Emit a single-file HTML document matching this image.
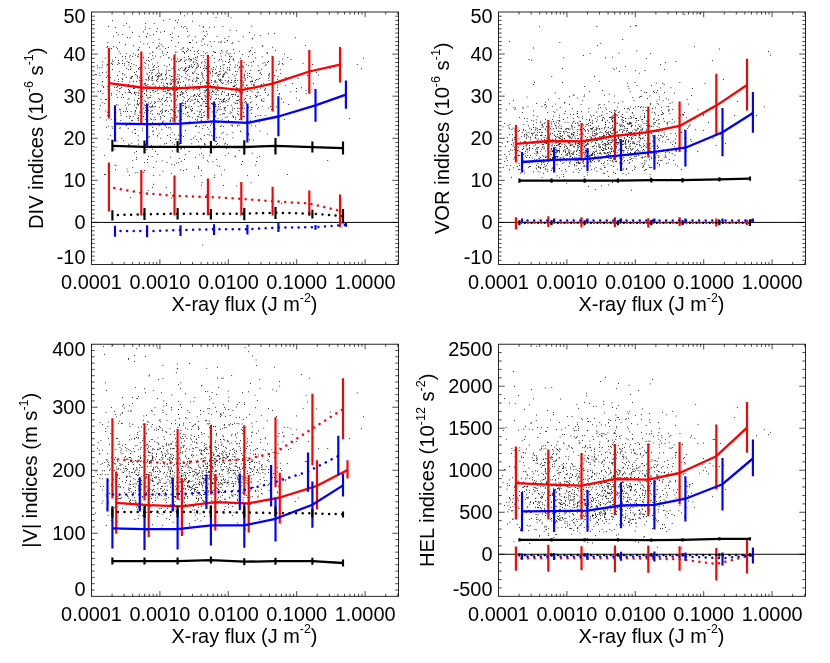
<!DOCTYPE html>
<html><head><meta charset="utf-8"><title>Flow indices vs X-ray flux</title>
<style>html,body{margin:0;padding:0;background:#fff;}svg{display:block;will-change:transform;}text{font-family:"Liberation Sans",sans-serif;font-size:19.9px;fill:#000;}</style></head><body>
<svg width="830" height="663" viewBox="0 0 830 663">
<rect x="0" y="0" width="830" height="663" fill="#fff"/>
<g>
<path d="M161.8 121.7h0.9M177.8 111.9h0.9M178.0 83.0h0.9M255.2 58.0h0.9M248.0 133.5h0.9M111.0 48.5h0.9M171.8 151.0h0.9M244.0 76.0h0.9M216.4 82.3h0.9M229.7 111.9h0.9M216.1 159.4h0.9M158.5 114.8h0.9M138.4 115.5h0.9M166.6 162.5h0.9M220.0 79.3h0.9M197.0 56.6h0.9M177.3 83.7h0.9M220.7 56.1h0.9M176.2 99.5h0.9M134.1 129.5h0.9M203.9 135.4h0.9M181.7 102.2h0.9M132.0 160.4h0.9M290.5 59.5h0.9M159.9 119.1h0.9M234.9 78.4h0.9M193.0 66.2h0.9M235.0 65.1h0.9M172.7 94.1h0.9M237.1 113.7h0.9M215.1 52.5h0.9M127.0 37.5h0.9M209.2 27.7h0.9M137.0 100.5h0.9M104.1 174.4h0.9M198.5 132.5h0.9M205.8 106.3h0.9M180.3 95.2h0.9M200.4 148.7h0.9M159.4 76.5h0.9M108.2 26.5h0.9M107.0 75.8h0.9M199.1 96.4h0.9M196.3 88.4h0.9M251.0 107.5h0.9M218.3 90.8h0.9M189.0 146.6h0.9M149.0 47.3h0.9M181.2 135.5h0.9M147.3 84.5h0.9M222.0 91.7h0.9M255.8 120.5h0.9M184.0 69.4h0.9M165.9 54.6h0.9M256.1 161.5h0.9M184.8 106.2h0.9M223.1 70.6h0.9M205.3 144.8h0.9M138.1 144.2h0.9M262.6 63.1h0.9M131.0 63.6h0.9M212.5 91.5h0.9M165.1 74.6h0.9M145.2 101.5h0.9M209.1 83.5h0.9M251.8 47.8h0.9M217.0 143.5h0.9M249.0 32.4h0.9M151.2 101.9h0.9M216.3 72.5h0.9M162.2 109.2h0.9M181.2 59.4h0.9M157.6 93.5h0.9M267.1 53.4h0.9M299.0 100.4h0.9M133.2 87.3h0.9M162.2 98.5h0.9M210.9 68.9h0.9M196.4 78.4h0.9M151.9 78.6h0.9M184.0 15.8h0.9M228.0 83.8h0.9M176.6 105.3h0.9M171.8 89.5h0.9M180.4 116.9h0.9M137.9 104.5h0.9M157.4 101.4h0.9M231.9 125.2h0.9M261.9 45.5h0.9M157.0 135.7h0.9M224.0 74.0h0.9M206.9 34.1h0.9M207.1 117.3h0.9M122.0 34.4h0.9M235.0 156.6h0.9M133.0 146.1h0.9M175.3 46.3h0.9M275.1 50.4h0.9M178.8 78.6h0.9M106.1 127.3h0.9M141.1 87.5h0.9M177.2 97.0h0.9M257.6 65.8h0.9M277.1 79.4h0.9M241.9 81.0h0.9M163.4 89.5h0.9M213.0 67.6h0.9M192.9 58.4h0.9M172.5 119.1h0.9M221.0 82.6h0.9M206.5 96.5h0.9M216.2 112.1h0.9M180.2 128.7h0.9M243.9 108.8h0.9M136.4 92.7h0.9M195.7 68.4h0.9M122.0 94.6h0.9M251.3 109.5h0.9M234.0 86.5h0.9M142.2 91.4h0.9M134.0 123.5h0.9M177.6 76.5h0.9M187.3 116.8h0.9M234.5 156.2h0.9M274.1 75.5h0.9M161.1 75.2h0.9M196.6 57.8h0.9M177.0 89.5h0.9M164.9 91.5h0.9M178.2 162.6h0.9M205.1 53.6h0.9M201.6 98.9h0.9M212.1 75.8h0.9M223.1 99.5h0.9M128.7 62.5h0.9M185.3 101.7h0.9M166.0 73.4h0.9M208.0 58.5h0.9M195.1 119.3h0.9M198.0 83.4h0.9M182.0 94.3h0.9M173.9 115.6h0.9M148.2 156.5h0.9M159.0 107.2h0.9M146.0 36.7h0.9M219.0 137.3h0.9M160.9 44.8h0.9M220.1 81.3h0.9M183.1 81.5h0.9M170.9 173.5h0.9M225.6 84.5h0.9M210.3 99.4h0.9M239.1 99.3h0.9M144.0 105.0h0.9M159.9 57.0h0.9M167.0 52.5h0.9M206.1 68.8h0.9M183.0 100.2h0.9M172.0 120.8h0.9M199.3 88.6h0.9M105.2 110.9h0.9M213.1 84.4h0.9M191.1 66.7h0.9M158.0 70.2h0.9M144.1 170.5h0.9M102.0 65.1h0.9M185.1 69.2h0.9M196.3 73.7h0.9M214.1 177.5h0.9M153.6 106.9h0.9M276.0 106.8h0.9M221.0 59.3h0.9M118.6 51.3h0.9M192.3 72.4h0.9M228.0 120.5h0.9M230.0 57.1h0.9M168.2 58.0h0.9M205.0 36.5h0.9M228.0 80.5h0.9M211.6 94.6h0.9M139.0 103.3h0.9M177.1 22.5h0.9M214.5 52.5h0.9M203.0 78.3h0.9M215.1 104.4h0.9M128.1 89.4h0.9M171.2 59.4h0.9M142.0 96.6h0.9M191.2 110.1h0.9M141.1 57.5h0.9M165.4 75.1h0.9M224.8 110.7h0.9M271.4 109.5h0.9M189.1 42.5h0.9M141.1 74.2h0.9M124.0 65.4h0.9M277.6 82.5h0.9M191.0 111.2h0.9M194.0 54.5h0.9M190.1 42.6h0.9M130.0 66.5h0.9M268.1 78.4h0.9M305.0 45.4h0.9M256.7 157.7h0.9M162.6 46.5h0.9M138.1 87.1h0.9M259.7 131.0h0.9M206.1 66.5h0.9M259.5 73.7h0.9M229.3 69.7h0.9M208.2 62.4h0.9M134.7 92.6h0.9M128.3 144.1h0.9M196.2 60.5h0.9M156.0 48.4h0.9M130.6 77.5h0.9M150.0 103.5h0.9M139.1 67.5h0.9M219.3 74.5h0.9M185.0 103.5h0.9M136.0 71.6h0.9M205.2 59.5h0.9M206.2 106.5h0.9M220.1 42.1h0.9M233.9 76.0h0.9M117.7 105.2h0.9M225.1 72.1h0.9M157.0 90.3h0.9M134.0 152.8h0.9M198.3 88.5h0.9M182.8 47.5h0.9M130.0 69.5h0.9M142.0 103.0h0.9M201.4 63.0h0.9M243.2 82.5h0.9M177.1 95.5h0.9M257.7 79.6h0.9M191.3 143.7h0.9M174.2 121.2h0.9M312.0 64.5h0.9M248.8 51.5h0.9M258.1 70.5h0.9M258.9 120.3h0.9M145.2 23.5h0.9M238.3 95.0h0.9M135.1 74.6h0.9M204.0 143.5h0.9M162.9 85.6h0.9M220.0 68.8h0.9M140.6 186.2h0.9M202.9 112.5h0.9M246.6 133.4h0.9M105.9 120.0h0.9M251.6 81.5h0.9M238.9 51.4h0.9M125.1 105.2h0.9M127.0 111.5h0.9M199.1 126.8h0.9M220.0 126.5h0.9M237.1 90.4h0.9M273.0 84.7h0.9M177.3 74.5h0.9M193.1 95.9h0.9M197.2 94.1h0.9M229.0 56.3h0.9M148.0 65.0h0.9M253.2 61.2h0.9M171.2 95.2h0.9M162.2 122.9h0.9M214.0 27.0h0.9M234.9 103.5h0.9M200.0 82.8h0.9M140.3 84.3h0.9M114.2 128.4h0.9M122.3 73.6h0.9M204.2 86.9h0.9M169.1 90.7h0.9M200.1 111.8h0.9M118.0 79.4h0.9M218.0 94.8h0.9M177.4 79.1h0.9M283.9 119.5h0.9M200.0 84.7h0.9M185.3 114.3h0.9M138.0 117.7h0.9M171.2 40.5h0.9M231.1 105.3h0.9M138.9 47.6h0.9M196.1 96.5h0.9M140.8 113.5h0.9M116.4 141.0h0.9M200.1 67.4h0.9M215.0 73.5h0.9M152.4 84.5h0.9M249.7 90.4h0.9M97.0 65.8h0.9M179.9 68.5h0.9M157.8 76.8h0.9M135.7 107.6h0.9M226.6 73.1h0.9M215.1 116.4h0.9M161.8 160.9h0.9M194.0 86.9h0.9M225.1 107.4h0.9M182.5 51.4h0.9M205.1 91.9h0.9M131.0 120.7h0.9M132.9 116.5h0.9M215.0 82.0h0.9M249.1 73.6h0.9M205.3 68.4h0.9M123.0 111.4h0.9M145.1 110.5h0.9M349.1 118.5h0.9M248.0 65.7h0.9M174.6 74.5h0.9M267.1 62.5h0.9M218.2 79.1h0.9M153.2 175.5h0.9M152.3 70.4h0.9M256.2 79.5h0.9M119.2 109.5h0.9M137.1 103.7h0.9M234.9 122.8h0.9M134.0 105.2h0.9M148.2 110.4h0.9M226.6 134.6h0.9M111.6 126.7h0.9M194.5 99.5h0.9M243.9 99.4h0.9M248.0 56.6h0.9M133.2 53.7h0.9M169.9 84.5h0.9M163.5 91.5h0.9M115.3 119.5h0.9M146.2 85.3h0.9M239.0 67.5h0.9M162.0 79.0h0.9M264.8 65.5h0.9M116.9 97.5h0.9M268.7 74.5h0.9M224.0 99.2h0.9M244.1 116.8h0.9M200.4 82.6h0.9M204.0 144.6h0.9M218.2 106.7h0.9M253.2 84.5h0.9M278.7 61.6h0.9M170.1 79.0h0.9M115.1 169.8h0.9M173.6 102.5h0.9M159.6 49.3h0.9M188.8 65.5h0.9M179.0 87.0h0.9M167.9 47.5h0.9M206.3 83.5h0.9M203.1 86.4h0.9M247.0 175.6h0.9M134.0 100.3h0.9M144.7 29.6h0.9M107.7 139.3h0.9M188.1 87.3h0.9M214.1 81.2h0.9M145.0 83.3h0.9M220.1 106.7h0.9M181.1 88.5h0.9M160.9 74.8h0.9M114.1 87.4h0.9M95.9 74.7h0.9M167.2 92.8h0.9M263.5 98.7h0.9M232.5 138.0h0.9M128.9 116.2h0.9M138.4 93.7h0.9M139.7 69.5h0.9M110.2 135.7h0.9M103.0 87.4h0.9M102.0 72.5h0.9M146.1 95.2h0.9M214.3 175.2h0.9M224.0 108.5h0.9M195.1 81.6h0.9M232.1 110.2h0.9M149.0 87.2h0.9M221.1 94.4h0.9M208.0 118.7h0.9M241.1 78.8h0.9M153.1 66.5h0.9M121.0 85.5h0.9M178.9 143.5h0.9M182.4 92.4h0.9M155.1 151.5h0.9M143.0 57.6h0.9M159.4 175.2h0.9M268.7 80.5h0.9M142.6 84.3h0.9M134.0 92.1h0.9M216.0 98.5h0.9M222.6 75.3h0.9M117.8 34.9h0.9M216.1 137.4h0.9M147.2 162.5h0.9M229.1 59.3h0.9M169.9 93.6h0.9M206.0 82.5h0.9M146.4 149.7h0.9M102.1 81.5h0.9M199.2 102.6h0.9M149.9 113.3h0.9M196.1 80.2h0.9M132.3 167.5h0.9M146.0 113.9h0.9M125.0 58.3h0.9M228.0 62.5h0.9M228.0 93.5h0.9M104.4 103.5h0.9M209.7 90.1h0.9M112.0 60.0h0.9M176.1 163.1h0.9M178.5 120.8h0.9M181.1 119.5h0.9M214.6 82.1h0.9M170.8 117.5h0.9M251.2 101.9h0.9M149.0 106.6h0.9M175.9 117.4h0.9M189.2 79.7h0.9M179.0 74.9h0.9M206.3 75.5h0.9M225.2 55.2h0.9M124.1 63.7h0.9M191.0 106.5h0.9M152.7 131.1h0.9M228.3 62.4h0.9M237.3 88.8h0.9M204.1 111.8h0.9M111.0 95.2h0.9M134.7 133.3h0.9M143.4 172.5h0.9M254.1 85.1h0.9M188.9 58.5h0.9M114.4 165.0h0.9M105.0 174.6h0.9M137.8 135.7h0.9M125.8 53.6h0.9M139.0 112.0h0.9M232.4 132.6h0.9M178.0 61.7h0.9M170.0 157.2h0.9M153.2 167.5h0.9M207.7 162.1h0.9M262.4 46.3h0.9M129.7 37.5h0.9M226.5 53.0h0.9M206.1 194.8h0.9M144.5 84.5h0.9M242.0 161.5h0.9M149.5 97.5h0.9M190.8 59.5h0.9M223.1 101.3h0.9M318.0 75.1h0.9M203.7 115.4h0.9M153.1 90.3h0.9M127.6 99.6h0.9M241.1 84.6h0.9M235.5 91.7h0.9M190.1 50.7h0.9M149.2 28.5h0.9M166.4 97.5h0.9M228.3 54.3h0.9M208.1 86.5h0.9M260.2 72.4h0.9M216.0 98.5h0.9M188.3 59.2h0.9M155.0 91.5h0.9M116.1 104.6h0.9M170.8 198.1h0.9M192.8 73.6h0.9M192.1 67.5h0.9M160.1 116.7h0.9M198.1 168.0h0.9M219.9 53.5h0.9M198.0 50.6h0.9M287.4 57.5h0.9M190.7 139.5h0.9M95.6 147.3h0.9M197.0 99.7h0.9M160.0 32.2h0.9M132.1 76.5h0.9M142.7 89.6h0.9M200.0 105.4h0.9M172.4 90.4h0.9M173.1 58.6h0.9M219.1 71.6h0.9M215.8 94.7h0.9M134.5 113.0h0.9M203.8 92.5h0.9M192.8 78.9h0.9M135.0 110.5h0.9M126.2 116.6h0.9M240.2 92.4h0.9M203.2 31.7h0.9M206.6 94.8h0.9M207.1 114.5h0.9M223.7 64.6h0.9M201.1 98.6h0.9M181.4 67.7h0.9M279.8 69.4h0.9M212.0 71.2h0.9M285.1 85.4h0.9M204.9 96.1h0.9M145.0 107.8h0.9M213.8 58.5h0.9M175.1 52.3h0.9M217.0 85.2h0.9M242.7 77.1h0.9M249.8 110.3h0.9M185.0 154.7h0.9M227.1 69.8h0.9M266.4 52.6h0.9M194.7 59.5h0.9M166.6 66.5h0.9M201.1 185.2h0.9M171.0 100.3h0.9M247.5 135.2h0.9M154.6 85.8h0.9M137.1 101.8h0.9M162.1 103.9h0.9M140.0 75.5h0.9M188.7 151.5h0.9M158.4 75.6h0.9M173.9 92.9h0.9M169.8 82.8h0.9M213.0 51.7h0.9M137.9 120.5h0.9M215.2 116.1h0.9M163.2 55.3h0.9M152.1 187.5h0.9M261.1 100.5h0.9M116.0 32.6h0.9M212.7 91.3h0.9M279.1 93.7h0.9M155.8 161.6h0.9M159.7 101.6h0.9M241.8 103.8h0.9M204.0 35.5h0.9M255.0 126.0h0.9M147.1 159.5h0.9M236.9 103.6h0.9M210.1 125.5h0.9M219.1 80.4h0.9M263.3 83.4h0.9M112.0 64.5h0.9M126.1 77.5h0.9M164.1 31.5h0.9M149.8 97.3h0.9M201.3 113.8h0.9M178.2 139.5h0.9M146.1 95.2h0.9M185.9 67.6h0.9M135.1 94.7h0.9M221.4 80.2h0.9M110.7 119.3h0.9M250.5 88.2h0.9M121.9 56.5h0.9M269.1 76.9h0.9M290.3 91.8h0.9M152.2 76.4h0.9M107.5 42.6h0.9M229.1 61.4h0.9M244.0 78.0h0.9M191.9 84.9h0.9M329.9 68.4h0.9M166.8 86.7h0.9M180.3 115.5h0.9M152.6 67.6h0.9M128.1 84.5h0.9M277.6 76.6h0.9M172.9 89.3h0.9M204.2 44.1h0.9M148.3 68.1h0.9M227.0 40.6h0.9M305.7 93.7h0.9M129.0 118.2h0.9M146.3 73.3h0.9M195.0 126.5h0.9M136.5 75.3h0.9M156.9 73.6h0.9M222.1 88.5h0.9M213.7 41.5h0.9M141.1 64.7h0.9M224.0 170.0h0.9M129.1 175.3h0.9M116.2 87.4h0.9M213.0 146.9h0.9M158.7 133.7h0.9M151.1 59.7h0.9M188.0 56.4h0.9M166.0 78.7h0.9M180.1 94.6h0.9M167.7 90.9h0.9M282.0 59.0h0.9M260.9 84.5h0.9M252.1 54.2h0.9M147.9 190.4h0.9M196.9 51.5h0.9M356.8 64.5h0.9M153.0 34.4h0.9M202.1 73.7h0.9M232.1 96.6h0.9M205.0 99.5h0.9M243.3 67.8h0.9M246.2 110.2h0.9M226.2 95.5h0.9M209.4 155.7h0.9M207.0 45.2h0.9M140.8 76.5h0.9M111.5 63.3h0.9M147.5 97.5h0.9M261.1 99.4h0.9M105.0 99.5h0.9M176.8 116.5h0.9M240.3 131.2h0.9M137.0 56.3h0.9M186.1 51.4h0.9M237.6 111.5h0.9M235.2 82.6h0.9M205.0 103.5h0.9M183.9 57.5h0.9M203.0 51.8h0.9M152.3 52.2h0.9M162.1 112.4h0.9M211.3 82.3h0.9M169.7 120.5h0.9M144.3 83.5h0.9M229.0 98.1h0.9M118.8 71.6h0.9M161.9 111.2h0.9M232.4 74.4h0.9M172.4 79.7h0.9M201.0 115.4h0.9M143.3 43.8h0.9M129.2 90.5h0.9M171.5 68.8h0.9M180.4 94.4h0.9M204.4 95.3h0.9M151.3 80.1h0.9M161.2 99.5h0.9M199.0 114.5h0.9M205.3 90.4h0.9M165.6 105.5h0.9M212.4 73.1h0.9M116.7 90.5h0.9M207.2 64.5h0.9M170.8 80.3h0.9M254.5 52.5h0.9M257.0 108.9h0.9M209.0 83.5h0.9M201.2 170.6h0.9M226.0 100.5h0.9M218.7 145.7h0.9M195.9 125.4h0.9M159.9 74.8h0.9M129.0 57.2h0.9M238.9 91.8h0.9M194.1 71.8h0.9M231.2 94.5h0.9M179.8 124.2h0.9M213.1 123.5h0.9M249.7 98.5h0.9M104.1 155.6h0.9M223.8 101.5h0.9M361.1 68.7h0.9M196.3 126.7h0.9M198.3 53.5h0.9M184.2 148.6h0.9M237.9 122.6h0.9M241.3 105.5h0.9M277.0 90.5h0.9M268.1 94.3h0.9M243.2 116.6h0.9M187.0 89.1h0.9M251.7 91.6h0.9M148.5 88.4h0.9M148.3 104.2h0.9M193.1 89.0h0.9M201.7 45.4h0.9M107.7 89.5h0.9M243.4 154.1h0.9M191.0 64.8h0.9M184.9 77.5h0.9M171.0 109.6h0.9M235.1 117.4h0.9M181.1 91.5h0.9M167.5 90.6h0.9M207.1 62.7h0.9M192.4 100.3h0.9M152.0 114.2h0.9M159.0 99.4h0.9M242.8 66.4h0.9M198.2 106.4h0.9M216.1 144.5h0.9M122.2 60.6h0.9M176.8 89.4h0.9M205.1 125.3h0.9M154.0 103.5h0.9M202.0 75.5h0.9M272.1 191.0h0.9M244.6 80.4h0.9M282.6 64.7h0.9M219.6 71.5h0.9M158.3 75.5h0.9M190.0 42.5h0.9M206.2 103.5h0.9M131.0 93.6h0.9M207.9 108.9h0.9M217.1 90.3h0.9M192.4 81.6h0.9M146.1 60.3h0.9M212.6 161.7h0.9M119.6 88.4h0.9M218.0 74.5h0.9M170.8 101.3h0.9M182.8 70.3h0.9M242.0 93.1h0.9M217.2 110.5h0.9M237.2 100.5h0.9M198.2 145.8h0.9M215.1 99.5h0.9M207.3 119.5h0.9M223.5 74.7h0.9M238.9 66.9h0.9M197.9 66.4h0.9M213.7 105.5h0.9M121.5 138.5h0.9M107.1 112.2h0.9M206.1 90.4h0.9M189.0 116.6h0.9M114.2 80.4h0.9M250.2 70.5h0.9M188.8 84.8h0.9M187.3 123.6h0.9M175.1 139.6h0.9M136.1 81.4h0.9M240.2 58.3h0.9M154.0 101.8h0.9M224.0 144.0h0.9M245.9 64.7h0.9M160.1 111.4h0.9M232.1 108.0h0.9M208.0 113.9h0.9M248.0 134.6h0.9M180.1 82.4h0.9M108.1 97.7h0.9M217.1 75.5h0.9M183.0 170.5h0.9M242.5 102.1h0.9M257.5 115.5h0.9M177.8 81.5h0.9M202.7 27.6h0.9M249.9 96.5h0.9M102.5 93.5h0.9M101.5 67.6h0.9M256.7 92.5h0.9M226.1 148.4h0.9M223.0 76.5h0.9M126.1 68.5h0.9M156.9 76.6h0.9M247.1 91.5h0.9M119.7 127.3h0.9M208.1 69.5h0.9M195.5 62.7h0.9M215.4 106.7h0.9M264.0 90.1h0.9M165.0 79.9h0.9M211.1 123.6h0.9M113.0 46.5h0.9M208.4 129.2h0.9M138.0 119.1h0.9M189.1 98.6h0.9M202.5 38.8h0.9M231.1 82.5h0.9M215.2 128.9h0.9M155.1 119.6h0.9M140.5 86.5h0.9M209.8 73.5h0.9M165.0 111.5h0.9M109.1 95.0h0.9M260.0 88.2h0.9M169.3 19.5h0.9M157.4 81.5h0.9M151.7 110.4h0.9M211.1 103.5h0.9M212.7 136.0h0.9M189.4 121.5h0.9M182.6 96.5h0.9M168.3 70.6h0.9M235.0 119.2h0.9M148.2 77.5h0.9M250.7 182.8h0.9M233.1 49.6h0.9M224.8 155.4h0.9M140.2 41.9h0.9M190.0 101.4h0.9M256.9 89.2h0.9M180.9 161.3h0.9M195.1 99.2h0.9M272.4 83.5h0.9M171.7 81.7h0.9M227.7 101.5h0.9M205.7 82.4h0.9M308.8 61.7h0.9M201.2 41.2h0.9M145.1 63.6h0.9M265.8 64.6h0.9M148.0 78.4h0.9M205.0 106.5h0.9M231.6 43.6h0.9M220.9 125.6h0.9M202.2 244.9h0.9M220.6 109.6h0.9M173.3 68.4h0.9M268.0 75.5h0.9M207.1 85.3h0.9M170.0 121.5h0.9M198.9 88.6h0.9M264.5 62.8h0.9M223.1 126.5h0.9M216.7 36.5h0.9M154.3 69.6h0.9M159.0 86.1h0.9M213.4 148.4h0.9M223.8 73.4h0.9M236.1 74.7h0.9M152.3 131.2h0.9M247.0 73.3h0.9M127.4 171.5h0.9M276.1 70.3h0.9M152.6 42.6h0.9M161.4 129.5h0.9M250.1 102.8h0.9M106.5 47.5h0.9M217.9 76.6h0.9M268.1 108.1h0.9M251.9 81.6h0.9M126.1 125.5h0.9M223.8 109.8h0.9M200.0 93.1h0.9M198.3 168.3h0.9M165.8 187.4h0.9M171.7 76.5h0.9M153.4 119.9h0.9M139.2 80.5h0.9M231.3 56.5h0.9M249.3 52.0h0.9M146.0 120.1h0.9M119.1 42.5h0.9M274.0 150.5h0.9M279.2 63.7h0.9M165.1 48.5h0.9M182.8 103.5h0.9M147.1 33.5h0.9M240.0 92.4h0.9M152.3 52.2h0.9M142.1 128.2h0.9M138.1 54.6h0.9M251.8 153.1h0.9M180.1 103.4h0.9M238.5 41.4h0.9M205.7 101.3h0.9M178.8 158.5h0.9M130.0 92.5h0.9M229.7 64.8h0.9M148.0 137.3h0.9M206.1 31.6h0.9M112.0 69.5h0.9M145.1 105.5h0.9M363.0 58.2h0.9M308.0 89.0h0.9M217.1 89.2h0.9M272.5 72.4h0.9M115.8 165.7h0.9M225.6 72.2h0.9M244.7 87.5h0.9M107.8 126.4h0.9M194.4 95.5h0.9M234.9 147.5h0.9M196.4 67.2h0.9M201.1 120.2h0.9M242.6 105.3h0.9M196.1 42.4h0.9M249.0 123.2h0.9M101.9 102.4h0.9M217.6 109.0h0.9M118.1 60.5h0.9M152.8 58.4h0.9M207.8 65.4h0.9M128.8 92.2h0.9M204.1 65.7h0.9M126.7 61.4h0.9M100.4 90.9h0.9M204.7 122.4h0.9M229.3 59.3h0.9M215.3 89.5h0.9M241.1 164.5h0.9M244.2 75.4h0.9M134.5 114.4h0.9M261.8 56.8h0.9M177.6 110.6h0.9M222.3 102.4h0.9M116.2 94.7h0.9M188.0 99.5h0.9M153.8 23.6h0.9M268.2 33.7h0.9M196.7 120.7h0.9M123.1 97.5h0.9M123.1 140.7h0.9M135.9 159.5h0.9M126.5 169.1h0.9M247.1 108.4h0.9M117.3 64.5h0.9M201.0 72.3h0.9M185.0 84.8h0.9M227.9 120.7h0.9M125.0 111.4h0.9M234.0 53.1h0.9M204.1 101.6h0.9M231.3 112.6h0.9M138.7 90.7h0.9M114.9 27.5h0.9M236.2 84.6h0.9M175.0 112.3h0.9M180.6 92.6h0.9M172.0 86.6h0.9M139.5 82.1h0.9M129.6 104.3h0.9M182.0 93.2h0.9M183.0 27.8h0.9M187.8 115.3h0.9M253.0 140.1h0.9M187.2 75.0h0.9M296.1 88.5h0.9M175.7 139.0h0.9M230.6 17.8h0.9M144.1 162.6h0.9M147.9 76.9h0.9M201.3 74.1h0.9M179.1 144.7h0.9M222.8 68.2h0.9M199.3 112.2h0.9M137.0 118.5h0.9M240.0 80.3h0.9M235.7 88.5h0.9M209.9 98.5h0.9M160.2 138.1h0.9M136.9 78.2h0.9M201.1 139.3h0.9M176.1 61.6h0.9M235.9 30.7h0.9M201.5 182.5h0.9M122.0 79.5h0.9M169.7 127.4h0.9M181.3 111.5h0.9M115.3 132.5h0.9M150.1 92.4h0.9M180.7 49.6h0.9M178.1 135.1h0.9M170.2 113.8h0.9M206.1 89.6h0.9M162.4 79.7h0.9M258.0 107.4h0.9M136.7 172.5h0.9M130.5 68.0h0.9M230.2 82.5h0.9M170.3 84.2h0.9M206.6 52.5h0.9M124.2 75.0h0.9M152.8 69.5h0.9M130.3 78.5h0.9M267.4 95.5h0.9M258.0 175.5h0.9M171.3 164.6h0.9M221.9 91.5h0.9M182.9 136.5h0.9M233.1 86.8h0.9M177.0 96.1h0.9M152.0 105.2h0.9M197.9 74.5h0.9M137.7 50.4h0.9M181.1 76.8h0.9M201.1 117.5h0.9M184.1 52.6h0.9M198.1 141.6h0.9M150.9 106.5h0.9M178.1 36.5h0.9M254.2 82.7h0.9M202.1 117.5h0.9M188.6 35.6h0.9M229.7 53.6h0.9M224.1 113.7h0.9M129.1 123.2h0.9M228.1 94.5h0.9M192.3 40.2h0.9M242.8 36.7h0.9M195.1 157.4h0.9M232.4 42.6h0.9M165.9 70.3h0.9M201.8 81.1h0.9M203.9 90.2h0.9M227.4 105.5h0.9M185.1 108.5h0.9M189.2 66.6h0.9M150.1 118.8h0.9M233.0 58.7h0.9M138.9 77.4h0.9M185.9 59.8h0.9M150.2 70.6h0.9M238.8 150.5h0.9M184.7 103.8h0.9M223.1 74.6h0.9M152.8 83.2h0.9M209.2 93.4h0.9M181.1 148.5h0.9M146.0 91.9h0.9M236.0 100.7h0.9M176.5 52.2h0.9M189.0 123.6h0.9M209.1 135.0h0.9M246.4 95.5h0.9M164.1 116.5h0.9M251.0 125.3h0.9M211.1 97.2h0.9M220.0 81.0h0.9M205.6 97.5h0.9M138.0 140.3h0.9M125.1 56.5h0.9M151.7 156.5h0.9M175.3 100.9h0.9M245.0 98.5h0.9M131.3 143.3h0.9M277.1 87.7h0.9M188.4 107.5h0.9M183.9 97.6h0.9M208.3 116.4h0.9M155.0 56.1h0.9M224.9 102.1h0.9M231.5 90.3h0.9M183.4 93.4h0.9M261.1 86.8h0.9M150.6 111.4h0.9M170.9 76.5h0.9M133.1 81.5h0.9M315.9 72.5h0.9M245.0 101.5h0.9M138.1 69.1h0.9M228.8 99.1h0.9M226.9 116.9h0.9M213.6 101.7h0.9M224.0 92.2h0.9M197.6 101.3h0.9M256.0 104.6h0.9M120.3 120.5h0.9M157.3 154.5h0.9M171.0 83.7h0.9M104.8 58.2h0.9M237.2 80.5h0.9M196.1 77.4h0.9M184.0 61.3h0.9M252.0 38.9h0.9M259.3 70.4h0.9M157.1 62.8h0.9M151.1 145.5h0.9M198.1 101.5h0.9M218.0 87.0h0.9M197.0 119.2h0.9M145.9 80.0h0.9M191.9 80.5h0.9M119.5 88.5h0.9M156.9 28.5h0.9M244.1 62.5h0.9M187.1 95.3h0.9M152.0 77.0h0.9M281.0 203.5h0.9M134.7 172.9h0.9M201.1 153.4h0.9M202.8 55.5h0.9M209.6 108.2h0.9M236.3 186.0h0.9M185.0 68.3h0.9M232.0 126.0h0.9M178.8 110.5h0.9M180.4 59.5h0.9M145.0 85.6h0.9M150.4 107.5h0.9M175.1 115.5h0.9M242.0 108.2h0.9M213.3 122.0h0.9M166.3 87.1h0.9M98.7 73.2h0.9M135.8 65.6h0.9M204.1 70.5h0.9M151.3 78.0h0.9M181.2 109.9h0.9M174.7 54.5h0.9M130.0 116.7h0.9M264.7 115.6h0.9M188.2 49.5h0.9M209.1 108.5h0.9M192.8 96.4h0.9M156.2 80.3h0.9M212.3 104.5h0.9M255.2 165.2h0.9M184.0 159.5h0.9M219.6 103.3h0.9M197.0 101.7h0.9M152.0 55.7h0.9M222.1 61.2h0.9M190.2 59.6h0.9M199.5 111.3h0.9M260.2 115.5h0.9M186.0 78.7h0.9M143.1 31.9h0.9M159.3 43.3h0.9M156.6 47.5h0.9M155.0 102.3h0.9M301.0 87.7h0.9M167.1 52.5h0.9M200.7 120.3h0.9M167.3 90.4h0.9M151.9 107.1h0.9M234.4 80.6h0.9M119.1 85.5h0.9M164.1 143.9h0.9M212.8 69.5h0.9M193.9 88.3h0.9M154.3 117.3h0.9M140.2 68.3h0.9M211.8 111.9h0.9M247.0 77.7h0.9M270.0 106.5h0.9M187.9 69.7h0.9M180.0 122.9h0.9M126.0 109.1h0.9M173.9 27.9h0.9M232.2 116.0h0.9M97.8 91.5h0.9M171.6 37.5h0.9M232.0 94.5h0.9M238.8 125.1h0.9M249.4 76.5h0.9M212.5 88.5h0.9M164.7 110.5h0.9M253.1 61.7h0.9M228.3 77.6h0.9M158.6 39.3h0.9M226.6 50.5h0.9M237.0 126.2h0.9M105.8 72.2h0.9M192.3 47.4h0.9M156.0 80.6h0.9M187.9 67.5h0.9M187.1 31.3h0.9M119.4 123.5h0.9M146.0 88.9h0.9M228.4 36.5h0.9M105.9 77.4h0.9M187.2 48.3h0.9M158.0 98.7h0.9M128.0 69.6h0.9M199.5 96.4h0.9M233.5 102.3h0.9M147.9 60.5h0.9M272.2 47.3h0.9M212.0 90.3h0.9M242.0 66.6h0.9M227.2 82.1h0.9M193.9 113.5h0.9M245.1 79.0h0.9M140.1 78.5h0.9M251.3 26.2h0.9M108.8 112.5h0.9M149.1 61.3h0.9M177.0 59.1h0.9M130.3 59.7h0.9M174.9 20.5h0.9M198.2 65.2h0.9M202.8 39.3h0.9M172.1 118.2h0.9M197.0 63.5h0.9M130.6 111.5h0.9M231.1 80.4h0.9M175.9 89.6h0.9M186.8 112.5h0.9M158.8 113.9h0.9M239.1 102.1h0.9M174.1 165.1h0.9M143.0 116.5h0.9M107.4 86.5h0.9M162.0 51.4h0.9M261.1 74.5h0.9M192.2 117.8h0.9M194.9 36.8h0.9M136.7 104.7h0.9M158.6 46.2h0.9M184.5 60.1h0.9M218.0 98.5h0.9M169.3 75.5h0.9M154.0 65.3h0.9M176.0 86.4h0.9M165.9 72.0h0.9M242.1 107.5h0.9M245.8 121.5h0.9M208.7 86.5h0.9M139.0 86.4h0.9M180.0 149.1h0.9M235.3 95.3h0.9M199.3 25.7h0.9M190.8 100.1h0.9M235.0 80.6h0.9M233.1 117.3h0.9M137.0 76.5h0.9M177.4 81.9h0.9M111.0 63.6h0.9M242.2 54.5h0.9M131.3 76.5h0.9M161.3 110.6h0.9M207.6 80.1h0.9M161.0 113.3h0.9M182.5 48.5h0.9M138.6 98.5h0.9M209.1 92.3h0.9M258.9 122.2h0.9M158.8 125.5h0.9M221.2 50.5h0.9M261.0 69.2h0.9M118.9 63.4h0.9M131.0 78.3h0.9M227.8 81.5h0.9M295.9 91.5h0.9M250.0 81.9h0.9M115.2 57.6h0.9M217.9 122.6h0.9M137.9 105.1h0.9M239.1 119.5h0.9M178.7 70.6h0.9M215.2 105.0h0.9M182.8 113.5h0.9M180.2 169.9h0.9M169.0 93.5h0.9M152.0 106.3h0.9M189.4 76.5h0.9M180.9 104.1h0.9M215.0 141.4h0.9M193.5 103.8h0.9M120.3 113.5h0.9M286.9 174.5h0.9M168.6 57.5h0.9M243.2 85.2h0.9M185.2 107.1h0.9M189.4 61.1h0.9M207.4 134.5h0.9M180.8 103.7h0.9M200.7 175.5h0.9M215.9 92.3h0.9M217.6 118.3h0.9M170.3 134.7h0.9M266.8 134.1h0.9M255.6 97.5h0.9M258.0 92.2h0.9M222.3 77.4h0.9M250.4 81.5h0.9M138.2 56.9h0.9M128.6 98.5h0.9M236.8 71.6h0.9M245.8 103.7h0.9M265.0 88.6h0.9M129.0 27.0h0.9M158.1 66.4h0.9M162.6 115.5h0.9M210.4 96.3h0.9M211.0 92.6h0.9M170.1 137.5h0.9M278.2 64.5h0.9M107.0 64.5h0.9M183.1 51.5h0.9M153.0 134.6h0.9M166.2 77.5h0.9M259.2 156.5h0.9M237.3 88.9h0.9M222.7 132.4h0.9M193.1 137.9h0.9M121.6 78.4h0.9M174.1 144.5h0.9M175.0 71.7h0.9M127.8 128.4h0.9M166.1 93.5h0.9M196.6 67.4h0.9M257.0 87.5h0.9M131.8 132.0h0.9M242.0 92.2h0.9M173.3 67.2h0.9M121.8 81.6h0.9M163.4 95.8h0.9M153.8 123.7h0.9M233.9 85.8h0.9M200.1 138.6h0.9M277.1 85.2h0.9M146.8 138.1h0.9M219.0 109.2h0.9M221.3 93.0h0.9M211.4 88.0h0.9M136.1 157.5h0.9M226.9 67.7h0.9M147.2 74.5h0.9M202.4 103.9h0.9M238.2 69.3h0.9M247.3 75.5h0.9M224.1 42.4h0.9M233.1 146.6h0.9M166.9 97.6h0.9M153.3 92.3h0.9M187.2 100.8h0.9M186.5 90.2h0.9M200.7 55.5h0.9M268.0 61.5h0.9M134.1 72.5h0.9M194.7 136.1h0.9M250.1 50.5h0.9M197.0 78.0h0.9M288.2 104.5h0.9M105.6 99.5h0.9M302.6 63.4h0.9M215.9 66.8h0.9M185.1 130.5h0.9M274.0 33.5h0.9M157.1 135.8h0.9M199.6 117.6h0.9M251.0 77.4h0.9M204.2 61.6h0.9M175.9 89.8h0.9M161.7 104.6h0.9M169.5 70.5h0.9M182.1 103.0h0.9M152.0 90.8h0.9M215.0 88.0h0.9M156.1 75.0h0.9M237.1 65.4h0.9M156.3 67.5h0.9M164.0 86.5h0.9M251.8 80.7h0.9M189.3 42.6h0.9M225.6 122.6h0.9M215.9 141.6h0.9M135.0 55.2h0.9M140.2 112.5h0.9M196.8 89.5h0.9M185.1 85.7h0.9M185.2 73.4h0.9M251.2 84.1h0.9M140.1 67.8h0.9M155.0 106.5h0.9M167.1 101.6h0.9M284.1 54.1h0.9M163.3 83.8h0.9M225.5 51.9h0.9M189.0 67.6h0.9M124.0 85.6h0.9M188.7 106.0h0.9M263.4 101.2h0.9M159.1 73.3h0.9M147.6 98.4h0.9M292.2 83.5h0.9M180.0 60.5h0.9M198.1 95.7h0.9M198.9 154.8h0.9M237.1 108.4h0.9M107.1 46.5h0.9M261.8 106.3h0.9M172.3 142.8h0.9M225.3 117.5h0.9M167.0 83.6h0.9M221.1 41.9h0.9M216.0 88.3h0.9M147.2 194.2h0.9M233.1 94.5h0.9M218.4 60.9h0.9M140.1 96.7h0.9M251.0 113.4h0.9M261.6 119.7h0.9M138.1 68.7h0.9M144.3 100.3h0.9M281.1 98.8h0.9M219.0 166.3h0.9M213.7 92.4h0.9M209.0 66.6h0.9M164.2 65.4h0.9M249.0 139.5h0.9M161.4 73.6h0.9M295.9 98.1h0.9M219.0 59.5h0.9M191.0 60.3h0.9M151.6 72.5h0.9M144.0 112.7h0.9M102.2 81.8h0.9M169.0 64.7h0.9M243.0 112.6h0.9M202.9 157.7h0.9M124.9 44.6h0.9M144.3 62.5h0.9M185.5 71.7h0.9M134.1 88.4h0.9M158.0 72.2h0.9M193.2 61.9h0.9M202.0 99.5h0.9M209.1 95.4h0.9M212.1 55.4h0.9M212.1 71.5h0.9M235.1 94.4h0.9M221.2 101.5h0.9M242.5 84.3h0.9M183.9 70.6h0.9M170.5 129.0h0.9M285.4 77.4h0.9M162.3 122.8h0.9M187.1 13.9h0.9M170.1 140.5h0.9M269.1 73.7h0.9M193.1 62.0h0.9M185.0 91.2h0.9M111.1 93.6h0.9M170.0 119.9h0.9M107.9 64.1h0.9M182.1 105.9h0.9M238.9 88.2h0.9M223.6 107.5h0.9M119.7 53.6h0.9M147.9 57.5h0.9M119.2 91.8h0.9M227.8 99.6h0.9M120.5 115.5h0.9M199.3 90.6h0.9M210.9 80.5h0.9M238.8 92.2h0.9M170.1 93.4h0.9M228.2 153.4h0.9M194.2 176.4h0.9M191.5 123.6h0.9M222.7 82.8h0.9M171.1 83.6h0.9M205.1 85.6h0.9M246.9 88.6h0.9M256.1 96.5h0.9M102.0 61.8h0.9M158.1 46.0h0.9M147.2 44.0h0.9M236.6 103.1h0.9M162.5 90.8h0.9M220.1 66.5h0.9M103.1 86.7h0.9M210.0 85.4h0.9M203.8 115.9h0.9M151.2 119.5h0.9M294.9 37.7h0.9M237.2 96.5h0.9M234.0 108.6h0.9M246.1 102.4h0.9M277.9 110.9h0.9M222.2 114.1h0.9M219.8 99.5h0.9M202.9 57.4h0.9M156.1 128.9h0.9M238.7 108.5h0.9M166.1 99.8h0.9M209.1 71.5h0.9M163.4 120.9h0.9M162.5 171.3h0.9M214.9 106.5h0.9M297.7 78.5h0.9M144.1 93.5h0.9M259.7 95.5h0.9M144.9 68.4h0.9M178.1 42.7h0.9M148.4 102.0h0.9M132.2 56.4h0.9M109.1 98.3h0.9M221.7 119.3h0.9M249.8 120.6h0.9M218.7 101.7h0.9M221.7 51.9h0.9M209.7 41.5h0.9M171.9 33.2h0.9M196.1 139.4h0.9M107.9 70.5h0.9M201.4 62.4h0.9M283.1 102.3h0.9M147.5 87.7h0.9M116.0 47.2h0.9M177.2 92.5h0.9M129.3 145.1h0.9M327.3 160.5h0.9M229.0 67.8h0.9M150.6 124.8h0.9M138.9 36.5h0.9M255.1 80.6h0.9M127.0 103.0h0.9M214.9 80.6h0.9M100.5 99.4h0.9M181.0 26.5h0.9M159.9 146.0h0.9M210.8 46.4h0.9M151.1 73.8h0.9M157.6 77.5h0.9M196.8 111.0h0.9M150.4 95.5h0.9M261.5 146.8h0.9M118.0 62.8h0.9M115.3 112.4h0.9M236.0 92.3h0.9M169.9 95.0h0.9M259.8 35.5h0.9M128.7 92.6h0.9M175.6 90.5h0.9M183.1 105.5h0.9M179.0 85.7h0.9M252.2 38.3h0.9M144.5 66.9h0.9M144.9 119.5h0.9M179.2 61.3h0.9M101.6 85.4h0.9M99.5 75.6h0.9M240.0 114.7h0.9M129.3 81.9h0.9M149.0 76.0h0.9M178.5 152.7h0.9M164.7 125.5h0.9M229.7 113.8h0.9M237.4 125.1h0.9M222.7 65.1h0.9M122.0 63.5h0.9M106.4 65.3h0.9M149.1 136.3h0.9M196.8 64.9h0.9M141.8 80.6h0.9M124.8 92.6h0.9M175.9 107.5h0.9M250.8 62.5h0.9M132.0 120.4h0.9M198.1 116.5h0.9M132.1 32.4h0.9M232.9 116.4h0.9M120.9 97.4h0.9M204.6 67.9h0.9M134.9 129.6h0.9M123.1 84.8h0.9M224.4 38.5h0.9M216.8 165.6h0.9M122.1 94.5h0.9M194.3 103.0h0.9M128.8 91.9h0.9M132.7 85.3h0.9M152.0 149.2h0.9M144.1 93.7h0.9M232.6 86.5h0.9M145.2 144.5h0.9M123.3 25.6h0.9M225.2 61.5h0.9M187.3 50.6h0.9M173.0 81.5h0.9M172.0 110.3h0.9M100.1 91.5h0.9M194.9 70.0h0.9M128.1 105.0h0.9M187.2 36.9h0.9M117.3 86.4h0.9M137.9 95.5h0.9M205.2 62.9h0.9M195.1 57.4h0.9M161.0 82.7h0.9M172.6 88.1h0.9M202.0 77.1h0.9M204.2 80.1h0.9M202.3 128.4h0.9M153.1 184.3h0.9M238.2 62.3h0.9M255.2 95.5h0.9M216.0 88.7h0.9M257.0 96.1h0.9M176.1 79.3h0.9M166.0 83.4h0.9M186.0 71.5h0.9M163.6 87.7h0.9M233.7 82.2h0.9M242.0 146.8h0.9M162.4 53.4h0.9M244.1 74.2h0.9M222.5 26.5h0.9M135.1 133.5h0.9M166.1 127.3h0.9M126.0 107.9h0.9M213.0 102.5h0.9M190.0 109.4h0.9M207.0 160.3h0.9M97.2 84.3h0.9M226.8 144.5h0.9M214.5 52.4h0.9M117.0 75.5h0.9M215.6 17.5h0.9M168.0 111.4h0.9M246.1 85.3h0.9M157.6 78.9h0.9M194.0 64.5h0.9M155.0 75.5h0.9M244.3 102.7h0.9M179.0 79.8h0.9M109.9 77.4h0.9M223.1 101.3h0.9M229.7 30.2h0.9M265.2 92.5h0.9M239.7 90.3h0.9M202.9 101.3h0.9M206.8 72.1h0.9M227.9 95.4h0.9M178.1 69.5h0.9M121.9 73.7h0.9M186.0 169.5h0.9M168.1 127.8h0.9M187.1 101.5h0.9M118.9 146.4h0.9M245.0 71.0h0.9M209.0 87.5h0.9M254.0 35.1h0.9M202.7 155.3h0.9M184.6 26.5h0.9M254.0 89.1h0.9M143.3 108.5h0.9M232.1 121.5h0.9M169.4 97.5h0.9M233.4 60.6h0.9M112.5 61.5h0.9M170.4 109.6h0.9M307.0 75.5h0.9M165.9 110.4h0.9M148.7 79.3h0.9M194.3 94.8h0.9M192.0 21.2h0.9M239.9 71.5h0.9M167.2 84.6h0.9M220.1 74.0h0.9M221.5 133.6h0.9M185.1 63.5h0.9M173.1 111.5h0.9M136.0 151.5h0.9M194.0 94.7h0.9M211.9 103.4h0.9M214.4 86.6h0.9M165.1 100.5h0.9M219.7 79.6h0.9M157.0 113.5h0.9M214.1 62.6h0.9M147.5 86.9h0.9M184.1 53.3h0.9M282.1 63.5h0.9M149.6 35.4h0.9M186.0 92.5h0.9M197.1 116.6h0.9M121.0 87.5h0.9M170.0 34.5h0.9M165.9 143.5h0.9M214.9 121.1h0.9M223.0 185.5h0.9M207.2 127.5h0.9M193.3 89.8h0.9M230.6 125.2h0.9M247.3 87.4h0.9M238.2 96.5h0.9M138.0 98.5h0.9M223.3 113.5h0.9M224.9 80.7h0.9M164.2 101.3h0.9M223.1 139.0h0.9M128.3 62.4h0.9M186.4 28.4h0.9M222.1 83.5h0.9M99.3 67.9h0.9M253.1 85.2h0.9M128.4 64.9h0.9M97.1 68.1h0.9M177.8 82.5h0.9M113.1 36.2h0.9M205.1 87.8h0.9M211.0 135.7h0.9M187.0 70.5h0.9M206.0 68.6h0.9M126.1 23.6h0.9M119.9 109.6h0.9M98.9 109.1h0.9M215.0 94.3h0.9M246.8 85.2h0.9M192.1 110.6h0.9M237.9 100.4h0.9M119.8 111.9h0.9M218.1 104.5h0.9M223.0 99.5h0.9M138.3 92.4h0.9M215.1 69.3h0.9M145.0 27.0h0.9M229.3 70.5h0.9M305.6 90.5h0.9M198.1 166.6h0.9M192.0 108.5h0.9M167.2 135.5h0.9M241.7 86.0h0.9M218.3 42.1h0.9M222.2 76.6h0.9M99.8 117.6h0.9M198.1 78.6h0.9M149.1 72.5h0.9M180.2 110.9h0.9M179.7 95.1h0.9M251.4 66.0h0.9M118.0 81.5h0.9M112.3 128.2h0.9M203.1 68.4h0.9M240.0 104.2h0.9M219.7 114.6h0.9M180.3 107.5h0.9M130.0 197.3h0.9M133.4 64.5h0.9M117.1 86.7h0.9M312.9 83.5h0.9M234.6 67.4h0.9M238.0 114.8h0.9M119.5 128.6h0.9M169.1 105.9h0.9M241.5 108.5h0.9M151.9 64.1h0.9M130.0 123.3h0.9M235.9 87.6h0.9M136.1 108.2h0.9M264.7 89.9h0.9M142.1 130.8h0.9M146.1 90.4h0.9M235.1 71.4h0.9M192.4 73.1h0.9M160.8 79.6h0.9M190.5 96.7h0.9M146.3 37.0h0.9M138.1 49.6h0.9M152.0 122.6h0.9M203.1 26.6h0.9M212.0 71.2h0.9M145.4 79.4h0.9M133.1 45.7h0.9M186.1 107.5h0.9M149.0 87.5h0.9M201.1 109.5h0.9M155.9 31.4h0.9M117.1 48.7h0.9M134.8 111.5h0.9M215.8 73.3h0.9M248.1 107.5h0.9M226.9 40.6h0.9M128.3 145.2h0.9M240.0 131.5h0.9M109.1 60.9h0.9M221.0 174.8h0.9M196.5 80.9h0.9M112.0 20.7h0.9M152.4 80.5h0.9M199.0 94.4h0.9M107.0 115.4h0.9M222.3 100.5h0.9M134.1 93.4h0.9M152.1 127.4h0.9M225.1 143.3h0.9M105.6 99.5h0.9M234.8 85.3h0.9M202.8 125.5h0.9M174.1 134.8h0.9M115.9 84.5h0.9M157.0 79.5h0.9M163.0 20.5h0.9M171.7 132.4h0.9M95.0 74.4h0.9M232.7 59.5h0.9M149.5 53.5h0.9M108.1 110.5h0.9M170.1 192.8h0.9M210.2 72.3h0.9M184.9 68.1h0.9M175.0 81.1h0.9M129.8 55.7h0.9M141.0 79.5h0.9M148.1 80.2h0.9M278.6 94.4h0.9M220.5 99.4h0.9M133.1 88.5h0.9M224.0 98.5h0.9M160.6 117.9h0.9M251.8 107.4h0.9M114.3 149.1h0.9M210.1 132.0h0.9M280.2 73.5h0.9M177.9 19.8h0.9M242.7 116.3h0.9M194.0 51.3h0.9M187.6 112.3h0.9M201.0 105.9h0.9M259.0 78.5h0.9M255.0 116.5h0.9M163.1 89.5h0.9M262.3 101.4h0.9M172.4 79.6h0.9M99.9 105.5h0.9M188.1 80.0h0.9" stroke="#000" stroke-width="0.9" fill="none"/>
<path d="M112.09 264.5v-2.6M112.09 12v2.6M124.14 264.5v-2.6M124.14 12v2.6M132.68 264.5v-2.6M132.68 12v2.6M139.31 264.5v-2.6M139.31 12v2.6M144.73 264.5v-2.6M144.73 12v2.6M149.3 264.5v-2.6M149.3 12v2.6M153.27 264.5v-2.6M153.27 12v2.6M156.77 264.5v-2.6M156.77 12v2.6M159.9 264.5v-5.2M159.9 12v5.2M180.49 264.5v-2.6M180.49 12v2.6M192.54 264.5v-2.6M192.54 12v2.6M201.08 264.5v-2.6M201.08 12v2.6M207.71 264.5v-2.6M207.71 12v2.6M213.13 264.5v-2.6M213.13 12v2.6M217.7 264.5v-2.6M217.7 12v2.6M221.67 264.5v-2.6M221.67 12v2.6M225.17 264.5v-2.6M225.17 12v2.6M228.3 264.5v-5.2M228.3 12v5.2M248.89 264.5v-2.6M248.89 12v2.6M260.94 264.5v-2.6M260.94 12v2.6M269.48 264.5v-2.6M269.48 12v2.6M276.11 264.5v-2.6M276.11 12v2.6M281.53 264.5v-2.6M281.53 12v2.6M286.1 264.5v-2.6M286.1 12v2.6M290.07 264.5v-2.6M290.07 12v2.6M293.57 264.5v-2.6M293.57 12v2.6M296.7 264.5v-5.2M296.7 12v5.2M317.29 264.5v-2.6M317.29 12v2.6M329.34 264.5v-2.6M329.34 12v2.6M337.88 264.5v-2.6M337.88 12v2.6M344.51 264.5v-2.6M344.51 12v2.6M349.93 264.5v-2.6M349.93 12v2.6M354.5 264.5v-2.6M354.5 12v2.6M358.47 264.5v-2.6M358.47 12v2.6M361.97 264.5v-2.6M361.97 12v2.6M365.1 264.5v-5.2M365.1 12v5.2M385.69 264.5v-2.6M385.69 12v2.6M397.74 264.5v-2.6M397.74 12v2.6M91.5 260.29h3.2M398.5 260.29h-3.2M91.5 256.08h3.2M398.5 256.08h-3.2M91.5 251.88h3.2M398.5 251.88h-3.2M91.5 247.67h3.2M398.5 247.67h-3.2M91.5 243.46h3.2M398.5 243.46h-3.2M91.5 239.25h3.2M398.5 239.25h-3.2M91.5 235.04h3.2M398.5 235.04h-3.2M91.5 230.83h3.2M398.5 230.83h-3.2M91.5 226.62h3.2M398.5 226.62h-3.2M91.5 222.42h6.2M398.5 222.42h-6.2M91.5 218.21h3.2M398.5 218.21h-3.2M91.5 214h3.2M398.5 214h-3.2M91.5 209.79h3.2M398.5 209.79h-3.2M91.5 205.58h3.2M398.5 205.58h-3.2M91.5 201.38h3.2M398.5 201.38h-3.2M91.5 197.17h3.2M398.5 197.17h-3.2M91.5 192.96h3.2M398.5 192.96h-3.2M91.5 188.75h3.2M398.5 188.75h-3.2M91.5 184.54h3.2M398.5 184.54h-3.2M91.5 180.33h6.2M398.5 180.33h-6.2M91.5 176.12h3.2M398.5 176.12h-3.2M91.5 171.92h3.2M398.5 171.92h-3.2M91.5 167.71h3.2M398.5 167.71h-3.2M91.5 163.5h3.2M398.5 163.5h-3.2M91.5 159.29h3.2M398.5 159.29h-3.2M91.5 155.08h3.2M398.5 155.08h-3.2M91.5 150.88h3.2M398.5 150.88h-3.2M91.5 146.67h3.2M398.5 146.67h-3.2M91.5 142.46h3.2M398.5 142.46h-3.2M91.5 138.25h6.2M398.5 138.25h-6.2M91.5 134.04h3.2M398.5 134.04h-3.2M91.5 129.83h3.2M398.5 129.83h-3.2M91.5 125.62h3.2M398.5 125.62h-3.2M91.5 121.42h3.2M398.5 121.42h-3.2M91.5 117.21h3.2M398.5 117.21h-3.2M91.5 113h3.2M398.5 113h-3.2M91.5 108.79h3.2M398.5 108.79h-3.2M91.5 104.58h3.2M398.5 104.58h-3.2M91.5 100.38h3.2M398.5 100.38h-3.2M91.5 96.17h6.2M398.5 96.17h-6.2M91.5 91.96h3.2M398.5 91.96h-3.2M91.5 87.75h3.2M398.5 87.75h-3.2M91.5 83.54h3.2M398.5 83.54h-3.2M91.5 79.33h3.2M398.5 79.33h-3.2M91.5 75.12h3.2M398.5 75.12h-3.2M91.5 70.92h3.2M398.5 70.92h-3.2M91.5 66.71h3.2M398.5 66.71h-3.2M91.5 62.5h3.2M398.5 62.5h-3.2M91.5 58.29h3.2M398.5 58.29h-3.2M91.5 54.08h6.2M398.5 54.08h-6.2M91.5 49.88h3.2M398.5 49.88h-3.2M91.5 45.67h3.2M398.5 45.67h-3.2M91.5 41.46h3.2M398.5 41.46h-3.2M91.5 37.25h3.2M398.5 37.25h-3.2M91.5 33.04h3.2M398.5 33.04h-3.2M91.5 28.83h3.2M398.5 28.83h-3.2M91.5 24.63h3.2M398.5 24.63h-3.2M91.5 20.42h3.2M398.5 20.42h-3.2M91.5 16.21h3.2M398.5 16.21h-3.2" stroke="#000" stroke-width="0.7" fill="none"/>
<path d="M91.5 222.42H398.5" stroke="#000" stroke-width="1" fill="none"/>
<path d="M108.9 83.1L141.3 87.5L174.5 88.5L207.9 86.6L241.3 90.2L272.6 83.7L309.3 71.5L340 64.7" stroke="#ff0000" stroke-width="2.3" fill="none" stroke-linejoin="round"/>
<path d="M108.9 47.8V118.4M141.3 51.6V123M174.5 54.7V122.6M207.9 54.7V118.4M241.3 59.9V120.3M272.6 56.1V111.5M309.3 49.9V93.7M340 47V82.5" stroke="#ff0000" stroke-width="2.15" fill="none"/>
<path d="M108.9 187.1L141.3 192.9L174.5 195.9L207.9 196.9L241.3 198.8L272.6 201.2L309.3 203.5L340 210.8" stroke="#ff0000" stroke-width="2.5" fill="none" stroke-linecap="round" stroke-linejoin="round" stroke-dasharray="0.01 6.59" stroke-dashoffset="1.1"/>
<path d="M108.9 162.5V211.4M141.3 169.9V215.6M174.5 175.5V215.6M207.9 178.6V215.3M241.3 181.9V215.6M272.6 186.7V215.6M309.3 190.5V216M340 194.4V227.2" stroke="#ff0000" stroke-width="2.15" fill="none"/>
<path d="M115 123.6L147.1 124.2L180.5 123.6L214 121.3L247.4 122.8L278.4 116.5L315.5 105.3L345.9 94.7" stroke="#0000ff" stroke-width="2.3" fill="none" stroke-linejoin="round"/>
<path d="M115 105.3V141.6M147.1 103.4V145.8M180.5 103V143.9M214 101.8V141M247.4 103.5V142.5M278.4 96.2V136.2M315.5 88.9V121.7M345.9 80.6V108.8" stroke="#0000ff" stroke-width="2.15" fill="none"/>
<path d="M115 231.1L147.1 231.1L180.5 230.1L214 229.2L247.4 229.2L278.4 227.6L315.5 227.2L345.9 224.9" stroke="#0000ff" stroke-width="2.5" fill="none" stroke-linecap="round" stroke-linejoin="round" stroke-dasharray="0.01 6.59" stroke-dashoffset="1.1"/>
<path d="M115 225.7V236.8M147.1 225.3V237.3M180.5 225.3V235.9M214 224.3V234.9M247.4 224.8V234.4M278.4 223V232M315.5 224.9V229.7M345.9 223V226.8" stroke="#0000ff" stroke-width="2.15" fill="none"/>
<path d="M112.4 145.8L144.5 146.8L177.6 146.8L210.9 146.8L244.3 147L275.5 145.8L312.4 147.2L343 148.1" stroke="#000000" stroke-width="2.3" fill="none" stroke-linejoin="round"/>
<path d="M112.4 139.7V151.6M144.5 140.4V153.6M177.6 141V152.6M210.9 141V153.6M244.3 140.2V154.5M275.5 138.1V154.5M312.4 141.6V152.6M343 141.6V154.5" stroke="#000000" stroke-width="2.15" fill="none"/>
<path d="M112.4 215.1L144.5 214.3L177.6 213.7L210.9 213.7L244.3 213.7L275.5 212.7L312.4 213.7L343 216.2" stroke="#000000" stroke-width="2.5" fill="none" stroke-linecap="round" stroke-linejoin="round" stroke-dasharray="0.01 6.59" stroke-dashoffset="1.1"/>
<path d="M112.4 210.2V220.5M144.5 207.9V219.9M177.6 207.9V219.5M210.9 208.9V219.5M244.3 207.9V220.2M275.5 207V219.1M312.4 209.8V218.5M343 208.9V223.4" stroke="#000000" stroke-width="2.15" fill="none"/>
<rect x="91.5" y="12" width="307" height="252.5" fill="none" stroke="#000" stroke-width="0.85"/>
<text x="85.5" y="264.2" text-anchor="end">-10</text>
<text x="85.5" y="229.02" text-anchor="end">0</text>
<text x="85.5" y="186.93" text-anchor="end">10</text>
<text x="85.5" y="144.85" text-anchor="end">20</text>
<text x="85.5" y="102.77" text-anchor="end">30</text>
<text x="85.5" y="60.68" text-anchor="end">40</text>
<text x="85.5" y="23.4" text-anchor="end">50</text>
<text x="91.5" y="289" text-anchor="middle">0.0001</text>
<text x="159.9" y="289" text-anchor="middle">0.0010</text>
<text x="228.3" y="289" text-anchor="middle">0.0100</text>
<text x="296.7" y="289" text-anchor="middle">0.1000</text>
<text x="365.1" y="289" text-anchor="middle">1.0000</text>
<text x="244.5" y="311" text-anchor="middle">X-ray flux (J m<tspan font-size="12.338px" dy="-9.5">-2</tspan><tspan dy="9.5">)</tspan></text>
<text transform="translate(42.5 138.25) rotate(-90)" text-anchor="middle" xml:space="preserve" style="font-size:20.2px"><tspan dy="0">DIV indices (10</tspan><tspan font-size="12.524px" dy="-9.6">-6</tspan><tspan dy="9.6">&#160;s</tspan><tspan font-size="12.524px" dy="-9.6">-1</tspan><tspan dy="9.6">)</tspan></text>
</g>
<g>
<path d="M568.8 149.8h0.9M584.8 142.5h0.9M585.0 130.6h0.9M662.2 114.4h0.9M655.0 157.4h0.9M518.0 147.4h0.9M578.8 125.6h0.9M651.0 158.5h0.9M623.4 161.9h0.9M636.7 144.5h0.9M623.1 144.3h0.9M565.5 155.5h0.9M545.4 168.3h0.9M573.6 121.2h0.9M627.0 108.9h0.9M604.0 127.7h0.9M584.3 152.0h0.9M627.7 86.5h0.9M583.2 152.5h0.9M541.1 162.6h0.9M610.9 142.7h0.9M588.7 139.6h0.9M539.0 26.7h0.9M697.5 109.8h0.9M566.9 153.5h0.9M641.9 138.2h0.9M600.0 158.6h0.9M642.0 150.9h0.9M579.7 163.0h0.9M644.1 113.5h0.9M622.1 131.7h0.9M534.0 82.5h0.9M616.2 148.1h0.9M544.0 142.8h0.9M511.1 144.6h0.9M605.5 153.5h0.9M612.8 151.6h0.9M587.3 163.5h0.9M607.4 142.7h0.9M566.4 158.9h0.9M515.2 160.3h0.9M514.0 137.5h0.9M606.1 137.5h0.9M603.3 163.5h0.9M658.0 157.5h0.9M625.3 143.6h0.9M596.0 130.1h0.9M556.0 142.5h0.9M588.2 139.5h0.9M554.3 135.5h0.9M629.0 123.4h0.9M662.8 136.5h0.9M591.0 142.7h0.9M572.9 158.9h0.9M663.1 113.6h0.9M591.8 146.7h0.9M630.1 123.6h0.9M612.3 120.5h0.9M545.1 119.4h0.9M669.6 103.6h0.9M538.0 147.6h0.9M619.5 124.2h0.9M572.1 157.6h0.9M552.2 144.1h0.9M616.1 141.0h0.9M658.8 165.9h0.9M624.0 126.4h0.9M656.0 120.6h0.9M558.2 144.2h0.9M623.3 157.4h0.9M569.2 96.6h0.9M588.2 130.8h0.9M564.6 131.5h0.9M674.1 122.2h0.9M706.0 111.1h0.9M540.2 157.6h0.9M569.2 153.5h0.9M617.9 103.3h0.9M603.4 150.6h0.9M558.9 177.7h0.9M591.0 154.5h0.9M635.0 167.6h0.9M583.6 96.6h0.9M578.8 146.5h0.9M587.4 159.3h0.9M544.9 156.1h0.9M564.4 140.8h0.9M638.9 73.3h0.9M668.9 152.5h0.9M564.0 103.0h0.9M631.0 117.4h0.9M613.9 96.0h0.9M614.1 145.5h0.9M529.0 162.9h0.9M642.0 157.9h0.9M540.0 121.7h0.9M582.3 162.3h0.9M682.1 114.4h0.9M585.8 124.6h0.9M513.1 142.4h0.9M548.1 144.5h0.9M584.2 141.4h0.9M664.6 129.7h0.9M684.1 130.3h0.9M648.9 143.7h0.9M570.4 137.1h0.9M620.0 154.4h0.9M612.1 160.5h0.9M599.9 43.3h0.9M579.5 121.1h0.9M628.0 141.5h0.9M613.5 159.5h0.9M623.2 134.8h0.9M587.2 139.5h0.9M650.9 153.0h0.9M543.4 148.8h0.9M602.7 150.6h0.9M529.0 145.5h0.9M658.3 131.5h0.9M641.0 106.8h0.9M549.2 126.9h0.9M541.0 132.7h0.9M584.6 156.7h0.9M594.3 140.5h0.9M641.5 119.6h0.9M681.1 148.5h0.9M568.1 136.7h0.9M603.6 137.9h0.9M584.0 129.5h0.9M571.9 126.4h0.9M585.2 155.3h0.9M612.1 125.7h0.9M608.6 94.1h0.9M619.1 158.3h0.9M630.1 107.1h0.9M535.7 151.5h0.9M592.3 153.0h0.9M573.0 153.2h0.9M615.0 137.7h0.9M602.1 111.9h0.9M605.0 124.5h0.9M589.0 91.5h0.9M580.9 111.6h0.9M555.2 138.8h0.9M566.0 146.6h0.9M553.0 151.4h0.9M626.0 135.4h0.9M567.9 142.5h0.9M627.1 136.6h0.9M590.1 128.7h0.9M577.9 123.8h0.9M632.6 158.4h0.9M617.3 144.3h0.9M646.1 121.0h0.9M551.0 145.8h0.9M566.9 148.1h0.9M574.0 164.6h0.9M613.1 172.4h0.9M590.0 165.6h0.9M579.0 142.5h0.9M606.3 139.4h0.9M512.2 139.0h0.9M620.1 126.5h0.9M598.1 161.6h0.9M565.0 151.6h0.9M551.1 124.0h0.9M509.0 103.8h0.9M592.1 135.6h0.9M603.3 134.0h0.9M621.1 140.5h0.9M560.6 157.4h0.9M683.0 114.5h0.9M628.0 140.3h0.9M525.6 145.5h0.9M599.3 116.2h0.9M635.0 130.8h0.9M637.0 149.4h0.9M575.2 144.5h0.9M612.0 127.3h0.9M635.0 118.5h0.9M618.6 53.2h0.9M546.0 106.5h0.9M584.1 95.0h0.9M621.5 129.6h0.9M610.0 135.5h0.9M622.1 163.7h0.9M535.1 137.5h0.9M578.2 143.1h0.9M549.0 139.4h0.9M598.2 157.5h0.9M548.1 154.7h0.9M572.4 129.6h0.9M631.8 113.0h0.9M678.4 118.3h0.9M596.1 151.3h0.9M548.1 150.5h0.9M531.0 60.3h0.9M684.6 134.5h0.9M598.0 126.2h0.9M601.0 139.7h0.9M597.1 117.1h0.9M537.0 152.6h0.9M675.1 164.3h0.9M712.0 60.6h0.9M663.7 84.5h0.9M569.6 137.5h0.9M545.1 135.5h0.9M666.7 139.7h0.9M613.1 158.7h0.9M666.5 106.6h0.9M636.3 130.5h0.9M615.2 143.0h0.9M541.7 177.5h0.9M535.3 127.7h0.9M603.2 136.6h0.9M563.0 176.5h0.9M537.6 163.4h0.9M557.0 134.5h0.9M546.1 126.8h0.9M626.3 168.6h0.9M592.0 132.0h0.9M543.0 156.3h0.9M612.2 57.2h0.9M613.2 130.4h0.9M627.1 123.7h0.9M640.9 132.6h0.9M545.0 142.6h0.9M524.7 153.6h0.9M632.1 112.7h0.9M564.0 179.5h0.9M541.0 139.4h0.9M605.3 107.9h0.9M589.8 53.4h0.9M537.0 132.4h0.9M549.0 135.9h0.9M608.4 158.5h0.9M650.2 131.5h0.9M584.1 154.4h0.9M664.7 156.1h0.9M598.3 146.6h0.9M581.2 168.4h0.9M719.0 49.1h0.9M655.8 83.0h0.9M665.1 142.0h0.9M556.1 150.5h0.9M665.9 163.5h0.9M552.2 150.7h0.9M645.3 107.6h0.9M542.1 124.4h0.9M611.0 146.5h0.9M569.9 161.2h0.9M627.0 83.1h0.9M547.6 149.0h0.9M609.9 128.6h0.9M653.6 118.5h0.9M512.9 100.6h0.9M658.6 119.5h0.9M645.9 58.5h0.9M532.1 148.5h0.9M534.0 132.4h0.9M606.1 130.3h0.9M627.0 152.3h0.9M644.1 117.5h0.9M680.0 115.2h0.9M584.3 141.9h0.9M600.1 157.5h0.9M604.2 135.5h0.9M636.0 156.3h0.9M555.0 139.1h0.9M660.2 64.5h0.9M578.2 147.5h0.9M569.2 162.5h0.9M621.0 139.5h0.9M641.9 163.4h0.9M607.0 141.6h0.9M571.9 108.4h0.9M547.3 171.6h0.9M521.2 136.6h0.9M529.3 128.3h0.9M611.2 151.7h0.9M576.1 141.7h0.9M607.1 152.6h0.9M525.0 151.5h0.9M625.0 118.5h0.9M584.4 166.5h0.9M690.9 141.3h0.9M607.0 160.5h0.9M592.3 122.0h0.9M545.0 169.4h0.9M578.2 172.6h0.9M638.1 106.5h0.9M545.9 165.4h0.9M603.1 144.2h0.9M547.8 161.8h0.9M523.4 124.5h0.9M607.1 171.5h0.9M622.0 121.9h0.9M559.4 125.1h0.9M656.7 151.5h0.9M504.0 161.6h0.9M586.9 164.5h0.9M564.8 149.6h0.9M542.7 142.4h0.9M633.6 132.5h0.9M622.1 159.0h0.9M568.8 132.5h0.9M601.0 154.1h0.9M632.1 143.1h0.9M589.5 136.4h0.9M612.1 118.5h0.9M538.0 166.4h0.9M539.9 151.6h0.9M622.0 150.5h0.9M656.1 131.5h0.9M612.3 139.5h0.9M530.0 137.2h0.9M552.1 133.4h0.9M756.1 115.5h0.9M655.0 114.1h0.9M581.6 153.3h0.9M674.1 93.2h0.9M625.2 121.4h0.9M560.2 143.5h0.9M559.3 133.5h0.9M663.2 118.7h0.9M526.2 137.2h0.9M544.1 139.5h0.9M641.9 121.8h0.9M541.0 164.5h0.9M555.2 125.6h0.9M633.6 115.2h0.9M518.6 139.0h0.9M601.5 132.7h0.9M650.9 157.1h0.9M655.0 131.3h0.9M540.2 167.5h0.9M576.9 98.1h0.9M570.5 144.8h0.9M522.3 149.2h0.9M553.2 116.2h0.9M646.0 169.5h0.9M569.0 143.7h0.9M671.8 119.5h0.9M523.9 135.1h0.9M675.7 151.5h0.9M631.0 126.7h0.9M651.1 126.3h0.9M607.4 163.9h0.9M611.0 158.4h0.9M625.2 147.4h0.9M660.2 88.0h0.9M685.7 142.2h0.9M577.1 160.6h0.9M522.1 112.5h0.9M580.6 104.6h0.9M566.6 148.5h0.9M595.8 134.5h0.9M586.0 151.6h0.9M574.9 138.5h0.9M613.3 137.2h0.9M610.1 137.4h0.9M654.0 92.5h0.9M541.0 149.5h0.9M551.7 168.5h0.9M514.7 152.3h0.9M595.1 142.6h0.9M621.1 147.5h0.9M552.0 146.0h0.9M627.1 160.4h0.9M588.1 151.5h0.9M567.9 152.2h0.9M521.1 156.2h0.9M502.9 167.5h0.9M574.2 140.5h0.9M670.5 87.7h0.9M639.5 135.5h0.9M535.9 122.5h0.9M545.4 141.5h0.9M546.7 142.2h0.9M517.2 150.3h0.9M510.0 149.9h0.9M509.0 134.6h0.9M553.1 157.5h0.9M621.3 119.8h0.9M631.0 139.4h0.9M602.1 150.5h0.9M639.1 135.2h0.9M556.0 156.4h0.9M628.1 173.2h0.9M615.0 161.6h0.9M648.1 154.6h0.9M560.1 161.2h0.9M528.0 125.6h0.9M585.9 119.6h0.9M589.4 156.7h0.9M562.1 135.5h0.9M550.0 134.2h0.9M566.4 128.6h0.9M675.7 61.4h0.9M549.6 153.2h0.9M541.0 135.5h0.9M623.0 152.1h0.9M629.6 146.2h0.9M524.8 130.7h0.9M623.1 122.6h0.9M554.2 151.9h0.9M636.1 25.7h0.9M576.9 133.4h0.9M613.0 166.5h0.9M553.4 149.5h0.9M509.1 41.6h0.9M606.2 134.2h0.9M556.9 151.9h0.9M603.1 135.5h0.9M539.3 156.9h0.9M553.0 157.8h0.9M532.0 162.3h0.9M635.0 138.2h0.9M635.0 125.8h0.9M511.4 129.5h0.9M616.7 132.7h0.9M519.0 130.4h0.9M583.1 128.4h0.9M585.5 144.2h0.9M588.1 139.9h0.9M621.6 154.9h0.9M577.8 163.5h0.9M658.2 115.4h0.9M556.0 149.1h0.9M582.9 160.4h0.9M596.2 112.1h0.9M586.0 145.7h0.9M613.3 162.1h0.9M632.2 160.8h0.9M531.1 129.6h0.9M598.0 143.9h0.9M559.7 158.3h0.9M635.3 135.6h0.9M644.3 140.5h0.9M611.1 149.5h0.9M518.0 169.5h0.9M541.7 124.8h0.9M550.4 154.6h0.9M661.1 110.8h0.9M635.7 158.8h0.9M595.9 140.5h0.9M521.4 165.7h0.9M512.0 134.7h0.9M544.8 122.5h0.9M532.8 133.5h0.9M546.0 142.6h0.9M639.4 137.2h0.9M585.0 126.2h0.9M577.0 116.5h0.9M560.2 136.5h0.9M614.7 117.5h0.9M669.4 113.6h0.9M536.7 128.4h0.9M633.5 143.5h0.9M613.1 150.7h0.9M551.5 126.4h0.9M649.0 125.2h0.9M556.5 109.8h0.9M597.8 138.4h0.9M630.1 135.5h0.9M725.0 143.5h0.9M610.7 139.0h0.9M560.1 138.4h0.9M534.6 161.5h0.9M648.1 136.5h0.9M642.5 110.3h0.9M597.1 140.5h0.9M556.2 151.9h0.9M573.4 151.9h0.9M635.3 122.5h0.9M615.1 173.5h0.9M667.2 123.0h0.9M623.0 140.5h0.9M595.3 118.5h0.9M562.0 163.3h0.9M523.1 129.9h0.9M577.8 143.7h0.9M599.8 152.5h0.9M599.1 147.5h0.9M567.1 155.3h0.9M605.1 145.6h0.9M626.9 123.2h0.9M605.0 122.6h0.9M694.4 118.4h0.9M597.7 160.1h0.9M502.6 126.8h0.9M604.0 118.8h0.9M567.0 148.3h0.9M539.1 159.0h0.9M549.7 151.2h0.9M607.0 144.6h0.9M579.4 163.2h0.9M580.1 138.5h0.9M626.1 148.5h0.9M622.8 117.4h0.9M541.5 135.0h0.9M610.8 148.3h0.9M599.8 168.8h0.9M542.0 132.3h0.9M533.2 115.5h0.9M647.2 154.5h0.9M610.2 117.6h0.9M613.6 117.7h0.9M614.1 110.5h0.9M630.7 154.2h0.9M608.1 152.6h0.9M588.4 108.5h0.9M686.8 99.6h0.9M619.0 154.5h0.9M692.1 88.5h0.9M611.9 133.8h0.9M552.0 139.3h0.9M620.8 116.5h0.9M582.1 143.4h0.9M624.0 137.8h0.9M649.7 130.8h0.9M656.8 103.6h0.9M592.0 154.5h0.9M634.1 152.5h0.9M673.4 160.4h0.9M601.7 120.5h0.9M573.6 147.4h0.9M608.1 127.3h0.9M578.0 161.1h0.9M654.5 143.2h0.9M561.6 144.4h0.9M563.0 174.5h0.9M544.1 164.6h0.9M569.1 142.1h0.9M547.0 159.5h0.9M595.7 129.5h0.9M565.4 140.1h0.9M580.9 129.3h0.9M576.8 131.5h0.9M620.0 158.1h0.9M544.9 135.7h0.9M622.2 132.5h0.9M570.2 156.5h0.9M559.1 115.2h0.9M668.1 106.5h0.9M523.0 146.8h0.9M619.7 163.6h0.9M686.1 117.7h0.9M562.8 156.8h0.9M566.7 154.1h0.9M648.8 125.8h0.9M611.0 133.6h0.9M662.0 141.7h0.9M554.1 123.8h0.9M643.9 145.6h0.9M617.1 142.6h0.9M626.1 146.8h0.9M670.3 142.8h0.9M519.0 117.5h0.9M533.1 121.0h0.9M571.1 133.6h0.9M556.8 156.5h0.9M608.3 101.8h0.9M585.2 141.6h0.9M553.1 152.2h0.9M592.9 158.2h0.9M542.1 155.4h0.9M628.4 124.2h0.9M517.7 150.6h0.9M657.5 155.5h0.9M528.9 142.4h0.9M676.1 150.8h0.9M697.3 151.5h0.9M559.2 117.5h0.9M514.5 131.3h0.9M636.1 144.4h0.9M651.0 152.5h0.9M598.9 136.7h0.9M736.9 101.5h0.9M573.8 95.0h0.9M587.3 150.5h0.9M559.6 135.5h0.9M535.1 142.5h0.9M684.6 151.9h0.9M579.9 129.5h0.9M611.2 117.8h0.9M555.3 152.5h0.9M634.0 169.3h0.9M712.7 106.5h0.9M536.0 168.8h0.9M553.3 111.6h0.9M602.0 141.5h0.9M543.5 146.5h0.9M563.9 147.1h0.9M629.1 153.5h0.9M620.7 125.6h0.9M548.1 99.7h0.9M631.0 126.4h0.9M536.1 153.1h0.9M523.2 148.5h0.9M620.0 150.5h0.9M565.7 154.5h0.9M558.1 150.5h0.9M595.0 156.9h0.9M573.0 114.5h0.9M587.1 137.5h0.9M574.7 160.6h0.9M689.0 125.8h0.9M667.9 162.8h0.9M659.1 96.9h0.9M554.9 147.5h0.9M603.9 128.9h0.9M763.8 106.8h0.9M560.0 146.5h0.9M609.1 117.5h0.9M639.1 126.5h0.9M612.0 141.4h0.9M650.3 148.5h0.9M653.2 139.4h0.9M633.2 142.5h0.9M616.4 144.3h0.9M614.0 110.3h0.9M547.8 133.9h0.9M518.5 163.6h0.9M554.5 149.5h0.9M668.1 139.3h0.9M512.0 140.5h0.9M583.8 146.2h0.9M647.3 116.9h0.9M544.0 142.4h0.9M593.1 135.9h0.9M644.6 70.5h0.9M642.2 119.5h0.9M612.0 121.5h0.9M590.9 128.7h0.9M610.0 132.2h0.9M559.3 146.5h0.9M569.1 104.4h0.9M618.3 143.0h0.9M576.7 135.5h0.9M551.3 151.2h0.9M636.0 120.4h0.9M525.8 146.8h0.9M568.9 152.7h0.9M639.4 145.9h0.9M579.4 143.7h0.9M608.0 148.5h0.9M550.3 133.1h0.9M536.2 148.3h0.9M578.5 140.6h0.9M587.4 133.4h0.9M611.4 140.4h0.9M558.3 123.2h0.9M568.2 129.2h0.9M606.0 109.4h0.9M612.3 130.4h0.9M572.6 152.7h0.9M619.4 140.1h0.9M523.7 171.0h0.9M614.2 112.6h0.9M577.8 125.5h0.9M661.5 160.5h0.9M664.0 134.6h0.9M616.0 161.7h0.9M608.2 143.5h0.9M633.0 117.5h0.9M625.7 174.8h0.9M602.9 173.2h0.9M566.9 128.4h0.9M536.0 165.4h0.9M645.9 143.8h0.9M601.1 115.6h0.9M638.2 155.5h0.9M586.8 124.5h0.9M620.1 153.2h0.9M656.7 146.5h0.9M511.1 177.3h0.9M630.8 149.8h0.9M768.1 51.5h0.9M603.3 148.5h0.9M605.3 124.8h0.9M591.2 169.7h0.9M644.9 135.6h0.9M648.3 165.4h0.9M684.0 112.4h0.9M675.1 139.0h0.9M650.2 53.5h0.9M594.0 148.4h0.9M658.7 156.3h0.9M555.5 143.5h0.9M555.3 125.5h0.9M600.1 107.7h0.9M608.7 134.6h0.9M514.7 129.1h0.9M650.4 167.5h0.9M598.0 108.6h0.9M591.9 139.4h0.9M578.0 143.5h0.9M642.1 134.0h0.9M588.1 141.4h0.9M574.5 136.1h0.9M614.1 123.2h0.9M599.4 150.7h0.9M559.0 143.6h0.9M566.0 141.1h0.9M649.8 177.0h0.9M605.2 57.8h0.9M623.1 141.4h0.9M529.2 147.8h0.9M583.8 176.5h0.9M612.1 148.3h0.9M561.0 139.3h0.9M609.0 122.5h0.9M679.1 141.7h0.9M651.6 146.2h0.9M689.6 124.8h0.9M626.6 112.2h0.9M565.3 145.7h0.9M597.0 45.4h0.9M613.2 129.0h0.9M538.0 161.1h0.9M614.9 111.3h0.9M624.1 138.6h0.9M599.4 104.5h0.9M553.1 154.6h0.9M619.6 129.5h0.9M526.6 135.5h0.9M625.0 140.5h0.9M577.8 162.5h0.9M589.8 160.1h0.9M649.0 148.7h0.9M624.2 128.2h0.9M590.1 125.6h0.9M644.2 116.0h0.9M605.2 148.9h0.9M622.1 179.5h0.9M614.3 149.9h0.9M630.5 118.5h0.9M645.9 130.5h0.9M604.9 131.9h0.9M620.7 144.5h0.9M528.5 132.5h0.9M514.1 147.1h0.9M613.1 117.8h0.9M596.0 129.4h0.9M521.2 159.5h0.9M657.2 148.5h0.9M595.8 127.3h0.9M594.3 136.0h0.9M582.1 145.8h0.9M543.1 159.5h0.9M647.2 138.9h0.9M561.0 128.7h0.9M631.0 123.3h0.9M652.9 91.5h0.9M567.1 117.8h0.9M639.1 134.5h0.9M615.0 154.8h0.9M655.0 107.9h0.9M587.1 161.5h0.9M515.1 108.2h0.9M624.1 108.5h0.9M590.0 155.1h0.9M649.5 95.9h0.9M664.5 157.6h0.9M584.8 153.2h0.9M609.7 160.4h0.9M656.9 137.9h0.9M509.5 124.4h0.9M508.5 151.5h0.9M663.7 132.2h0.9M633.1 108.5h0.9M630.0 152.5h0.9M533.1 124.6h0.9M563.9 158.5h0.9M654.1 159.9h0.9M526.7 121.5h0.9M615.1 152.0h0.9M602.5 117.6h0.9M622.4 101.7h0.9M671.0 179.2h0.9M572.0 144.7h0.9M618.1 117.4h0.9M520.0 173.2h0.9M615.4 139.5h0.9M545.0 141.2h0.9M596.1 121.6h0.9M609.5 111.5h0.9M638.1 128.5h0.9M622.2 169.9h0.9M562.1 82.5h0.9M547.5 157.5h0.9M616.8 152.6h0.9M572.0 154.3h0.9M516.1 144.3h0.9M667.0 124.9h0.9M576.3 165.7h0.9M564.4 102.5h0.9M558.7 98.6h0.9M618.1 150.2h0.9M619.7 148.7h0.9M596.4 26.5h0.9M589.6 161.5h0.9M575.3 142.6h0.9M642.0 129.5h0.9M555.2 125.5h0.9M657.7 120.1h0.9M640.1 107.5h0.9M631.8 125.5h0.9M547.2 137.7h0.9M597.0 153.4h0.9M663.9 121.6h0.9M587.9 123.5h0.9M602.1 144.6h0.9M679.4 82.5h0.9M578.7 129.9h0.9M634.7 82.5h0.9M612.7 68.2h0.9M715.8 145.5h0.9M608.2 140.5h0.9M552.1 159.5h0.9M672.8 141.2h0.9M555.0 104.1h0.9M612.0 117.1h0.9M638.6 137.8h0.9M627.9 142.5h0.9M609.2 134.7h0.9M627.6 150.5h0.9M580.3 129.5h0.9M675.0 150.3h0.9M614.1 158.4h0.9M577.0 141.4h0.9M605.9 137.5h0.9M671.5 123.2h0.9M630.1 132.5h0.9M623.7 150.7h0.9M561.3 170.9h0.9M566.0 160.4h0.9M620.4 151.4h0.9M630.8 156.0h0.9M643.1 149.7h0.9M559.3 144.0h0.9M654.0 112.5h0.9M534.4 153.7h0.9M683.1 115.2h0.9M559.6 128.5h0.9M568.4 135.3h0.9M657.1 145.3h0.9M513.5 107.5h0.9M624.9 142.5h0.9M675.1 143.6h0.9M658.9 140.9h0.9M533.1 84.5h0.9M630.8 150.2h0.9M607.0 120.4h0.9M605.3 138.8h0.9M572.8 134.5h0.9M578.7 153.0h0.9M560.4 146.5h0.9M546.2 156.9h0.9M638.3 124.7h0.9M656.3 129.5h0.9M553.0 121.5h0.9M526.1 138.4h0.9M681.0 132.5h0.9M686.2 151.0h0.9M572.1 123.2h0.9M589.8 157.8h0.9M554.1 145.6h0.9M647.0 144.5h0.9M559.3 121.4h0.9M549.1 137.6h0.9M545.1 161.1h0.9M658.8 123.5h0.9M587.1 143.9h0.9M645.5 146.3h0.9M612.7 133.4h0.9M585.8 156.7h0.9M537.0 151.7h0.9M636.7 129.4h0.9M555.0 156.5h0.9M613.1 140.7h0.9M519.0 165.4h0.9M552.1 157.5h0.9M616.1 115.0h0.9M770.0 55.2h0.9M715.0 113.4h0.9M624.1 160.6h0.9M679.5 132.5h0.9M522.8 160.9h0.9M632.6 148.4h0.9M651.7 112.2h0.9M643.1 149.5h0.9M514.8 149.5h0.9M601.4 115.2h0.9M641.9 138.6h0.9M603.4 148.8h0.9M608.1 143.3h0.9M649.6 150.5h0.9M603.1 138.0h0.9M656.0 153.5h0.9M508.9 128.7h0.9M624.6 134.9h0.9M525.1 143.3h0.9M559.8 146.6h0.9M614.8 133.5h0.9M535.8 119.8h0.9M611.1 119.6h0.9M533.7 143.4h0.9M507.4 141.5h0.9M611.7 161.7h0.9M636.3 50.9h0.9M622.3 39.5h0.9M648.1 142.5h0.9M651.2 131.6h0.9M541.5 106.4h0.9M668.8 159.5h0.9M584.6 157.6h0.9M629.3 146.9h0.9M523.2 154.6h0.9M595.0 137.8h0.9M560.8 140.7h0.9M675.2 142.7h0.9M603.7 104.4h0.9M530.1 137.7h0.9M530.1 155.5h0.9M542.9 162.5h0.9M533.5 145.9h0.9M654.1 142.5h0.9M524.3 173.2h0.9M608.0 154.7h0.9M592.0 153.5h0.9M634.9 156.3h0.9M532.0 135.1h0.9M641.0 147.5h0.9M611.1 151.5h0.9M638.3 151.3h0.9M545.7 140.4h0.9M521.9 132.3h0.9M643.2 107.0h0.9M582.0 116.9h0.9M587.6 153.1h0.9M579.0 134.6h0.9M546.5 131.0h0.9M536.6 160.5h0.9M589.0 159.5h0.9M590.0 122.5h0.9M594.8 151.4h0.9M660.0 135.6h0.9M594.2 154.5h0.9M703.1 115.1h0.9M582.7 140.9h0.9M637.6 150.6h0.9M551.1 148.5h0.9M554.9 93.0h0.9M608.3 139.1h0.9M586.1 155.9h0.9M629.8 91.8h0.9M606.3 144.5h0.9M544.0 148.2h0.9M647.0 146.1h0.9M642.7 165.7h0.9M616.9 169.2h0.9M567.2 132.7h0.9M543.9 123.5h0.9M608.1 147.4h0.9M583.1 125.1h0.9M642.9 132.5h0.9M608.5 144.5h0.9M529.0 150.2h0.9M576.7 113.5h0.9M588.3 125.6h0.9M522.3 107.2h0.9M557.1 157.7h0.9M587.7 144.0h0.9M585.1 136.5h0.9M577.2 113.4h0.9M613.1 129.5h0.9M562.8 158.1h0.9M569.4 156.8h0.9M665.0 62.5h0.9M543.7 137.5h0.9M537.5 153.5h0.9M637.2 128.2h0.9M577.3 147.3h0.9M613.6 144.8h0.9M531.2 120.3h0.9M559.8 141.5h0.9M537.3 130.1h0.9M674.4 155.2h0.9M665.0 155.1h0.9M578.3 157.9h0.9M628.9 134.4h0.9M589.9 161.3h0.9M640.1 133.6h0.9M584.0 146.5h0.9M559.0 151.6h0.9M604.9 153.2h0.9M544.7 166.6h0.9M588.1 186.5h0.9M608.1 134.3h0.9M591.1 137.3h0.9M605.1 148.1h0.9M557.9 126.9h0.9M585.1 152.3h0.9M661.2 135.9h0.9M609.1 136.3h0.9M595.6 130.1h0.9M636.7 154.4h0.9M631.1 125.4h0.9M536.1 142.5h0.9M635.1 106.8h0.9M599.3 129.6h0.9M649.8 143.5h0.9M602.1 120.5h0.9M639.4 140.5h0.9M572.9 118.4h0.9M608.8 155.2h0.9M610.9 165.5h0.9M634.4 129.4h0.9M592.1 128.5h0.9M596.2 150.0h0.9M557.1 151.1h0.9M536.8 147.5h0.9M640.0 139.1h0.9M545.9 138.2h0.9M592.9 146.3h0.9M557.2 150.5h0.9M645.8 110.5h0.9M591.7 141.5h0.9M630.1 116.4h0.9M559.8 107.4h0.9M616.2 142.5h0.9M588.1 112.0h0.9M553.0 157.3h0.9M643.0 143.8h0.9M583.5 143.7h0.9M596.0 146.6h0.9M616.1 146.5h0.9M653.4 119.5h0.9M571.1 126.0h0.9M658.0 147.5h0.9M618.1 136.6h0.9M627.0 128.5h0.9M612.6 115.6h0.9M545.0 107.8h0.9M532.1 133.9h0.9M558.7 131.3h0.9M582.3 100.7h0.9M652.0 135.9h0.9M538.3 167.4h0.9M684.1 14.5h0.9M595.4 143.5h0.9M590.9 138.4h0.9M615.3 157.9h0.9M562.0 139.6h0.9M631.9 130.9h0.9M638.5 137.1h0.9M590.4 137.7h0.9M557.6 120.5h0.9M577.9 162.5h0.9M540.1 135.5h0.9M722.9 79.5h0.9M652.0 130.5h0.9M545.1 157.5h0.9M635.8 118.4h0.9M633.9 166.3h0.9M620.6 137.3h0.9M631.0 137.5h0.9M604.6 167.5h0.9M663.0 180.5h0.9M527.3 144.2h0.9M564.3 113.5h0.9M584.0 165.4h0.9M578.0 138.5h0.9M511.8 150.5h0.9M644.2 160.7h0.9M603.1 148.6h0.9M591.0 155.5h0.9M659.0 164.5h0.9M666.3 136.5h0.9M564.1 144.3h0.9M558.1 131.2h0.9M605.1 144.8h0.9M625.0 66.6h0.9M604.0 167.4h0.9M552.9 141.5h0.9M598.9 138.4h0.9M526.5 133.0h0.9M563.9 133.9h0.9M651.1 85.5h0.9M594.1 169.0h0.9M559.0 137.7h0.9M688.0 126.8h0.9M541.7 127.3h0.9M608.1 154.6h0.9M609.8 158.5h0.9M616.6 132.6h0.9M643.3 137.9h0.9M592.0 128.1h0.9M639.0 97.3h0.9M585.8 144.8h0.9M587.4 143.5h0.9M552.0 158.5h0.9M557.4 136.5h0.9M582.1 145.5h0.9M649.0 150.5h0.9M620.3 159.3h0.9M573.3 132.5h0.9M505.7 158.5h0.9M542.8 126.8h0.9M611.1 112.6h0.9M558.3 142.6h0.9M588.2 131.2h0.9M581.7 123.6h0.9M537.0 140.2h0.9M671.7 153.5h0.9M595.2 133.8h0.9M616.1 146.9h0.9M599.8 146.5h0.9M563.2 131.5h0.9M619.3 162.7h0.9M662.2 83.3h0.9M591.0 162.0h0.9M626.6 130.5h0.9M604.0 153.8h0.9M559.0 150.3h0.9M629.1 137.4h0.9M597.2 119.9h0.9M606.5 132.6h0.9M667.2 151.6h0.9M593.0 127.4h0.9M550.1 158.5h0.9M566.3 183.2h0.9M563.6 162.6h0.9M562.0 68.5h0.9M708.0 122.5h0.9M574.1 157.1h0.9M607.7 127.8h0.9M574.3 141.3h0.9M558.9 148.6h0.9M641.4 96.3h0.9M526.1 134.5h0.9M571.1 125.2h0.9M619.8 143.2h0.9M600.9 157.7h0.9M561.3 136.5h0.9M547.2 140.5h0.9M618.8 71.5h0.9M654.0 141.5h0.9M677.0 166.0h0.9M594.9 139.9h0.9M587.0 172.4h0.9M533.0 171.8h0.9M580.9 147.9h0.9M639.2 142.4h0.9M504.8 146.5h0.9M578.6 117.5h0.9M639.0 131.5h0.9M645.8 129.2h0.9M656.4 101.1h0.9M619.5 149.8h0.9M571.7 128.0h0.9M660.1 150.5h0.9M635.3 152.5h0.9M565.6 140.5h0.9M633.6 100.4h0.9M644.0 150.8h0.9M512.8 144.1h0.9M599.3 132.3h0.9M563.0 150.3h0.9M594.9 189.6h0.9M594.1 156.0h0.9M526.4 144.9h0.9M553.0 128.5h0.9M635.4 135.5h0.9M512.9 167.8h0.9M594.2 145.5h0.9M565.0 129.2h0.9M535.0 144.8h0.9M606.5 113.6h0.9M640.5 125.2h0.9M554.9 136.5h0.9M679.2 111.4h0.9M619.0 141.1h0.9M649.0 167.5h0.9M634.2 143.4h0.9M600.9 169.4h0.9M652.1 108.5h0.9M547.1 169.7h0.9M658.3 104.3h0.9M515.8 149.7h0.9M556.1 122.2h0.9M584.0 141.2h0.9M537.3 143.2h0.9M581.9 118.7h0.9M605.2 146.2h0.9M609.8 148.5h0.9M579.1 144.5h0.9M604.0 162.2h0.9M537.6 171.3h0.9M638.1 120.5h0.9M582.9 166.2h0.9M593.8 131.4h0.9M565.8 129.3h0.9M646.1 92.5h0.9M581.1 131.5h0.9M550.0 128.6h0.9M514.4 109.4h0.9M569.0 136.4h0.9M668.1 111.2h0.9M599.2 81.6h0.9M601.9 136.5h0.9M543.7 162.2h0.9M565.6 171.4h0.9M591.5 129.9h0.9M625.0 141.4h0.9M576.3 160.2h0.9M561.0 154.5h0.9M583.0 161.5h0.9M572.9 135.5h0.9M649.1 126.1h0.9M652.8 126.5h0.9M615.7 110.3h0.9M546.0 126.5h0.9M587.0 175.0h0.9M642.3 167.5h0.9M606.3 132.6h0.9M597.8 155.9h0.9M642.0 129.8h0.9M640.1 130.1h0.9M544.0 104.9h0.9M584.4 147.5h0.9M518.0 155.6h0.9M649.2 145.1h0.9M538.3 158.6h0.9M568.3 128.7h0.9M614.6 128.8h0.9M568.0 143.0h0.9M589.5 156.6h0.9M545.6 143.4h0.9M616.1 161.2h0.9M665.9 98.7h0.9M565.8 141.6h0.9M628.2 148.3h0.9M668.0 99.9h0.9M525.9 149.8h0.9M538.0 138.9h0.9M631.0 158.7h0.9M634.8 146.6h0.9M702.9 114.7h0.9M657.0 163.5h0.9M599.0 139.7h0.9M522.2 149.6h0.9M624.9 146.8h0.9M544.9 142.5h0.9M646.1 125.5h0.9M585.7 151.7h0.9M622.2 141.2h0.9M589.8 115.1h0.9M587.2 129.5h0.9M576.0 151.5h0.9M559.0 152.8h0.9M596.4 171.2h0.9M587.9 156.5h0.9M622.0 119.9h0.9M600.5 136.5h0.9M527.3 155.5h0.9M693.9 46.7h0.9M575.6 157.7h0.9M650.2 103.4h0.9M592.2 146.7h0.9M596.4 128.5h0.9M614.4 149.5h0.9M587.8 144.4h0.9M607.7 132.6h0.9M622.9 130.0h0.9M624.6 143.6h0.9M577.3 143.5h0.9M673.8 146.5h0.9M662.6 100.7h0.9M665.0 152.6h0.9M629.3 162.5h0.9M657.4 162.7h0.9M545.2 129.4h0.9M535.6 138.5h0.9M643.8 157.3h0.9M652.8 137.5h0.9M672.0 144.5h0.9M536.0 103.5h0.9M619.4 125.2h0.9M565.1 152.6h0.9M569.6 145.7h0.9M617.4 134.8h0.9M618.0 137.5h0.9M527.1 149.5h0.9M577.1 140.8h0.9M685.2 166.5h0.9M514.0 149.5h0.9M590.1 162.1h0.9M560.0 140.4h0.9M573.2 154.5h0.9M666.2 157.1h0.9M644.3 92.5h0.9M629.7 141.4h0.9M600.1 139.9h0.9M528.6 59.5h0.9M581.1 147.7h0.9M582.0 133.5h0.9M534.8 137.4h0.9M573.1 132.4h0.9M603.6 165.5h0.9M664.0 92.5h0.9M538.8 167.2h0.9M649.0 146.9h0.9M580.3 148.2h0.9M528.8 148.5h0.9M570.4 145.5h0.9M560.8 126.8h0.9M640.9 157.7h0.9M607.1 153.1h0.9M684.1 138.4h0.9M553.8 134.8h0.9M626.0 131.6h0.9M628.3 118.6h0.9M618.4 142.7h0.9M543.1 167.6h0.9M633.9 135.5h0.9M554.2 131.4h0.9M609.4 140.6h0.9M645.2 156.5h0.9M654.3 154.5h0.9M631.1 190.2h0.9M640.1 138.5h0.9M573.9 151.0h0.9M560.3 131.5h0.9M594.2 139.6h0.9M593.5 130.8h0.9M607.7 133.2h0.9M675.0 133.5h0.9M541.1 161.9h0.9M601.7 138.5h0.9M657.1 90.5h0.9M604.0 173.4h0.9M695.2 129.7h0.9M512.6 128.2h0.9M709.6 107.9h0.9M622.9 141.0h0.9M592.1 133.9h0.9M681.0 169.5h0.9M564.1 146.9h0.9M606.6 155.4h0.9M658.0 135.3h0.9M611.2 128.1h0.9M582.9 55.5h0.9M568.7 151.9h0.9M576.5 150.5h0.9M589.1 119.5h0.9M559.0 141.0h0.9M622.0 114.5h0.9M563.1 119.5h0.9M644.1 170.7h0.9M563.3 57.7h0.9M571.0 134.5h0.9M658.8 99.7h0.9M596.3 134.6h0.9M632.6 136.2h0.9M622.9 125.6h0.9M542.0 144.5h0.9M547.2 112.5h0.9M603.8 145.7h0.9M592.1 123.5h0.9M602.1 90.6h0.9M592.2 140.2h0.9M658.2 124.2h0.9M547.1 163.5h0.9M562.0 138.0h0.9M574.1 165.7h0.9M691.1 95.5h0.9M570.3 155.9h0.9M632.5 141.5h0.9M596.0 132.9h0.9M531.0 133.5h0.9M595.7 167.6h0.9M670.4 133.6h0.9M566.1 131.7h0.9M554.6 154.4h0.9M699.2 13.4h0.9M587.0 141.8h0.9M605.1 149.1h0.9M605.9 134.7h0.9M644.1 116.2h0.9M514.1 139.4h0.9M668.8 121.7h0.9M579.3 170.4h0.9M632.3 97.5h0.9M574.0 146.4h0.9M628.1 155.7h0.9M623.0 168.9h0.9M554.2 159.4h0.9M640.1 116.9h0.9M625.4 118.4h0.9M547.1 148.2h0.9M658.0 160.4h0.9M668.6 109.5h0.9M545.1 104.6h0.9M551.3 76.5h0.9M688.1 104.1h0.9M626.0 169.4h0.9M620.7 162.5h0.9M616.0 68.1h0.9M571.2 138.5h0.9M656.0 92.6h0.9M568.4 166.4h0.9M702.9 130.5h0.9M626.0 139.5h0.9M598.0 105.1h0.9M558.6 150.8h0.9M551.0 154.7h0.9M509.2 154.2h0.9M576.0 163.0h0.9M650.0 104.6h0.9M609.9 153.0h0.9M531.9 143.5h0.9M551.3 122.0h0.9M592.5 153.5h0.9M541.1 142.5h0.9M565.0 169.3h0.9M600.2 132.0h0.9M609.0 151.9h0.9M616.1 139.7h0.9M619.1 156.0h0.9M619.1 139.5h0.9M642.1 132.6h0.9M628.2 108.5h0.9M649.5 126.6h0.9M590.9 129.1h0.9M577.5 145.6h0.9M692.4 119.2h0.9M569.3 138.0h0.9M594.1 154.5h0.9M577.1 145.7h0.9M676.1 135.9h0.9M600.1 147.7h0.9M592.0 160.5h0.9M518.1 131.5h0.9M577.0 122.7h0.9M514.9 153.2h0.9M589.1 155.5h0.9M645.9 147.7h0.9M630.6 135.7h0.9M526.7 118.6h0.9M554.9 158.5h0.9M526.2 157.5h0.9M634.8 70.6h0.9M527.5 106.7h0.9M606.3 155.4h0.9M617.9 112.6h0.9M645.8 161.0h0.9M577.1 138.7h0.9M635.2 25.8h0.9M601.2 163.5h0.9M598.5 145.5h0.9M629.7 159.6h0.9M578.1 168.8h0.9M612.1 182.5h0.9M653.9 122.5h0.9M663.1 149.9h0.9M509.0 169.7h0.9M565.1 111.4h0.9M554.2 151.0h0.9M643.6 123.4h0.9M569.5 129.2h0.9M627.1 135.7h0.9M510.1 165.5h0.9M617.0 115.4h0.9M610.8 149.7h0.9M558.2 137.7h0.9M701.9 113.5h0.9M644.2 164.3h0.9M641.0 130.9h0.9M653.1 123.7h0.9M684.9 138.2h0.9M629.2 109.8h0.9M626.8 130.4h0.9M609.9 155.4h0.9M563.1 132.2h0.9M645.7 123.5h0.9M573.1 146.2h0.9M616.1 143.1h0.9M570.4 150.9h0.9M569.5 163.6h0.9M621.9 126.6h0.9M704.7 83.4h0.9M551.1 149.4h0.9M666.7 123.6h0.9M551.9 151.6h0.9M585.1 145.5h0.9M555.4 156.9h0.9M539.2 129.4h0.9M516.1 144.2h0.9M628.7 124.0h0.9M656.8 126.6h0.9M625.7 128.4h0.9M628.7 163.5h0.9M616.7 131.7h0.9M578.9 163.2h0.9M603.1 117.5h0.9M514.9 137.4h0.9M608.4 131.4h0.9M690.1 139.5h0.9M554.5 149.6h0.9M523.0 129.9h0.9M584.2 86.5h0.9M536.3 155.5h0.9M734.3 115.5h0.9M636.0 118.5h0.9M557.6 144.9h0.9M545.9 143.5h0.9M662.1 112.5h0.9M534.0 159.4h0.9M621.9 117.4h0.9M507.5 125.4h0.9M588.0 162.5h0.9M566.9 135.3h0.9M617.8 142.8h0.9M558.1 150.5h0.9M564.6 150.2h0.9M603.8 152.5h0.9M557.4 145.5h0.9M668.5 110.5h0.9M525.0 156.2h0.9M522.3 158.7h0.9M643.0 166.4h0.9M576.9 129.5h0.9M666.8 122.4h0.9M535.7 134.5h0.9M582.6 134.5h0.9M590.1 160.3h0.9M586.0 166.3h0.9M659.2 138.7h0.9M551.5 129.6h0.9M551.9 106.4h0.9M586.2 139.0h0.9M508.6 127.0h0.9M506.5 165.5h0.9M647.0 138.7h0.9M536.3 159.6h0.9M556.0 128.6h0.9M585.5 159.5h0.9M571.7 134.0h0.9M636.7 85.5h0.9M644.4 162.9h0.9M629.7 159.3h0.9M529.0 166.5h0.9M513.4 159.1h0.9M556.1 152.9h0.9M603.8 136.7h0.9M548.8 144.4h0.9M531.8 158.0h0.9M582.9 149.7h0.9M657.8 139.7h0.9M539.0 132.3h0.9M605.1 131.4h0.9M539.1 141.4h0.9M605.0 127.0h0.9M639.9 96.5h0.9M527.9 136.9h0.9M611.6 116.6h0.9M541.9 147.3h0.9M530.1 166.5h0.9M631.4 138.5h0.9M623.8 130.5h0.9M529.1 157.5h0.9M601.3 142.3h0.9M535.8 168.1h0.9M539.7 172.1h0.9M559.0 144.6h0.9M551.1 170.3h0.9M639.6 151.6h0.9M552.2 119.5h0.9M530.3 139.7h0.9M632.2 149.4h0.9M594.3 161.5h0.9M580.0 121.7h0.9M579.0 150.5h0.9M507.1 142.0h0.9M601.9 147.6h0.9M535.1 130.1h0.9M594.2 76.5h0.9M524.3 134.5h0.9M544.9 129.0h0.9M612.2 121.9h0.9M602.1 119.3h0.9M568.0 141.9h0.9M579.6 157.6h0.9M609.0 135.5h0.9M611.2 142.4h0.9M609.3 155.4h0.9M560.1 133.5h0.9M645.2 169.7h0.9M662.2 137.6h0.9M623.0 120.5h0.9M664.0 69.5h0.9M583.1 159.6h0.9M573.0 121.7h0.9M593.0 139.2h0.9M570.6 145.4h0.9M640.7 90.5h0.9M649.0 159.8h0.9M569.4 154.5h0.9M651.1 133.5h0.9M629.5 157.5h0.9M542.1 147.3h0.9M573.1 95.2h0.9M533.0 127.5h0.9M620.0 139.5h0.9M597.0 133.8h0.9M614.0 69.6h0.9M504.2 154.4h0.9M633.8 143.8h0.9M621.5 141.3h0.9M524.0 141.5h0.9M622.6 173.5h0.9M575.0 143.6h0.9M653.1 142.3h0.9M564.6 122.4h0.9M601.0 149.5h0.9M562.0 141.5h0.9M651.3 167.5h0.9M586.0 150.7h0.9M557.5 156.5h0.9M516.9 166.5h0.9M630.1 26.6h0.9M636.7 153.4h0.9M672.2 109.4h0.9M589.0 120.5h0.9M646.7 110.6h0.9M609.9 117.5h0.9M613.8 102.5h0.9M634.9 151.5h0.9M585.1 150.5h0.9M528.9 147.7h0.9M593.0 159.7h0.9M575.1 123.4h0.9M594.1 152.5h0.9M525.9 162.5h0.9M652.0 141.1h0.9M616.0 123.2h0.9M661.0 114.5h0.9M609.7 144.3h0.9M591.6 154.2h0.9M661.0 107.5h0.9M550.3 140.0h0.9M604.1 143.4h0.9M639.1 144.6h0.9M576.4 162.5h0.9M640.4 127.2h0.9M519.5 151.6h0.9M577.4 149.8h0.9M714.0 105.9h0.9M572.9 134.6h0.9M555.7 127.7h0.9M601.3 128.4h0.9M599.0 153.5h0.9M646.9 121.4h0.9M574.2 127.6h0.9M627.1 136.5h0.9M628.5 88.6h0.9M592.1 155.3h0.9M580.1 151.8h0.9M543.0 144.5h0.9M601.0 185.9h0.9M618.9 111.8h0.9M621.4 124.3h0.9M572.1 137.0h0.9M626.7 134.4h0.9M564.0 138.5h0.9M621.1 145.9h0.9M554.5 112.5h0.9M591.1 116.7h0.9M556.6 164.5h0.9M593.0 151.7h0.9M604.1 95.2h0.9M528.0 167.4h0.9M577.0 149.1h0.9M572.9 172.2h0.9M621.9 150.3h0.9M630.0 148.5h0.9M614.2 146.5h0.9M600.3 153.5h0.9M637.6 141.7h0.9M654.3 156.1h0.9M645.2 133.5h0.9M545.0 102.2h0.9M630.3 123.7h0.9M631.9 138.7h0.9M571.2 153.5h0.9M630.1 122.5h0.9M535.3 149.7h0.9M593.4 115.5h0.9M629.1 122.3h0.9M506.3 156.7h0.9M660.1 160.4h0.9M535.4 129.3h0.9M504.1 123.4h0.9M584.8 149.0h0.9M520.1 142.1h0.9M612.1 155.8h0.9M618.0 138.5h0.9M594.0 133.5h0.9M613.0 136.7h0.9M533.1 48.0h0.9M526.9 152.1h0.9M505.9 109.8h0.9M622.0 144.5h0.9M653.8 124.5h0.9M533.1 110.9h0.9M599.1 128.5h0.9M644.9 153.3h0.9M526.8 149.0h0.9M625.1 134.0h0.9M630.0 143.5h0.9M545.3 150.8h0.9M622.1 154.8h0.9M552.0 151.4h0.9M636.3 150.5h0.9M712.6 138.2h0.9M605.1 122.1h0.9M599.0 160.7h0.9M574.2 133.0h0.9M648.7 144.7h0.9M625.3 144.5h0.9M629.2 132.6h0.9M506.8 137.6h0.9M605.1 143.7h0.9M556.1 145.7h0.9M587.2 140.5h0.9M586.7 150.1h0.9M658.4 131.7h0.9M525.0 141.6h0.9M519.3 169.5h0.9M610.1 153.6h0.9M647.0 98.5h0.9M626.7 136.1h0.9M587.3 153.4h0.9M537.0 149.7h0.9M540.4 122.8h0.9M524.1 118.5h0.9M719.9 134.6h0.9M641.6 129.3h0.9M645.0 153.9h0.9M583.2 163.4h0.9M526.5 97.1h0.9M576.1 154.5h0.9M648.5 139.6h0.9M558.9 120.5h0.9M537.0 135.3h0.9M642.9 146.5h0.9M543.1 173.4h0.9M671.7 102.3h0.9M549.1 141.4h0.9M553.1 157.6h0.9M642.1 157.1h0.9M599.4 144.5h0.9M567.8 150.5h0.9M597.5 128.8h0.9M553.3 160.5h0.9M545.1 157.4h0.9M559.0 138.2h0.9M610.1 132.0h0.9M619.0 130.5h0.9M552.4 167.7h0.9M540.1 129.6h0.9M593.1 157.5h0.9M556.0 137.2h0.9M608.1 176.4h0.9M562.9 151.6h0.9M524.1 136.4h0.9M541.8 125.5h0.9M622.8 150.6h0.9M655.1 122.6h0.9M633.9 156.8h0.9M535.3 135.5h0.9M647.0 126.6h0.9M516.1 148.0h0.9M628.0 132.3h0.9M603.5 152.9h0.9M519.0 155.5h0.9M559.4 42.5h0.9M606.0 149.7h0.9M514.0 157.3h0.9M629.3 144.9h0.9M541.1 161.2h0.9M559.1 168.5h0.9M632.1 170.6h0.9M512.6 146.0h0.9M641.8 128.4h0.9M609.8 142.5h0.9M581.1 147.4h0.9M522.9 108.5h0.9M564.0 138.9h0.9M570.0 144.1h0.9M578.7 155.5h0.9M502.0 143.2h0.9M639.7 145.5h0.9M556.5 175.9h0.9M515.1 150.7h0.9M577.1 111.5h0.9M617.2 107.2h0.9M591.9 120.3h0.9M582.0 143.6h0.9M536.8 116.6h0.9M548.0 156.9h0.9M555.1 157.5h0.9M685.6 138.6h0.9M627.5 124.0h0.9M540.1 168.5h0.9M631.0 132.5h0.9M567.6 122.6h0.9M658.8 127.4h0.9M521.3 156.3h0.9M617.1 123.2h0.9M687.2 128.4h0.9M584.9 131.4h0.9M649.7 174.5h0.9M575.7 169.3h0.9M601.0 157.2h0.9M594.6 135.5h0.9M608.0 185.0h0.9M666.0 149.6h0.9M662.0 130.7h0.9M570.1 114.4h0.9M669.3 127.5h0.9M579.4 150.7h0.9M506.9 160.5h0.9M595.1 137.8h0.9" stroke="#000" stroke-width="0.9" fill="none"/>
<path d="M519.09 264.5v-2.6M519.09 12v2.6M531.14 264.5v-2.6M531.14 12v2.6M539.68 264.5v-2.6M539.68 12v2.6M546.31 264.5v-2.6M546.31 12v2.6M551.73 264.5v-2.6M551.73 12v2.6M556.3 264.5v-2.6M556.3 12v2.6M560.27 264.5v-2.6M560.27 12v2.6M563.77 264.5v-2.6M563.77 12v2.6M566.9 264.5v-5.2M566.9 12v5.2M587.49 264.5v-2.6M587.49 12v2.6M599.54 264.5v-2.6M599.54 12v2.6M608.08 264.5v-2.6M608.08 12v2.6M614.71 264.5v-2.6M614.71 12v2.6M620.13 264.5v-2.6M620.13 12v2.6M624.7 264.5v-2.6M624.7 12v2.6M628.67 264.5v-2.6M628.67 12v2.6M632.17 264.5v-2.6M632.17 12v2.6M635.3 264.5v-5.2M635.3 12v5.2M655.89 264.5v-2.6M655.89 12v2.6M667.94 264.5v-2.6M667.94 12v2.6M676.48 264.5v-2.6M676.48 12v2.6M683.11 264.5v-2.6M683.11 12v2.6M688.53 264.5v-2.6M688.53 12v2.6M693.1 264.5v-2.6M693.1 12v2.6M697.07 264.5v-2.6M697.07 12v2.6M700.57 264.5v-2.6M700.57 12v2.6M703.7 264.5v-5.2M703.7 12v5.2M724.29 264.5v-2.6M724.29 12v2.6M736.34 264.5v-2.6M736.34 12v2.6M744.88 264.5v-2.6M744.88 12v2.6M751.51 264.5v-2.6M751.51 12v2.6M756.93 264.5v-2.6M756.93 12v2.6M761.5 264.5v-2.6M761.5 12v2.6M765.47 264.5v-2.6M765.47 12v2.6M768.97 264.5v-2.6M768.97 12v2.6M772.1 264.5v-5.2M772.1 12v5.2M792.69 264.5v-2.6M792.69 12v2.6M804.74 264.5v-2.6M804.74 12v2.6M498.5 260.29h3.2M805.5 260.29h-3.2M498.5 256.08h3.2M805.5 256.08h-3.2M498.5 251.88h3.2M805.5 251.88h-3.2M498.5 247.67h3.2M805.5 247.67h-3.2M498.5 243.46h3.2M805.5 243.46h-3.2M498.5 239.25h3.2M805.5 239.25h-3.2M498.5 235.04h3.2M805.5 235.04h-3.2M498.5 230.83h3.2M805.5 230.83h-3.2M498.5 226.62h3.2M805.5 226.62h-3.2M498.5 222.42h6.2M805.5 222.42h-6.2M498.5 218.21h3.2M805.5 218.21h-3.2M498.5 214h3.2M805.5 214h-3.2M498.5 209.79h3.2M805.5 209.79h-3.2M498.5 205.58h3.2M805.5 205.58h-3.2M498.5 201.38h3.2M805.5 201.38h-3.2M498.5 197.17h3.2M805.5 197.17h-3.2M498.5 192.96h3.2M805.5 192.96h-3.2M498.5 188.75h3.2M805.5 188.75h-3.2M498.5 184.54h3.2M805.5 184.54h-3.2M498.5 180.33h6.2M805.5 180.33h-6.2M498.5 176.12h3.2M805.5 176.12h-3.2M498.5 171.92h3.2M805.5 171.92h-3.2M498.5 167.71h3.2M805.5 167.71h-3.2M498.5 163.5h3.2M805.5 163.5h-3.2M498.5 159.29h3.2M805.5 159.29h-3.2M498.5 155.08h3.2M805.5 155.08h-3.2M498.5 150.88h3.2M805.5 150.88h-3.2M498.5 146.67h3.2M805.5 146.67h-3.2M498.5 142.46h3.2M805.5 142.46h-3.2M498.5 138.25h6.2M805.5 138.25h-6.2M498.5 134.04h3.2M805.5 134.04h-3.2M498.5 129.83h3.2M805.5 129.83h-3.2M498.5 125.62h3.2M805.5 125.62h-3.2M498.5 121.42h3.2M805.5 121.42h-3.2M498.5 117.21h3.2M805.5 117.21h-3.2M498.5 113h3.2M805.5 113h-3.2M498.5 108.79h3.2M805.5 108.79h-3.2M498.5 104.58h3.2M805.5 104.58h-3.2M498.5 100.38h3.2M805.5 100.38h-3.2M498.5 96.17h6.2M805.5 96.17h-6.2M498.5 91.96h3.2M805.5 91.96h-3.2M498.5 87.75h3.2M805.5 87.75h-3.2M498.5 83.54h3.2M805.5 83.54h-3.2M498.5 79.33h3.2M805.5 79.33h-3.2M498.5 75.12h3.2M805.5 75.12h-3.2M498.5 70.92h3.2M805.5 70.92h-3.2M498.5 66.71h3.2M805.5 66.71h-3.2M498.5 62.5h3.2M805.5 62.5h-3.2M498.5 58.29h3.2M805.5 58.29h-3.2M498.5 54.08h6.2M805.5 54.08h-6.2M498.5 49.88h3.2M805.5 49.88h-3.2M498.5 45.67h3.2M805.5 45.67h-3.2M498.5 41.46h3.2M805.5 41.46h-3.2M498.5 37.25h3.2M805.5 37.25h-3.2M498.5 33.04h3.2M805.5 33.04h-3.2M498.5 28.83h3.2M805.5 28.83h-3.2M498.5 24.63h3.2M805.5 24.63h-3.2M498.5 20.42h3.2M805.5 20.42h-3.2M498.5 16.21h3.2M805.5 16.21h-3.2" stroke="#000" stroke-width="0.7" fill="none"/>
<path d="M498.5 222.42H805.5" stroke="#000" stroke-width="1" fill="none"/>
<path d="M515.9 143.9L548.3 141L581.5 141.4L614.9 135.9L648.3 132.1L679.6 125.9L716.3 105.6L747 85" stroke="#ff0000" stroke-width="2.3" fill="none" stroke-linejoin="round"/>
<path d="M515.9 124.9V162.5M548.3 120.1V161.8M581.5 123V160.8M614.9 113V160.3M648.3 106.6V157.5M679.6 101.4V152M716.3 73.8V135.6M747 58.7V110.5" stroke="#ff0000" stroke-width="2.15" fill="none"/>
<path d="M515.9 222.7L548.3 222.7L581.5 222.7L614.9 222.7L648.3 222.7L679.6 222.7L716.3 222.7L747 222.7" stroke="#ff0000" stroke-width="2.5" fill="none" stroke-linecap="round" stroke-linejoin="round" stroke-dasharray="0.01 6.59" stroke-dashoffset="1.1"/>
<path d="M515.9 217.3V229.4M548.3 216.3V227.1M581.5 217.3V227.5M614.9 217.3V227.1M648.3 218.2V227.5M679.6 217.3V226M716.3 218.4V226.5M747 219.8V225" stroke="#ff0000" stroke-width="2.15" fill="none"/>
<path d="M522 220.5L554.1 220.5L587.5 220.5L621 220.5L654.4 220.5L685.4 220.5L722.5 220.5L752.9 220.5" stroke="#0000ff" stroke-width="2.5" fill="none" stroke-linecap="round" stroke-linejoin="round" stroke-dasharray="0.01 6.59" stroke-dashoffset="1.1"/>
<path d="M522 218.5V222.5M554.1 218.5V222.5M587.5 218.5V222.5M621 218.5V222.5M654.4 218.5V222.5M685.4 218.5V222.5M722.5 218.5V222.5M752.9 218.5V222.5" stroke="#0000ff" stroke-width="2.15" fill="none"/>
<path d="M522 162L554.1 159.8L587.5 158.8L621 155.4L654.4 151.8L685.4 147.7L722.5 132.3L752.9 113" stroke="#0000ff" stroke-width="2.3" fill="none" stroke-linejoin="round"/>
<path d="M522 152.1V172.5M554.1 147.2V172.5M587.5 148V170.9M621 140.3V170.9M654.4 134.9V169.8M685.4 129.8V166.2M722.5 108.1V156.2M752.9 92.1V132.7" stroke="#0000ff" stroke-width="2.15" fill="none"/>
<path d="M519.4 180.6L551.5 180.6L584.6 180.6L617.9 180.6L651.3 180.2L682.5 180.2L719.4 179.4L750 178.6" stroke="#000000" stroke-width="2.3" fill="none" stroke-linejoin="round"/>
<path d="M519.4 178.4V182.8M551.5 178.4V182.8M584.6 178.4V182.8M617.9 178.4V182.8M651.3 178V182.4M682.5 178V182.4M719.4 177.2V181.6M750 176.4V180.8" stroke="#000000" stroke-width="2.15" fill="none"/>
<path d="M519.4 222.7L551.5 222.7L584.6 222.7L617.9 222.7L651.3 222.7L682.5 222.7L719.4 222.7L750 222.7" stroke="#000000" stroke-width="2.5" fill="none" stroke-linecap="round" stroke-linejoin="round" stroke-dasharray="0.01 6.59" stroke-dashoffset="1.1"/>
<path d="M519.4 220.2V225.2M551.5 220.2V225.2M584.6 220.2V225.2M617.9 220.2V225.2M651.3 220.2V225.2M682.5 220.2V225.2M719.4 220.2V225.2M750 219.2V226.1" stroke="#000000" stroke-width="2.15" fill="none"/>
<rect x="498.5" y="12" width="307" height="252.5" fill="none" stroke="#000" stroke-width="0.85"/>
<text x="492.5" y="264.2" text-anchor="end">-10</text>
<text x="492.5" y="229.02" text-anchor="end">0</text>
<text x="492.5" y="186.93" text-anchor="end">10</text>
<text x="492.5" y="144.85" text-anchor="end">20</text>
<text x="492.5" y="102.77" text-anchor="end">30</text>
<text x="492.5" y="60.68" text-anchor="end">40</text>
<text x="492.5" y="23.4" text-anchor="end">50</text>
<text x="498.5" y="289" text-anchor="middle">0.0001</text>
<text x="566.9" y="289" text-anchor="middle">0.0010</text>
<text x="635.3" y="289" text-anchor="middle">0.0100</text>
<text x="703.7" y="289" text-anchor="middle">0.1000</text>
<text x="772.1" y="289" text-anchor="middle">1.0000</text>
<text x="651.5" y="311" text-anchor="middle">X-ray flux (J m<tspan font-size="12.338px" dy="-9.5">-2</tspan><tspan dy="9.5">)</tspan></text>
<text transform="translate(449.2 138.25) rotate(-90)" text-anchor="middle" xml:space="preserve" style="font-size:20.2px"><tspan dy="0">VOR indices (10</tspan><tspan font-size="12.524px" dy="-9.6">-6</tspan><tspan dy="9.6">&#160;s</tspan><tspan font-size="12.524px" dy="-9.6">-1</tspan><tspan dy="9.6">)</tspan></text>
</g>
<g>
<path d="M161.8 491.4h0.9M177.8 469.5h0.9M178.0 409.5h0.9M255.2 491.5h0.9M248.0 500.5h0.9M111.0 484.6h0.9M171.8 458.7h0.9M244.0 402.8h0.9M216.4 480.1h0.9M216.1 480.3h0.9M158.5 449.4h0.9M138.4 486.9h0.9M220.0 466.3h0.9M197.0 492.8h0.9M177.3 368.4h0.9M220.7 487.3h0.9M176.2 488.5h0.9M134.1 355.6h0.9M203.9 494.5h0.9M181.7 466.5h0.9M132.0 403.5h0.9M290.5 428.9h0.9M159.9 427.6h0.9M234.9 463.0h0.9M193.0 455.5h0.9M235.0 483.9h0.9M172.7 522.3h0.9M237.1 478.2h0.9M215.1 462.6h0.9M127.0 495.8h0.9M209.2 408.5h0.9M137.0 475.5h0.9M104.1 354.3h0.9M198.5 428.7h0.9M205.8 466.5h0.9M180.3 430.4h0.9M200.4 520.8h0.9M159.4 472.2h0.9M108.2 462.6h0.9M107.0 482.5h0.9M199.1 484.6h0.9M196.3 455.1h0.9M251.0 487.6h0.9M218.3 387.5h0.9M189.0 363.5h0.9M149.0 461.5h0.9M181.2 438.6h0.9M147.3 490.3h0.9M222.0 451.5h0.9M255.8 421.5h0.9M184.0 502.3h0.9M165.9 518.5h0.9M256.1 433.4h0.9M184.8 436.3h0.9M223.1 446.4h0.9M205.3 463.5h0.9M138.1 479.4h0.9M262.6 449.5h0.9M131.0 460.9h0.9M212.5 469.3h0.9M165.1 510.5h0.9M145.2 487.5h0.9M209.1 447.7h0.9M251.8 487.2h0.9M217.0 455.6h0.9M249.0 464.5h0.9M151.2 426.9h0.9M216.3 435.8h0.9M162.2 446.1h0.9M181.2 475.5h0.9M157.6 437.8h0.9M267.1 460.5h0.9M299.0 475.4h0.9M133.2 486.5h0.9M162.2 525.6h0.9M210.9 398.6h0.9M196.4 511.1h0.9M151.9 424.5h0.9M184.0 478.8h0.9M228.0 409.5h0.9M176.6 477.5h0.9M171.8 478.5h0.9M180.4 448.3h0.9M137.9 427.5h0.9M157.4 449.2h0.9M231.9 515.5h0.9M261.9 456.7h0.9M157.0 488.9h0.9M224.0 440.0h0.9M206.9 475.9h0.9M207.1 468.1h0.9M122.0 445.3h0.9M235.0 434.1h0.9M133.0 464.5h0.9M175.3 445.5h0.9M275.1 452.1h0.9M178.8 457.8h0.9M106.1 390.4h0.9M141.1 426.9h0.9M177.2 440.8h0.9M257.6 481.5h0.9M277.1 467.4h0.9M241.9 455.3h0.9M163.4 400.9h0.9M213.0 454.0h0.9M205.1 448.5h0.9M192.9 485.0h0.9M172.5 475.2h0.9M221.0 445.6h0.9M206.5 468.5h0.9M216.2 394.5h0.9M180.2 460.1h0.9M243.9 444.2h0.9M136.4 470.2h0.9M195.7 469.5h0.9M122.0 481.6h0.9M251.3 502.4h0.9M234.0 472.7h0.9M142.2 440.6h0.9M134.0 472.5h0.9M177.6 513.2h0.9M187.3 483.0h0.9M234.5 466.6h0.9M274.1 457.5h0.9M161.1 392.7h0.9M196.6 443.5h0.9M177.0 490.6h0.9M164.9 483.5h0.9M178.2 479.1h0.9M205.1 497.6h0.9M201.6 471.0h0.9M212.1 483.5h0.9M223.1 478.8h0.9M128.7 457.5h0.9M185.3 456.3h0.9M166.0 403.4h0.9M208.0 437.1h0.9M195.1 489.5h0.9M198.0 421.5h0.9M182.0 453.3h0.9M173.9 504.6h0.9M148.2 479.8h0.9M159.0 459.5h0.9M146.0 474.4h0.9M219.0 459.6h0.9M160.9 451.5h0.9M220.1 482.6h0.9M183.1 423.1h0.9M170.9 480.1h0.9M225.6 458.5h0.9M210.3 477.5h0.9M239.1 443.4h0.9M144.0 472.8h0.9M159.9 463.3h0.9M167.0 508.4h0.9M206.1 485.5h0.9M183.0 505.5h0.9M172.0 484.7h0.9M199.3 481.7h0.9M105.2 428.4h0.9M213.1 490.4h0.9M191.1 461.3h0.9M158.0 483.2h0.9M144.1 457.5h0.9M102.0 490.0h0.9M185.1 479.7h0.9M196.3 487.5h0.9M214.1 507.7h0.9M153.6 449.5h0.9M276.0 391.0h0.9M221.0 453.7h0.9M118.6 498.5h0.9M192.3 495.2h0.9M228.0 456.3h0.9M230.0 470.4h0.9M168.2 444.4h0.9M205.0 458.0h0.9M228.0 504.5h0.9M211.6 392.5h0.9M139.0 460.6h0.9M177.1 437.5h0.9M214.5 500.4h0.9M203.0 478.5h0.9M215.1 426.5h0.9M128.1 358.7h0.9M171.2 482.1h0.9M142.0 504.1h0.9M191.2 429.5h0.9M141.1 461.0h0.9M165.4 431.6h0.9M224.8 506.7h0.9M271.4 449.8h0.9M189.1 481.7h0.9M141.1 484.5h0.9M124.0 471.0h0.9M277.6 444.4h0.9M191.0 489.5h0.9M194.0 436.5h0.9M190.1 487.7h0.9M130.0 484.5h0.9M268.1 472.5h0.9M305.0 461.5h0.9M256.7 448.5h0.9M162.6 412.5h0.9M138.1 460.3h0.9M259.7 473.6h0.9M206.1 453.4h0.9M259.5 388.3h0.9M229.3 425.4h0.9M208.2 490.9h0.9M134.7 493.0h0.9M128.3 489.3h0.9M196.2 475.2h0.9M156.0 430.3h0.9M130.6 461.5h0.9M150.0 506.6h0.9M139.1 478.6h0.9M219.3 453.3h0.9M185.0 451.5h0.9M136.0 348.8h0.9M205.2 420.7h0.9M206.2 472.5h0.9M220.1 458.4h0.9M233.9 450.6h0.9M138.0 503.4h0.9M117.7 469.4h0.9M225.1 501.5h0.9M157.0 398.5h0.9M134.0 497.8h0.9M198.3 477.0h0.9M182.8 501.0h0.9M130.0 481.0h0.9M142.0 496.9h0.9M201.4 385.5h0.9M243.2 466.3h0.9M177.1 473.5h0.9M257.7 491.0h0.9M191.3 468.7h0.9M174.2 464.5h0.9M312.0 428.5h0.9M248.8 487.3h0.9M258.1 430.9h0.9M149.1 498.3h0.9M258.9 461.5h0.9M145.2 456.6h0.9M238.3 472.7h0.9M135.1 460.5h0.9M204.0 460.5h0.9M162.9 446.5h0.9M220.0 439.5h0.9M140.6 447.5h0.9M202.9 490.5h0.9M246.6 480.5h0.9M105.9 525.5h0.9M251.6 459.5h0.9M238.9 498.5h0.9M125.1 456.4h0.9M127.0 476.5h0.9M199.1 470.5h0.9M220.0 416.5h0.9M237.1 467.3h0.9M273.0 473.5h0.9M177.3 480.5h0.9M193.1 493.6h0.9M197.2 461.5h0.9M229.0 454.2h0.9M148.0 447.1h0.9M253.2 474.5h0.9M171.2 407.5h0.9M162.2 459.2h0.9M214.0 482.1h0.9M234.9 470.7h0.9M164.9 500.2h0.9M140.3 489.5h0.9M114.2 411.4h0.9M204.2 480.6h0.9M169.1 460.6h0.9M200.1 453.3h0.9M118.0 486.5h0.9M218.0 482.4h0.9M177.4 427.5h0.9M283.9 427.3h0.9M200.0 468.2h0.9M185.3 481.3h0.9M138.0 475.2h0.9M171.2 482.5h0.9M231.1 477.5h0.9M138.9 467.8h0.9M196.1 497.7h0.9M140.8 476.3h0.9M116.4 493.8h0.9M200.1 475.9h0.9M215.0 488.6h0.9M152.4 480.6h0.9M249.7 462.5h0.9M97.0 448.3h0.9M179.9 404.4h0.9M157.8 443.5h0.9M135.7 474.4h0.9M226.6 468.3h0.9M215.1 489.6h0.9M161.8 429.1h0.9M194.0 490.2h0.9M225.1 490.5h0.9M182.5 510.9h0.9M205.1 503.9h0.9M131.0 439.1h0.9M132.9 478.6h0.9M215.0 442.5h0.9M249.1 414.4h0.9M205.3 464.5h0.9M123.0 472.5h0.9M145.1 506.2h0.9M349.1 438.6h0.9M248.0 460.3h0.9M174.6 509.1h0.9M267.1 443.8h0.9M218.2 448.5h0.9M153.2 489.4h0.9M152.3 439.6h0.9M256.2 462.5h0.9M119.2 444.1h0.9M137.1 481.5h0.9M234.9 441.5h0.9M134.0 361.6h0.9M148.2 487.1h0.9M226.6 483.3h0.9M111.6 465.5h0.9M194.5 424.4h0.9M243.9 462.7h0.9M248.0 391.8h0.9M133.2 469.3h0.9M169.9 434.4h0.9M163.5 499.1h0.9M115.3 506.0h0.9M146.2 477.1h0.9M239.0 467.3h0.9M162.0 491.1h0.9M264.8 438.0h0.9M116.9 474.5h0.9M268.7 461.6h0.9M224.0 407.5h0.9M244.1 404.5h0.9M200.4 459.2h0.9M204.0 451.6h0.9M218.2 455.5h0.9M253.2 450.7h0.9M278.7 448.2h0.9M170.1 470.2h0.9M115.1 482.2h0.9M173.6 448.5h0.9M159.6 480.4h0.9M188.8 412.5h0.9M179.0 425.5h0.9M167.9 453.7h0.9M206.3 368.4h0.9M203.1 482.9h0.9M247.0 471.3h0.9M134.0 471.9h0.9M144.7 474.0h0.9M107.7 503.7h0.9M188.1 466.2h0.9M214.1 458.6h0.9M145.0 516.4h0.9M220.1 414.0h0.9M181.1 476.5h0.9M160.9 457.4h0.9M114.1 459.5h0.9M95.9 482.3h0.9M167.2 486.0h0.9M263.5 469.4h0.9M232.5 470.2h0.9M128.9 484.2h0.9M138.4 474.5h0.9M139.7 442.5h0.9M110.2 433.5h0.9M103.0 346.5h0.9M102.0 450.1h0.9M146.1 474.5h0.9M214.3 489.6h0.9M224.0 509.5h0.9M195.1 487.3h0.9M232.1 424.5h0.9M149.0 463.5h0.9M221.1 464.5h0.9M208.0 492.0h0.9M241.1 429.5h0.9M153.1 505.5h0.9M121.0 497.8h0.9M178.9 482.5h0.9M182.4 451.9h0.9M155.1 477.8h0.9M143.0 475.3h0.9M159.4 448.1h0.9M268.7 490.5h0.9M142.6 424.2h0.9M134.0 439.0h0.9M216.0 449.7h0.9M222.6 476.5h0.9M117.8 444.5h0.9M216.1 433.4h0.9M147.2 448.5h0.9M229.1 464.0h0.9M169.9 471.2h0.9M206.0 489.5h0.9M146.4 474.5h0.9M102.1 424.5h0.9M199.2 482.5h0.9M149.9 452.5h0.9M196.1 498.5h0.9M132.3 500.5h0.9M146.0 512.3h0.9M125.0 482.7h0.9M228.0 507.2h0.9M228.0 469.3h0.9M104.4 462.5h0.9M209.7 465.4h0.9M112.0 509.5h0.9M176.1 446.2h0.9M178.5 470.1h0.9M181.1 522.7h0.9M214.6 466.4h0.9M170.8 443.7h0.9M251.2 469.1h0.9M149.0 441.5h0.9M175.9 493.9h0.9M189.2 463.6h0.9M179.0 424.4h0.9M206.3 447.8h0.9M225.2 447.3h0.9M124.1 408.1h0.9M191.0 487.8h0.9M152.7 481.5h0.9M228.3 484.8h0.9M237.3 470.5h0.9M204.1 478.9h0.9M111.0 457.3h0.9M134.7 487.3h0.9M143.4 415.9h0.9M254.1 466.4h0.9M228.7 477.2h0.9M188.9 480.5h0.9M114.4 507.5h0.9M105.0 431.5h0.9M137.8 438.3h0.9M125.8 450.7h0.9M139.0 484.7h0.9M232.4 410.5h0.9M178.0 470.3h0.9M170.0 515.5h0.9M153.2 489.3h0.9M207.7 475.2h0.9M262.4 472.5h0.9M129.7 500.5h0.9M226.5 486.6h0.9M206.1 478.2h0.9M144.5 517.2h0.9M242.0 430.5h0.9M190.8 435.2h0.9M223.1 412.9h0.9M318.0 448.6h0.9M203.7 482.4h0.9M153.1 467.2h0.9M127.6 459.5h0.9M241.1 463.9h0.9M235.5 481.6h0.9M190.1 490.5h0.9M149.2 494.5h0.9M166.4 454.3h0.9M228.3 397.3h0.9M208.1 484.0h0.9M260.2 439.4h0.9M216.0 470.8h0.9M188.3 458.5h0.9M155.0 497.9h0.9M116.1 485.5h0.9M170.8 444.5h0.9M192.8 475.5h0.9M192.1 441.9h0.9M160.1 488.8h0.9M198.1 461.9h0.9M219.9 429.4h0.9M198.0 429.5h0.9M287.4 427.5h0.9M190.7 481.5h0.9M95.6 471.8h0.9M197.0 474.6h0.9M160.0 471.5h0.9M132.1 462.3h0.9M142.7 438.4h0.9M200.0 494.6h0.9M172.4 441.8h0.9M173.1 448.5h0.9M219.1 458.4h0.9M215.8 434.5h0.9M134.5 519.5h0.9M203.8 503.5h0.9M192.8 476.6h0.9M135.0 470.7h0.9M126.2 470.8h0.9M240.2 478.1h0.9M203.2 411.6h0.9M206.6 491.1h0.9M207.1 463.9h0.9M223.7 425.5h0.9M201.1 450.4h0.9M181.4 493.5h0.9M279.8 463.2h0.9M212.0 463.7h0.9M285.1 480.8h0.9M204.9 486.5h0.9M145.0 356.5h0.9M213.8 459.1h0.9M175.1 438.6h0.9M217.0 465.2h0.9M242.7 489.4h0.9M249.8 472.5h0.9M185.0 504.5h0.9M227.1 482.8h0.9M266.4 480.5h0.9M194.7 469.4h0.9M166.6 420.3h0.9M201.1 432.5h0.9M171.0 409.7h0.9M247.5 460.6h0.9M154.6 407.7h0.9M156.0 453.8h0.9M137.1 432.5h0.9M162.1 486.3h0.9M140.0 508.5h0.9M188.7 470.4h0.9M158.4 477.4h0.9M173.9 434.7h0.9M169.8 458.4h0.9M213.0 426.5h0.9M137.9 485.6h0.9M215.2 458.8h0.9M163.2 448.5h0.9M152.1 478.5h0.9M116.0 469.2h0.9M212.7 403.3h0.9M279.1 381.5h0.9M155.8 476.4h0.9M159.7 419.7h0.9M241.8 476.5h0.9M204.0 449.5h0.9M255.0 454.1h0.9M147.1 461.3h0.9M236.9 404.5h0.9M210.1 464.5h0.9M219.1 473.5h0.9M263.3 428.3h0.9M112.0 477.6h0.9M126.1 480.5h0.9M164.1 489.2h0.9M149.8 496.4h0.9M201.3 385.9h0.9M178.2 499.5h0.9M146.1 530.3h0.9M185.9 458.1h0.9M135.1 490.5h0.9M221.4 378.5h0.9M110.7 520.7h0.9M250.5 475.4h0.9M121.9 472.2h0.9M269.1 456.5h0.9M290.3 448.5h0.9M152.2 456.5h0.9M107.5 474.5h0.9M229.1 467.5h0.9M244.0 473.1h0.9M191.9 448.2h0.9M329.9 412.1h0.9M166.8 464.4h0.9M180.3 452.5h0.9M152.6 448.5h0.9M128.1 359.2h0.9M277.6 436.5h0.9M172.9 465.5h0.9M204.2 445.3h0.9M148.3 422.4h0.9M227.0 457.5h0.9M305.7 395.7h0.9M129.0 476.1h0.9M146.3 433.2h0.9M195.0 447.6h0.9M136.5 398.4h0.9M156.9 348.0h0.9M222.1 484.7h0.9M213.7 463.9h0.9M141.1 467.5h0.9M224.0 424.6h0.9M129.1 405.8h0.9M116.2 466.9h0.9M213.0 455.5h0.9M158.7 479.4h0.9M151.1 475.5h0.9M188.0 458.5h0.9M166.0 445.5h0.9M180.1 463.5h0.9M167.7 466.5h0.9M282.0 479.7h0.9M260.9 415.6h0.9M252.1 471.5h0.9M147.9 476.9h0.9M196.9 513.5h0.9M356.8 392.9h0.9M153.0 468.8h0.9M202.1 485.7h0.9M232.1 495.4h0.9M205.0 391.5h0.9M246.2 443.5h0.9M226.2 455.2h0.9M209.4 423.6h0.9M207.0 488.2h0.9M140.8 489.3h0.9M111.5 486.2h0.9M147.5 450.2h0.9M261.1 465.5h0.9M105.0 382.9h0.9M176.8 364.0h0.9M240.3 469.5h0.9M137.0 509.4h0.9M237.6 479.5h0.9M205.0 479.5h0.9M183.9 445.6h0.9M203.0 501.6h0.9M152.3 502.5h0.9M162.1 454.7h0.9M211.3 507.9h0.9M169.7 428.4h0.9M144.3 459.7h0.9M229.0 453.5h0.9M118.8 441.7h0.9M161.9 430.5h0.9M232.4 496.6h0.9M172.4 490.5h0.9M201.0 454.5h0.9M143.3 515.6h0.9M129.2 435.3h0.9M171.5 509.4h0.9M180.4 382.7h0.9M204.4 457.4h0.9M151.3 494.5h0.9M161.2 486.5h0.9M199.0 492.5h0.9M205.3 470.7h0.9M165.6 496.1h0.9M212.4 466.7h0.9M116.7 521.5h0.9M207.2 449.6h0.9M170.8 461.6h0.9M254.5 395.2h0.9M257.0 400.5h0.9M209.0 421.1h0.9M201.2 484.5h0.9M226.0 448.4h0.9M218.7 484.7h0.9M195.9 439.5h0.9M129.0 439.8h0.9M238.9 469.0h0.9M194.1 474.5h0.9M231.2 375.6h0.9M179.8 481.6h0.9M213.1 483.5h0.9M249.7 453.3h0.9M104.1 470.8h0.9M223.8 482.5h0.9M361.1 428.8h0.9M196.3 472.7h0.9M198.3 437.5h0.9M184.2 463.1h0.9M237.9 459.6h0.9M241.3 485.6h0.9M277.0 492.7h0.9M268.1 469.4h0.9M243.2 431.5h0.9M187.0 482.4h0.9M251.7 460.5h0.9M148.5 376.0h0.9M148.3 445.9h0.9M193.1 425.5h0.9M201.7 490.3h0.9M107.7 515.4h0.9M243.4 497.7h0.9M191.0 439.7h0.9M184.9 495.9h0.9M171.0 423.6h0.9M235.1 435.2h0.9M181.1 506.5h0.9M167.5 479.5h0.9M207.1 466.4h0.9M192.4 510.0h0.9M152.0 449.7h0.9M159.0 494.9h0.9M242.8 419.4h0.9M198.2 435.4h0.9M216.1 447.5h0.9M122.2 453.7h0.9M176.8 368.9h0.9M205.1 475.4h0.9M154.0 485.5h0.9M202.0 486.9h0.9M272.1 410.5h0.9M244.6 347.6h0.9M282.6 441.6h0.9M219.6 491.6h0.9M158.3 444.5h0.9M190.0 472.5h0.9M206.2 472.2h0.9M131.0 491.9h0.9M207.9 453.7h0.9M217.1 488.4h0.9M192.4 481.0h0.9M146.1 477.0h0.9M212.6 460.5h0.9M119.6 498.6h0.9M218.0 445.1h0.9M170.8 467.2h0.9M182.8 438.5h0.9M242.0 458.7h0.9M217.2 499.7h0.9M183.1 462.0h0.9M237.2 443.6h0.9M198.2 498.5h0.9M215.1 449.2h0.9M207.3 391.7h0.9M223.5 513.5h0.9M238.9 459.5h0.9M197.9 473.6h0.9M213.7 454.5h0.9M121.5 464.6h0.9M107.1 487.4h0.9M206.1 470.3h0.9M189.0 486.8h0.9M114.2 470.5h0.9M250.2 490.9h0.9M188.8 461.5h0.9M187.3 410.5h0.9M175.1 496.5h0.9M136.1 507.1h0.9M240.2 476.3h0.9M154.0 477.5h0.9M224.0 463.3h0.9M245.9 495.5h0.9M160.1 448.5h0.9M232.1 481.5h0.9M208.0 471.4h0.9M248.0 351.6h0.9M180.1 482.1h0.9M108.1 422.1h0.9M217.1 367.4h0.9M183.0 488.5h0.9M242.5 502.5h0.9M257.5 456.6h0.9M177.8 487.0h0.9M202.7 481.6h0.9M249.9 497.3h0.9M102.5 501.0h0.9M101.5 474.1h0.9M256.7 469.5h0.9M226.1 466.5h0.9M223.0 479.6h0.9M126.1 480.5h0.9M156.9 516.5h0.9M247.1 473.5h0.9M119.7 487.5h0.9M208.1 424.0h0.9M195.5 502.8h0.9M215.4 471.5h0.9M264.0 480.5h0.9M165.0 477.0h0.9M211.1 500.7h0.9M113.0 462.3h0.9M208.4 413.6h0.9M138.0 488.9h0.9M189.1 449.4h0.9M202.5 500.5h0.9M231.1 435.7h0.9M215.2 508.3h0.9M155.1 467.3h0.9M140.5 483.1h0.9M209.8 486.5h0.9M165.0 455.5h0.9M109.1 470.5h0.9M260.0 442.5h0.9M169.3 457.4h0.9M157.4 484.3h0.9M151.7 459.6h0.9M211.1 480.7h0.9M212.7 478.8h0.9M189.4 422.5h0.9M182.6 445.7h0.9M168.3 469.5h0.9M235.0 494.7h0.9M148.2 451.5h0.9M250.7 482.6h0.9M233.1 448.7h0.9M224.8 499.5h0.9M140.2 461.5h0.9M190.0 438.2h0.9M256.9 448.6h0.9M180.9 442.5h0.9M195.1 424.1h0.9M272.4 389.7h0.9M171.7 462.7h0.9M227.7 480.3h0.9M205.7 479.1h0.9M308.8 378.2h0.9M201.2 442.5h0.9M145.1 392.7h0.9M265.8 466.4h0.9M148.0 488.9h0.9M205.0 487.7h0.9M231.6 434.2h0.9M220.9 415.2h0.9M202.2 473.7h0.9M220.6 442.0h0.9M173.3 455.5h0.9M268.0 459.9h0.9M207.1 463.1h0.9M170.0 477.0h0.9M198.9 495.0h0.9M264.5 499.5h0.9M223.1 492.5h0.9M216.7 477.5h0.9M154.3 441.4h0.9M159.0 470.3h0.9M213.4 494.3h0.9M223.8 509.6h0.9M236.1 463.5h0.9M152.3 511.5h0.9M247.0 438.7h0.9M127.4 496.5h0.9M276.1 416.5h0.9M152.6 504.5h0.9M161.4 478.8h0.9M250.1 383.5h0.9M106.5 459.4h0.9M217.9 493.1h0.9M268.1 469.5h0.9M251.9 426.8h0.9M126.1 477.5h0.9M223.8 457.7h0.9M200.0 414.4h0.9M198.3 466.9h0.9M165.8 444.3h0.9M171.7 454.2h0.9M153.4 457.4h0.9M139.2 483.7h0.9M231.3 443.0h0.9M249.3 445.5h0.9M146.0 433.5h0.9M274.0 477.5h0.9M279.2 386.0h0.9M165.1 492.5h0.9M182.8 475.7h0.9M147.1 444.7h0.9M240.0 491.2h0.9M152.3 459.2h0.9M142.1 515.8h0.9M138.1 507.8h0.9M251.8 461.6h0.9M180.1 437.7h0.9M238.5 423.8h0.9M205.7 444.5h0.9M178.8 453.6h0.9M130.0 499.9h0.9M229.7 464.8h0.9M148.0 481.5h0.9M206.1 481.5h0.9M112.0 465.2h0.9M145.1 507.5h0.9M209.1 446.3h0.9M363.0 416.7h0.9M308.0 441.6h0.9M217.1 378.0h0.9M272.5 452.6h0.9M115.8 416.9h0.9M225.6 452.5h0.9M244.7 450.3h0.9M236.1 443.9h0.9M107.8 480.6h0.9M194.4 397.5h0.9M234.9 478.5h0.9M196.4 484.5h0.9M201.1 451.2h0.9M242.6 467.2h0.9M196.1 491.9h0.9M249.0 462.5h0.9M101.9 463.6h0.9M217.6 484.3h0.9M118.1 468.5h0.9M152.8 390.6h0.9M207.8 472.5h0.9M128.8 471.4h0.9M204.1 512.6h0.9M126.7 458.9h0.9M100.4 464.4h0.9M204.7 447.4h0.9M229.3 443.7h0.9M215.3 474.8h0.9M241.1 453.5h0.9M244.2 465.6h0.9M134.5 483.7h0.9M261.8 464.4h0.9M177.6 463.5h0.9M222.3 462.8h0.9M116.2 438.5h0.9M188.0 482.3h0.9M153.8 505.5h0.9M268.2 484.6h0.9M196.7 474.0h0.9M123.1 404.4h0.9M123.1 468.3h0.9M135.9 474.5h0.9M126.5 448.5h0.9M247.1 441.7h0.9M117.3 499.3h0.9M201.0 453.6h0.9M185.0 488.3h0.9M227.9 401.1h0.9M125.0 447.4h0.9M234.0 423.3h0.9M204.1 501.7h0.9M231.3 463.7h0.9M138.7 495.6h0.9M114.9 414.5h0.9M236.2 437.8h0.9M175.0 420.2h0.9M180.6 447.5h0.9M172.0 470.4h0.9M139.5 431.1h0.9M129.6 426.5h0.9M182.0 436.5h0.9M183.0 447.2h0.9M187.8 489.6h0.9M253.0 487.5h0.9M187.2 496.5h0.9M296.1 415.9h0.9M175.7 511.5h0.9M230.6 503.0h0.9M144.1 468.1h0.9M147.9 452.5h0.9M201.3 483.5h0.9M179.1 418.6h0.9M222.8 462.2h0.9M199.3 492.5h0.9M137.0 505.8h0.9M240.0 440.6h0.9M235.7 417.6h0.9M209.9 441.0h0.9M160.2 421.8h0.9M136.9 398.7h0.9M201.1 495.5h0.9M176.1 493.9h0.9M235.9 451.5h0.9M201.5 434.3h0.9M122.0 397.5h0.9M169.7 467.8h0.9M181.3 476.2h0.9M115.3 457.4h0.9M150.1 462.5h0.9M180.7 476.8h0.9M178.1 454.5h0.9M170.2 504.7h0.9M206.1 449.2h0.9M155.8 493.2h0.9M162.4 410.5h0.9M258.0 454.8h0.9M136.7 468.9h0.9M130.5 411.5h0.9M230.2 423.9h0.9M170.3 484.0h0.9M206.6 477.9h0.9M124.2 457.8h0.9M152.8 460.5h0.9M130.3 476.8h0.9M267.4 485.6h0.9M258.0 496.1h0.9M171.3 395.0h0.9M221.9 454.1h0.9M182.9 434.6h0.9M233.1 473.7h0.9M177.0 493.7h0.9M152.0 524.7h0.9M197.9 426.2h0.9M137.7 481.8h0.9M201.1 498.3h0.9M184.1 498.5h0.9M198.1 483.4h0.9M150.9 439.6h0.9M178.1 414.5h0.9M254.2 467.5h0.9M202.1 475.5h0.9M188.6 475.4h0.9M229.7 468.4h0.9M224.1 463.5h0.9M129.1 423.9h0.9M228.1 441.4h0.9M192.3 457.1h0.9M242.8 500.0h0.9M195.1 515.2h0.9M232.4 454.5h0.9M165.9 414.5h0.9M201.8 477.1h0.9M203.9 475.6h0.9M227.4 482.5h0.9M185.1 428.1h0.9M189.2 472.5h0.9M150.1 460.6h0.9M129.8 450.4h0.9M233.0 486.5h0.9M138.9 487.4h0.9M185.9 448.7h0.9M150.2 446.5h0.9M238.8 477.4h0.9M184.7 474.3h0.9M223.1 436.6h0.9M152.8 485.7h0.9M209.2 396.5h0.9M181.1 475.4h0.9M146.0 415.4h0.9M236.0 450.9h0.9M176.5 459.5h0.9M189.0 486.5h0.9M209.1 399.8h0.9M246.4 478.1h0.9M164.1 466.5h0.9M251.0 442.3h0.9M211.1 414.6h0.9M220.0 414.6h0.9M205.6 482.5h0.9M138.0 396.5h0.9M125.1 468.5h0.9M151.7 453.6h0.9M175.3 443.0h0.9M245.0 477.7h0.9M131.3 472.5h0.9M277.1 472.0h0.9M188.4 485.8h0.9M183.9 497.6h0.9M208.3 478.4h0.9M155.0 459.3h0.9M224.9 409.2h0.9M231.5 483.5h0.9M183.4 466.8h0.9M261.1 493.5h0.9M150.6 466.1h0.9M170.9 456.0h0.9M133.1 468.5h0.9M315.9 408.8h0.9M245.0 529.3h0.9M228.8 472.5h0.9M226.9 441.8h0.9M213.6 475.5h0.9M224.0 451.0h0.9M197.6 461.3h0.9M256.0 365.6h0.9M120.3 452.8h0.9M157.3 467.3h0.9M177.0 450.4h0.9M171.0 468.6h0.9M104.8 474.7h0.9M237.2 523.0h0.9M196.1 442.6h0.9M184.0 480.2h0.9M252.0 356.0h0.9M259.3 379.4h0.9M157.1 483.6h0.9M151.1 410.5h0.9M198.1 500.1h0.9M218.0 489.5h0.9M197.0 487.5h0.9M145.9 444.9h0.9M191.9 527.5h0.9M119.5 447.2h0.9M156.9 471.5h0.9M244.1 472.8h0.9M187.1 498.6h0.9M152.0 490.9h0.9M281.0 470.5h0.9M134.7 479.7h0.9M201.1 506.6h0.9M202.8 465.1h0.9M209.6 476.5h0.9M236.3 475.8h0.9M185.0 417.5h0.9M232.0 459.5h0.9M178.8 499.3h0.9M180.4 479.2h0.9M145.0 450.4h0.9M150.4 479.2h0.9M175.1 497.5h0.9M242.0 433.8h0.9M213.3 426.6h0.9M166.3 482.2h0.9M98.7 450.4h0.9M135.8 502.2h0.9M204.1 516.5h0.9M151.3 460.5h0.9M181.2 407.4h0.9M174.7 501.5h0.9M130.0 457.5h0.9M264.7 473.9h0.9M188.2 458.5h0.9M209.1 477.6h0.9M192.8 471.1h0.9M156.2 428.1h0.9M212.3 467.8h0.9M255.2 449.4h0.9M184.0 472.5h0.9M219.6 484.1h0.9M197.0 490.6h0.9M152.0 453.5h0.9M222.1 495.5h0.9M190.2 467.5h0.9M199.5 467.4h0.9M260.2 521.8h0.9M186.0 478.5h0.9M143.1 461.5h0.9M159.3 508.6h0.9M156.6 442.4h0.9M155.0 500.5h0.9M301.0 374.5h0.9M167.1 463.9h0.9M200.7 482.5h0.9M167.3 449.7h0.9M151.9 411.2h0.9M234.4 456.5h0.9M119.1 478.5h0.9M164.1 495.3h0.9M212.8 473.9h0.9M193.9 436.4h0.9M154.3 491.5h0.9M140.2 456.0h0.9M211.8 460.5h0.9M247.0 460.5h0.9M270.0 492.5h0.9M187.9 481.4h0.9M180.0 450.1h0.9M126.0 468.5h0.9M173.9 476.2h0.9M232.2 490.8h0.9M97.8 442.6h0.9M171.6 480.5h0.9M232.0 449.5h0.9M238.8 476.3h0.9M249.4 513.0h0.9M212.5 468.1h0.9M164.7 486.3h0.9M253.1 469.9h0.9M228.3 460.6h0.9M158.6 513.5h0.9M226.6 456.8h0.9M237.0 433.0h0.9M105.8 460.0h0.9M156.0 456.5h0.9M187.9 482.4h0.9M187.1 496.6h0.9M119.4 463.5h0.9M146.0 486.5h0.9M228.4 424.5h0.9M105.9 508.5h0.9M187.2 486.5h0.9M158.0 429.5h0.9M128.0 464.5h0.9M199.5 449.3h0.9M233.5 512.3h0.9M147.9 488.2h0.9M272.2 477.6h0.9M212.0 457.6h0.9M242.0 468.6h0.9M227.2 471.6h0.9M193.9 489.5h0.9M245.1 467.5h0.9M140.1 458.5h0.9M251.3 432.3h0.9M108.8 465.5h0.9M149.1 375.2h0.9M177.0 439.6h0.9M130.3 488.6h0.9M174.9 486.4h0.9M198.2 427.6h0.9M202.8 458.4h0.9M172.1 459.6h0.9M197.0 479.2h0.9M130.6 410.4h0.9M231.1 494.9h0.9M175.9 505.8h0.9M186.8 465.2h0.9M158.8 426.5h0.9M239.1 417.3h0.9M174.1 431.2h0.9M143.0 420.4h0.9M107.4 426.5h0.9M162.0 466.5h0.9M261.1 489.3h0.9M192.2 488.3h0.9M194.9 489.6h0.9M136.7 445.5h0.9M158.6 482.0h0.9M184.5 434.3h0.9M218.0 489.5h0.9M169.3 471.1h0.9M154.0 430.0h0.9M176.0 441.8h0.9M165.9 450.7h0.9M242.1 427.5h0.9M245.8 482.7h0.9M208.7 479.4h0.9M139.0 470.5h0.9M180.0 433.7h0.9M235.3 453.8h0.9M199.3 450.5h0.9M190.8 461.2h0.9M235.0 473.3h0.9M233.1 470.5h0.9M137.0 434.6h0.9M177.4 485.5h0.9M111.0 407.5h0.9M242.2 492.8h0.9M131.3 451.7h0.9M161.3 528.1h0.9M207.6 494.8h0.9M161.0 508.4h0.9M182.5 473.7h0.9M138.6 515.3h0.9M209.1 427.4h0.9M258.9 463.7h0.9M158.8 420.5h0.9M221.2 469.9h0.9M261.0 469.5h0.9M118.9 421.4h0.9M131.0 459.0h0.9M224.0 427.7h0.9M227.8 473.5h0.9M295.9 441.5h0.9M250.0 450.2h0.9M192.0 426.6h0.9M115.2 464.0h0.9M217.9 486.0h0.9M137.9 437.3h0.9M239.1 485.8h0.9M178.7 477.4h0.9M215.2 440.9h0.9M182.8 446.9h0.9M180.2 452.3h0.9M169.0 519.5h0.9M152.0 470.5h0.9M189.4 467.8h0.9M180.9 470.6h0.9M215.0 470.3h0.9M193.5 488.5h0.9M120.3 464.9h0.9M286.9 463.5h0.9M168.6 445.4h0.9M243.2 463.6h0.9M189.4 460.5h0.9M207.4 408.6h0.9M180.8 473.1h0.9M200.7 497.6h0.9M215.9 451.4h0.9M217.6 456.4h0.9M170.3 494.8h0.9M266.8 420.7h0.9M255.6 359.9h0.9M258.0 472.3h0.9M222.3 428.5h0.9M250.4 504.5h0.9M138.2 490.5h0.9M128.6 492.5h0.9M236.8 477.3h0.9M245.8 457.7h0.9M265.0 450.4h0.9M129.0 501.5h0.9M212.4 452.6h0.9M158.1 429.5h0.9M162.6 461.7h0.9M210.4 477.5h0.9M211.0 460.6h0.9M120.1 498.5h0.9M170.1 487.2h0.9M278.2 486.3h0.9M107.0 453.7h0.9M183.1 481.5h0.9M153.0 469.4h0.9M166.2 490.1h0.9M259.2 468.0h0.9M237.3 470.8h0.9M222.7 378.2h0.9M193.1 448.8h0.9M121.6 413.7h0.9M174.1 496.5h0.9M175.0 423.7h0.9M127.8 411.2h0.9M166.1 432.5h0.9M196.6 447.5h0.9M257.0 497.2h0.9M131.8 472.6h0.9M242.0 392.6h0.9M173.3 496.6h0.9M121.8 423.4h0.9M163.4 436.9h0.9M153.8 414.8h0.9M233.9 460.2h0.9M200.1 410.5h0.9M277.1 492.0h0.9M146.8 424.5h0.9M219.0 456.5h0.9M221.3 480.7h0.9M211.4 475.2h0.9M136.1 483.9h0.9M226.9 456.6h0.9M147.2 460.8h0.9M202.4 454.8h0.9M238.2 481.7h0.9M247.3 504.6h0.9M224.1 499.0h0.9M233.1 485.3h0.9M166.9 472.4h0.9M153.3 475.9h0.9M187.2 486.0h0.9M186.5 418.5h0.9M200.7 503.6h0.9M268.0 408.5h0.9M134.1 438.5h0.9M194.7 520.5h0.9M250.1 468.5h0.9M197.0 519.0h0.9M288.2 449.5h0.9M105.6 494.8h0.9M302.6 408.4h0.9M215.9 487.8h0.9M185.1 475.6h0.9M274.0 367.2h0.9M157.1 510.7h0.9M199.6 513.7h0.9M251.0 478.9h0.9M204.2 449.9h0.9M175.9 372.7h0.9M161.7 514.1h0.9M169.5 483.0h0.9M182.1 470.5h0.9M152.0 480.2h0.9M215.0 407.4h0.9M156.1 477.7h0.9M237.1 495.6h0.9M164.0 472.5h0.9M251.8 496.5h0.9M189.3 525.6h0.9M225.6 427.5h0.9M215.9 477.5h0.9M135.0 502.3h0.9M140.2 457.5h0.9M196.8 510.2h0.9M185.1 393.7h0.9M195.1 472.7h0.9M185.2 455.9h0.9M251.2 461.5h0.9M140.1 449.1h0.9M155.0 495.3h0.9M167.1 490.4h0.9M284.1 436.2h0.9M163.3 406.2h0.9M225.5 454.5h0.9M189.0 523.6h0.9M124.0 492.5h0.9M188.7 487.5h0.9M263.4 477.6h0.9M159.1 426.6h0.9M147.6 474.5h0.9M292.2 434.6h0.9M180.0 491.5h0.9M198.1 499.6h0.9M198.9 472.3h0.9M237.1 499.4h0.9M107.1 461.2h0.9M261.8 494.1h0.9M172.3 458.7h0.9M225.3 482.1h0.9M167.0 451.8h0.9M221.1 492.5h0.9M216.0 479.1h0.9M147.2 421.6h0.9M233.1 483.5h0.9M218.4 490.7h0.9M140.1 465.6h0.9M251.0 435.9h0.9M261.6 466.1h0.9M138.1 518.5h0.9M144.3 508.5h0.9M281.1 478.7h0.9M219.0 462.2h0.9M213.7 461.5h0.9M209.0 475.5h0.9M164.2 439.4h0.9M249.0 467.8h0.9M161.4 452.7h0.9M295.9 429.7h0.9M191.0 455.4h0.9M151.6 455.7h0.9M144.0 451.9h0.9M102.2 470.7h0.9M169.0 476.5h0.9M243.0 457.5h0.9M202.9 465.9h0.9M124.9 444.5h0.9M144.3 437.2h0.9M185.5 472.5h0.9M134.1 451.5h0.9M158.0 379.5h0.9M193.2 506.5h0.9M202.0 478.5h0.9M209.1 465.5h0.9M212.1 482.5h0.9M212.1 471.3h0.9M235.1 503.9h0.9M221.2 480.1h0.9M242.5 478.2h0.9M183.9 485.5h0.9M170.5 443.7h0.9M285.4 479.7h0.9M162.3 455.6h0.9M187.1 473.5h0.9M170.1 473.5h0.9M193.1 485.2h0.9M185.0 466.0h0.9M111.1 513.7h0.9M170.0 471.8h0.9M107.9 464.5h0.9M182.1 466.5h0.9M238.9 467.8h0.9M223.6 482.8h0.9M119.7 486.5h0.9M147.9 429.4h0.9M119.2 495.5h0.9M227.8 391.1h0.9M120.5 450.7h0.9M199.3 479.6h0.9M210.9 497.8h0.9M238.8 402.5h0.9M170.1 454.5h0.9M228.2 482.1h0.9M194.2 471.5h0.9M191.5 454.5h0.9M222.7 469.5h0.9M171.1 478.2h0.9M205.1 460.8h0.9M246.9 446.5h0.9M256.1 472.5h0.9M102.0 478.9h0.9M158.1 474.4h0.9M147.2 466.5h0.9M236.6 423.5h0.9M162.5 378.5h0.9M220.1 439.5h0.9M103.1 486.3h0.9M210.0 483.2h0.9M203.8 433.5h0.9M151.2 474.0h0.9M294.9 501.6h0.9M237.2 500.5h0.9M234.0 452.5h0.9M246.1 448.4h0.9M277.9 453.6h0.9M222.2 490.2h0.9M219.8 500.5h0.9M202.9 466.5h0.9M156.1 454.3h0.9M238.7 446.2h0.9M166.1 474.8h0.9M209.1 471.5h0.9M163.4 493.6h0.9M162.5 457.8h0.9M214.9 430.5h0.9M297.7 498.0h0.9M144.1 388.8h0.9M259.7 479.5h0.9M144.9 504.4h0.9M178.1 384.7h0.9M148.4 455.5h0.9M132.2 424.4h0.9M109.1 493.5h0.9M221.7 484.0h0.9M249.8 472.7h0.9M218.7 474.5h0.9M221.7 474.4h0.9M209.7 458.7h0.9M171.9 448.9h0.9M196.1 439.1h0.9M107.9 501.7h0.9M201.4 472.8h0.9M283.1 436.2h0.9M147.5 459.6h0.9M116.0 498.5h0.9M177.2 492.6h0.9M129.3 488.7h0.9M327.3 448.5h0.9M229.0 497.9h0.9M150.6 480.5h0.9M138.9 464.5h0.9M255.1 490.5h0.9M127.0 469.4h0.9M214.9 464.6h0.9M100.5 440.5h0.9M181.0 468.6h0.9M159.9 482.3h0.9M210.8 449.1h0.9M151.1 498.5h0.9M157.6 493.5h0.9M196.8 416.9h0.9M150.4 489.6h0.9M261.5 467.5h0.9M118.0 498.6h0.9M115.3 449.5h0.9M236.0 466.5h0.9M169.9 460.9h0.9M259.8 484.0h0.9M128.7 490.5h0.9M175.6 489.5h0.9M183.1 425.1h0.9M179.0 458.5h0.9M252.2 487.3h0.9M144.5 458.4h0.9M144.9 478.3h0.9M179.2 472.5h0.9M101.6 503.2h0.9M99.5 454.0h0.9M240.0 448.2h0.9M129.3 457.5h0.9M149.0 492.2h0.9M178.5 486.4h0.9M164.7 453.4h0.9M229.7 450.5h0.9M237.4 458.1h0.9M222.7 457.2h0.9M122.0 508.4h0.9M106.4 496.2h0.9M149.1 472.5h0.9M196.8 461.4h0.9M141.8 467.3h0.9M124.8 466.3h0.9M175.9 451.5h0.9M250.8 481.4h0.9M132.0 495.8h0.9M198.1 493.6h0.9M132.1 397.4h0.9M198.0 473.5h0.9M232.9 490.1h0.9M120.9 448.9h0.9M204.6 468.5h0.9M134.9 500.5h0.9M224.4 466.6h0.9M216.8 479.6h0.9M122.1 406.1h0.9M194.3 484.8h0.9M128.8 473.3h0.9M132.7 484.5h0.9M152.0 457.5h0.9M144.1 484.6h0.9M232.6 456.4h0.9M145.2 482.7h0.9M123.3 487.7h0.9M225.2 458.4h0.9M187.3 463.1h0.9M173.0 457.4h0.9M172.0 471.5h0.9M100.1 486.4h0.9M194.9 482.4h0.9M128.1 462.7h0.9M187.2 461.5h0.9M117.3 461.6h0.9M137.9 449.5h0.9M205.2 479.0h0.9M195.1 478.7h0.9M161.0 495.7h0.9M172.6 478.5h0.9M202.0 477.8h0.9M204.2 443.3h0.9M202.3 500.2h0.9M153.1 471.7h0.9M238.2 480.1h0.9M255.2 454.5h0.9M216.0 411.6h0.9M257.0 470.5h0.9M176.1 464.1h0.9M166.0 405.4h0.9M186.0 478.2h0.9M163.6 483.4h0.9M233.7 494.6h0.9M242.0 502.2h0.9M162.4 365.4h0.9M244.1 484.6h0.9M222.5 455.6h0.9M135.1 387.5h0.9M166.1 443.4h0.9M126.0 459.5h0.9M213.0 478.8h0.9M190.0 402.0h0.9M207.0 487.6h0.9M97.2 461.8h0.9M226.8 440.4h0.9M214.5 471.4h0.9M117.0 475.7h0.9M215.6 456.3h0.9M168.0 467.8h0.9M246.1 417.7h0.9M157.6 468.5h0.9M194.0 441.9h0.9M155.0 471.5h0.9M244.3 513.6h0.9M179.0 464.0h0.9M150.5 472.7h0.9M109.9 469.1h0.9M223.1 452.7h0.9M229.7 415.5h0.9M265.2 438.1h0.9M182.0 481.7h0.9M239.7 476.9h0.9M202.9 479.1h0.9M206.8 423.8h0.9M227.9 470.6h0.9M178.1 401.5h0.9M121.9 412.6h0.9M186.0 464.3h0.9M168.1 497.5h0.9M187.1 429.2h0.9M118.9 484.5h0.9M245.0 464.5h0.9M209.0 472.4h0.9M254.0 502.7h0.9M202.7 471.3h0.9M184.6 479.6h0.9M254.0 462.5h0.9M143.3 455.5h0.9M197.1 460.3h0.9M232.1 506.5h0.9M169.4 457.5h0.9M233.4 470.5h0.9M112.5 470.7h0.9M170.4 448.3h0.9M307.0 402.1h0.9M165.9 502.6h0.9M148.7 462.6h0.9M194.3 512.8h0.9M192.0 471.3h0.9M239.9 450.5h0.9M167.2 459.0h0.9M220.1 496.8h0.9M221.5 444.1h0.9M185.1 477.1h0.9M173.1 448.4h0.9M136.0 437.5h0.9M194.0 510.0h0.9M211.9 466.5h0.9M214.4 446.8h0.9M165.1 456.5h0.9M219.7 487.6h0.9M157.0 449.7h0.9M214.1 462.7h0.9M147.5 490.5h0.9M184.1 441.0h0.9M282.1 432.3h0.9M149.6 475.0h0.9M186.0 494.4h0.9M197.1 501.5h0.9M121.0 423.5h0.9M170.0 448.8h0.9M165.9 498.7h0.9M214.9 464.3h0.9M223.0 439.4h0.9M207.2 466.7h0.9M193.3 401.3h0.9M230.6 470.6h0.9M247.3 483.6h0.9M238.2 482.5h0.9M138.0 506.5h0.9M223.3 457.5h0.9M224.9 479.3h0.9M164.2 464.1h0.9M223.1 404.5h0.9M128.3 487.9h0.9M186.4 438.5h0.9M222.1 470.8h0.9M99.3 478.4h0.9M253.1 454.5h0.9M128.4 498.0h0.9M97.1 474.6h0.9M177.8 468.5h0.9M113.1 479.2h0.9M205.1 480.4h0.9M211.0 425.1h0.9M187.0 485.5h0.9M206.0 420.5h0.9M126.1 476.3h0.9M119.9 415.0h0.9M98.9 453.7h0.9M215.0 510.4h0.9M246.8 497.5h0.9M126.1 504.5h0.9M192.1 494.0h0.9M237.9 479.2h0.9M119.8 469.4h0.9M218.1 497.7h0.9M223.0 469.5h0.9M138.3 472.7h0.9M215.1 447.0h0.9M145.0 445.7h0.9M229.3 497.4h0.9M305.6 461.6h0.9M198.1 507.4h0.9M192.0 486.5h0.9M167.2 476.6h0.9M241.7 424.0h0.9M218.3 455.5h0.9M222.2 458.1h0.9M99.8 422.5h0.9M198.1 465.1h0.9M149.1 452.5h0.9M180.2 388.6h0.9M179.7 466.0h0.9M251.4 423.2h0.9M118.0 423.7h0.9M112.3 345.5h0.9M203.1 490.8h0.9M240.0 471.8h0.9M219.7 476.6h0.9M180.3 479.4h0.9M130.0 481.6h0.9M133.4 461.5h0.9M117.1 496.4h0.9M312.9 437.9h0.9M234.6 457.5h0.9M238.0 475.5h0.9M176.2 482.1h0.9M119.5 465.5h0.9M169.1 481.0h0.9M241.5 482.5h0.9M151.9 481.2h0.9M130.0 453.5h0.9M235.9 407.0h0.9M136.1 467.7h0.9M264.7 469.5h0.9M142.1 496.8h0.9M146.1 492.5h0.9M235.1 465.8h0.9M192.4 451.6h0.9M160.8 488.6h0.9M190.5 444.9h0.9M146.3 462.5h0.9M138.1 456.5h0.9M152.0 490.5h0.9M203.1 494.6h0.9M212.0 503.6h0.9M145.4 478.5h0.9M133.1 492.5h0.9M186.1 506.3h0.9M149.0 488.5h0.9M201.1 458.5h0.9M155.9 466.3h0.9M117.1 438.5h0.9M134.8 445.8h0.9M215.8 475.7h0.9M248.1 481.5h0.9M226.9 482.5h0.9M128.3 449.7h0.9M240.0 487.3h0.9M109.1 444.4h0.9M221.0 483.6h0.9M196.5 495.5h0.9M112.0 464.6h0.9M152.4 469.5h0.9M199.0 484.9h0.9M107.0 466.8h0.9M222.3 435.7h0.9M134.1 451.6h0.9M152.1 458.5h0.9M225.1 416.5h0.9M105.6 412.5h0.9M234.8 474.6h0.9M202.8 450.4h0.9M174.1 472.8h0.9M115.9 473.5h0.9M157.0 497.2h0.9M163.0 490.8h0.9M171.7 478.1h0.9M95.0 513.1h0.9M232.7 486.5h0.9M149.5 483.5h0.9M108.1 438.5h0.9M170.1 474.3h0.9M210.2 454.6h0.9M184.9 489.4h0.9M175.0 458.9h0.9M129.8 502.5h0.9M141.0 480.6h0.9M148.1 506.6h0.9M278.6 433.5h0.9M220.5 414.1h0.9M133.1 448.4h0.9M224.0 480.8h0.9M160.6 459.9h0.9M251.8 432.2h0.9M114.3 463.5h0.9M210.1 455.1h0.9M280.2 468.5h0.9M177.9 449.1h0.9M242.7 479.8h0.9M168.7 459.5h0.9M194.0 491.8h0.9M187.6 467.6h0.9M201.0 450.3h0.9M259.0 519.7h0.9M255.0 407.7h0.9M163.1 473.7h0.9M262.3 469.4h0.9M172.4 499.7h0.9M99.9 474.7h0.9M188.1 480.8h0.9" stroke="#000" stroke-width="0.9" fill="none"/>
<path d="M112.09 596.3v-2.6M112.09 344.2v2.6M124.14 596.3v-2.6M124.14 344.2v2.6M132.68 596.3v-2.6M132.68 344.2v2.6M139.31 596.3v-2.6M139.31 344.2v2.6M144.73 596.3v-2.6M144.73 344.2v2.6M149.3 596.3v-2.6M149.3 344.2v2.6M153.27 596.3v-2.6M153.27 344.2v2.6M156.77 596.3v-2.6M156.77 344.2v2.6M159.9 596.3v-5.2M159.9 344.2v5.2M180.49 596.3v-2.6M180.49 344.2v2.6M192.54 596.3v-2.6M192.54 344.2v2.6M201.08 596.3v-2.6M201.08 344.2v2.6M207.71 596.3v-2.6M207.71 344.2v2.6M213.13 596.3v-2.6M213.13 344.2v2.6M217.7 596.3v-2.6M217.7 344.2v2.6M221.67 596.3v-2.6M221.67 344.2v2.6M225.17 596.3v-2.6M225.17 344.2v2.6M228.3 596.3v-5.2M228.3 344.2v5.2M248.89 596.3v-2.6M248.89 344.2v2.6M260.94 596.3v-2.6M260.94 344.2v2.6M269.48 596.3v-2.6M269.48 344.2v2.6M276.11 596.3v-2.6M276.11 344.2v2.6M281.53 596.3v-2.6M281.53 344.2v2.6M286.1 596.3v-2.6M286.1 344.2v2.6M290.07 596.3v-2.6M290.07 344.2v2.6M293.57 596.3v-2.6M293.57 344.2v2.6M296.7 596.3v-5.2M296.7 344.2v5.2M317.29 596.3v-2.6M317.29 344.2v2.6M329.34 596.3v-2.6M329.34 344.2v2.6M337.88 596.3v-2.6M337.88 344.2v2.6M344.51 596.3v-2.6M344.51 344.2v2.6M349.93 596.3v-2.6M349.93 344.2v2.6M354.5 596.3v-2.6M354.5 344.2v2.6M358.47 596.3v-2.6M358.47 344.2v2.6M361.97 596.3v-2.6M361.97 344.2v2.6M365.1 596.3v-5.2M365.1 344.2v5.2M385.69 596.3v-2.6M385.69 344.2v2.6M397.74 596.3v-2.6M397.74 344.2v2.6M91.5 590h3.2M398.5 590h-3.2M91.5 583.69h3.2M398.5 583.69h-3.2M91.5 577.39h3.2M398.5 577.39h-3.2M91.5 571.09h3.2M398.5 571.09h-3.2M91.5 564.79h3.2M398.5 564.79h-3.2M91.5 558.49h3.2M398.5 558.49h-3.2M91.5 552.18h3.2M398.5 552.18h-3.2M91.5 545.88h3.2M398.5 545.88h-3.2M91.5 539.58h3.2M398.5 539.58h-3.2M91.5 533.27h6.2M398.5 533.27h-6.2M91.5 526.97h3.2M398.5 526.97h-3.2M91.5 520.67h3.2M398.5 520.67h-3.2M91.5 514.37h3.2M398.5 514.37h-3.2M91.5 508.06h3.2M398.5 508.06h-3.2M91.5 501.76h3.2M398.5 501.76h-3.2M91.5 495.46h3.2M398.5 495.46h-3.2M91.5 489.16h3.2M398.5 489.16h-3.2M91.5 482.85h3.2M398.5 482.85h-3.2M91.5 476.55h3.2M398.5 476.55h-3.2M91.5 470.25h6.2M398.5 470.25h-6.2M91.5 463.95h3.2M398.5 463.95h-3.2M91.5 457.64h3.2M398.5 457.64h-3.2M91.5 451.34h3.2M398.5 451.34h-3.2M91.5 445.04h3.2M398.5 445.04h-3.2M91.5 438.74h3.2M398.5 438.74h-3.2M91.5 432.44h3.2M398.5 432.44h-3.2M91.5 426.13h3.2M398.5 426.13h-3.2M91.5 419.83h3.2M398.5 419.83h-3.2M91.5 413.53h3.2M398.5 413.53h-3.2M91.5 407.23h6.2M398.5 407.23h-6.2M91.5 400.92h3.2M398.5 400.92h-3.2M91.5 394.62h3.2M398.5 394.62h-3.2M91.5 388.32h3.2M398.5 388.32h-3.2M91.5 382.01h3.2M398.5 382.01h-3.2M91.5 375.71h3.2M398.5 375.71h-3.2M91.5 369.41h3.2M398.5 369.41h-3.2M91.5 363.11h3.2M398.5 363.11h-3.2M91.5 356.81h3.2M398.5 356.81h-3.2M91.5 350.5h3.2M398.5 350.5h-3.2" stroke="#000" stroke-width="0.7" fill="none"/>
<path d="M112.4 458.9L144.5 462.2L177.6 463.1L210.9 460.8L244.3 459.8L275.5 452.5L312.4 428.5L343 409.2" stroke="#ff0000" stroke-width="2.5" fill="none" stroke-linecap="round" stroke-linejoin="round" stroke-dasharray="0.01 6.59" stroke-dashoffset="1.1"/>
<path d="M112.4 418.3V498.5M144.5 423.2V500.4M177.6 429V499.4M210.9 425.1V494.6M244.3 425.2V495.3M275.5 417.3V487.3M312.4 393.8V465.2M343 378.3V439.2" stroke="#ff0000" stroke-width="2.15" fill="none"/>
<path d="M116.2 502.9L148.7 505.2L181.9 506.4L215.3 502.1L248.7 503.3L279.8 497.5L317 485.8L347.5 470.1" stroke="#ff0000" stroke-width="2.3" fill="none" stroke-linejoin="round"/>
<path d="M116.2 471.4V533.7M148.7 474.3V537M181.9 478.2V536M215.3 473.9V530.6M248.7 474.8V532.6M279.8 472.8V523.4M317 460.3V509.5M347.5 460.3V478.6" stroke="#ff0000" stroke-width="2.15" fill="none"/>
<path d="M112.4 528.3L144.5 529.2L177.6 529.2L210.9 525.4L244.3 525.4L275.5 518.8L312.4 504.7L343 485.4" stroke="#0000ff" stroke-width="2.3" fill="none" stroke-linejoin="round"/>
<path d="M112.4 508.1V548.5M144.5 508.5V549.9M177.6 508.9V549.5M210.9 505.2V545.6M244.3 503.1V547.7M275.5 497.9V541.4M312.4 481.5V527.8M343 473.5V496.6" stroke="#0000ff" stroke-width="2.15" fill="none"/>
<path d="M107.5 494.6L139.8 494.6L172.8 494.2L206.4 492.7L239.8 491L271.1 483.4L308 471.5L338.3 456" stroke="#0000ff" stroke-width="2.5" fill="none" stroke-linecap="round" stroke-linejoin="round" stroke-dasharray="0.01 6.59" stroke-dashoffset="1.1"/>
<path d="M107.5 478.2V511.6M139.8 477.2V511.6M172.8 477.6V511.6M206.4 474.3V509.1M239.8 473.6V510M271.1 465.1V506.6M308 452.4V491.7M338.3 435.7V475.2" stroke="#0000ff" stroke-width="2.15" fill="none"/>
<path d="M112.4 561.1L144.5 561.1L177.6 561.1L210.9 560.1L244.3 561.7L275.5 561.2L312.4 561.2L343 563" stroke="#000000" stroke-width="2.3" fill="none" stroke-linejoin="round"/>
<path d="M112.4 557.6V564.6M144.5 557.6V564.6M177.6 557.6V564.6M210.9 556.6V563.6M244.3 558.2V565.2M275.5 557.7V564.7M312.4 557.7V564.7M343 559.5V566.5" stroke="#000000" stroke-width="2.15" fill="none"/>
<path d="M112.4 512L144.5 512L177.6 512L210.9 512L244.3 512.5L275.5 513L312.4 513.4L343 514.3" stroke="#000000" stroke-width="2.5" fill="none" stroke-linecap="round" stroke-linejoin="round" stroke-dasharray="0.01 6.59" stroke-dashoffset="1.1"/>
<path d="M112.4 506.2V517.8M144.5 506V517.6M177.6 506V517.6M210.9 506V517.6M244.3 506.5V517.5M275.5 506.6V516.3M312.4 509V517.2M343 511.4V517.6" stroke="#000000" stroke-width="2.15" fill="none"/>
<rect x="91.5" y="344.2" width="307" height="252.1" fill="none" stroke="#000" stroke-width="0.85"/>
<text x="85.5" y="596" text-anchor="end">0</text>
<text x="85.5" y="539.88" text-anchor="end">100</text>
<text x="85.5" y="476.85" text-anchor="end">200</text>
<text x="85.5" y="413.83" text-anchor="end">300</text>
<text x="85.5" y="355.6" text-anchor="end">400</text>
<text x="91.5" y="620.8" text-anchor="middle">0.0001</text>
<text x="159.9" y="620.8" text-anchor="middle">0.0010</text>
<text x="228.3" y="620.8" text-anchor="middle">0.0100</text>
<text x="296.7" y="620.8" text-anchor="middle">0.1000</text>
<text x="365.1" y="620.8" text-anchor="middle">1.0000</text>
<text x="244.5" y="642.8" text-anchor="middle">X-ray flux (J m<tspan font-size="12.338px" dy="-9.5">-2</tspan><tspan dy="9.5">)</tspan></text>
<text transform="translate(37.2 470.25) rotate(-90)" text-anchor="middle" xml:space="preserve" style="font-size:20.2px"><tspan dy="0">|V| indices (m s</tspan><tspan font-size="12.524px" dy="-9.6">-1</tspan><tspan dy="9.6">)</tspan></text>
</g>
<g>
<path d="M568.8 446.2h0.9M584.8 519.2h0.9M585.0 445.4h0.9M662.2 412.3h0.9M655.0 518.5h0.9M518.0 430.1h0.9M578.8 487.0h0.9M651.0 500.2h0.9M623.4 517.3h0.9M636.7 478.7h0.9M623.1 457.0h0.9M565.5 456.4h0.9M545.4 448.3h0.9M573.6 500.8h0.9M627.0 515.7h0.9M604.0 460.5h0.9M584.3 447.7h0.9M627.7 497.9h0.9M583.2 510.7h0.9M541.1 467.5h0.9M610.9 486.9h0.9M588.7 485.4h0.9M539.0 520.8h0.9M697.5 424.7h0.9M566.9 473.5h0.9M641.9 489.9h0.9M600.0 483.6h0.9M642.0 463.5h0.9M579.7 509.5h0.9M644.1 536.6h0.9M622.1 448.5h0.9M534.0 491.4h0.9M616.2 511.5h0.9M544.0 465.1h0.9M511.1 453.5h0.9M605.5 434.5h0.9M612.8 478.2h0.9M587.3 509.8h0.9M607.4 502.5h0.9M566.4 491.8h0.9M515.2 471.5h0.9M514.0 486.4h0.9M606.1 472.8h0.9M603.3 503.5h0.9M658.0 471.5h0.9M625.3 516.5h0.9M596.0 494.6h0.9M556.0 460.2h0.9M588.2 526.7h0.9M554.3 509.0h0.9M629.0 462.4h0.9M662.8 479.5h0.9M591.0 477.4h0.9M572.9 496.9h0.9M663.1 505.8h0.9M591.8 529.7h0.9M630.1 484.8h0.9M612.3 459.4h0.9M545.1 513.2h0.9M669.6 510.6h0.9M538.0 475.1h0.9M619.5 472.3h0.9M572.1 489.6h0.9M552.2 485.8h0.9M616.1 426.6h0.9M658.8 471.8h0.9M624.0 506.2h0.9M656.0 466.9h0.9M558.2 458.1h0.9M623.3 457.2h0.9M569.2 528.7h0.9M588.2 462.5h0.9M564.6 478.7h0.9M674.1 515.3h0.9M706.0 471.3h0.9M540.2 507.5h0.9M569.2 491.7h0.9M617.9 493.4h0.9M603.4 513.6h0.9M558.9 493.6h0.9M591.0 500.6h0.9M635.0 494.7h0.9M583.6 458.4h0.9M578.8 505.9h0.9M587.4 469.9h0.9M544.9 387.9h0.9M564.4 523.4h0.9M638.9 517.7h0.9M668.9 488.5h0.9M564.0 497.5h0.9M631.0 472.5h0.9M613.9 509.5h0.9M614.1 432.5h0.9M529.0 478.5h0.9M642.0 438.7h0.9M540.0 464.4h0.9M582.3 454.5h0.9M682.1 444.5h0.9M585.8 487.5h0.9M513.1 495.5h0.9M548.1 489.5h0.9M584.2 435.5h0.9M664.6 443.5h0.9M684.1 517.3h0.9M648.9 486.6h0.9M570.4 481.4h0.9M620.0 477.4h0.9M612.1 504.5h0.9M599.9 505.5h0.9M579.5 476.0h0.9M628.0 461.2h0.9M613.5 462.6h0.9M623.2 496.5h0.9M587.2 542.5h0.9M650.9 433.6h0.9M543.4 486.5h0.9M602.7 488.8h0.9M529.0 492.5h0.9M658.3 475.9h0.9M641.0 432.4h0.9M549.2 512.4h0.9M541.0 496.3h0.9M584.6 455.2h0.9M594.3 457.5h0.9M641.5 506.5h0.9M681.1 548.2h0.9M568.1 459.3h0.9M603.6 493.6h0.9M584.0 402.4h0.9M571.9 474.4h0.9M585.2 446.5h0.9M612.1 444.4h0.9M608.6 523.8h0.9M619.1 448.7h0.9M630.1 490.5h0.9M535.7 463.1h0.9M592.3 501.5h0.9M573.0 452.0h0.9M615.0 468.6h0.9M602.1 520.9h0.9M605.0 513.5h0.9M589.0 491.5h0.9M580.9 490.5h0.9M555.2 479.4h0.9M566.0 490.3h0.9M553.0 484.2h0.9M626.0 484.3h0.9M567.9 497.0h0.9M627.1 477.7h0.9M590.1 531.5h0.9M577.9 490.7h0.9M632.6 471.3h0.9M617.3 477.3h0.9M646.1 464.1h0.9M551.0 445.6h0.9M566.9 481.4h0.9M574.0 523.2h0.9M613.1 501.9h0.9M590.0 520.3h0.9M579.0 481.5h0.9M606.3 498.4h0.9M512.2 519.5h0.9M620.1 488.2h0.9M598.1 495.5h0.9M565.0 500.4h0.9M551.1 502.0h0.9M509.0 498.4h0.9M592.1 476.0h0.9M603.3 475.9h0.9M621.1 478.1h0.9M560.6 520.5h0.9M683.0 458.5h0.9M628.0 522.5h0.9M525.6 471.9h0.9M599.3 486.8h0.9M635.0 470.6h0.9M637.0 484.5h0.9M575.2 476.5h0.9M612.0 482.3h0.9M635.0 541.2h0.9M618.6 477.6h0.9M546.0 482.5h0.9M584.1 499.5h0.9M621.5 505.8h0.9M610.0 484.5h0.9M622.1 456.4h0.9M535.1 482.4h0.9M578.2 483.5h0.9M549.0 470.9h0.9M598.2 503.6h0.9M548.1 528.7h0.9M572.4 507.5h0.9M631.8 519.3h0.9M678.4 510.8h0.9M596.1 522.0h0.9M548.1 533.3h0.9M531.0 512.2h0.9M684.6 498.3h0.9M598.0 520.1h0.9M601.0 512.9h0.9M597.1 497.6h0.9M537.0 490.4h0.9M675.1 425.5h0.9M712.0 496.7h0.9M663.7 472.6h0.9M569.6 487.5h0.9M545.1 469.5h0.9M666.7 475.0h0.9M613.1 476.9h0.9M666.5 511.7h0.9M636.3 526.8h0.9M615.2 433.5h0.9M541.7 492.5h0.9M535.3 501.5h0.9M603.2 459.9h0.9M563.0 463.5h0.9M537.6 519.6h0.9M557.0 449.6h0.9M546.1 431.6h0.9M626.3 492.8h0.9M592.0 497.5h0.9M543.0 479.5h0.9M612.2 486.5h0.9M613.2 484.5h0.9M627.1 427.0h0.9M640.9 414.4h0.9M545.0 477.3h0.9M524.7 436.5h0.9M632.1 464.4h0.9M564.0 503.4h0.9M541.0 448.5h0.9M605.3 510.1h0.9M589.8 487.0h0.9M537.0 507.6h0.9M549.0 491.3h0.9M608.4 419.5h0.9M650.2 500.9h0.9M584.1 516.6h0.9M664.7 488.5h0.9M598.3 519.5h0.9M581.2 465.1h0.9M719.0 466.5h0.9M655.8 489.8h0.9M665.1 515.1h0.9M556.1 506.6h0.9M665.9 485.9h0.9M552.2 494.0h0.9M645.3 490.6h0.9M542.1 465.5h0.9M611.0 491.5h0.9M569.9 467.2h0.9M627.0 497.3h0.9M547.6 510.3h0.9M609.9 510.4h0.9M653.6 460.8h0.9M512.9 518.8h0.9M658.6 506.5h0.9M645.9 452.5h0.9M532.1 429.8h0.9M534.0 480.5h0.9M606.1 531.5h0.9M627.0 508.2h0.9M644.1 465.6h0.9M680.0 486.5h0.9M584.3 470.3h0.9M600.1 478.6h0.9M604.2 513.1h0.9M636.0 503.8h0.9M555.0 489.5h0.9M660.2 500.7h0.9M578.2 428.6h0.9M569.2 483.4h0.9M621.0 486.4h0.9M641.9 408.9h0.9M607.0 486.7h0.9M571.9 475.6h0.9M547.3 504.5h0.9M521.2 456.2h0.9M529.3 543.5h0.9M611.2 507.6h0.9M576.1 519.6h0.9M607.1 509.9h0.9M525.0 453.3h0.9M625.0 443.7h0.9M584.4 519.8h0.9M690.9 493.3h0.9M607.0 457.5h0.9M592.3 472.8h0.9M545.0 487.3h0.9M578.2 426.5h0.9M638.1 390.5h0.9M545.9 481.3h0.9M603.1 510.1h0.9M547.8 442.6h0.9M523.4 429.1h0.9M607.1 492.5h0.9M622.0 511.1h0.9M559.4 472.4h0.9M656.7 465.5h0.9M504.0 398.5h0.9M586.9 480.2h0.9M564.8 427.9h0.9M542.7 459.2h0.9M633.6 506.1h0.9M622.1 481.8h0.9M568.8 480.7h0.9M601.0 471.3h0.9M632.1 402.5h0.9M589.5 447.6h0.9M612.1 516.7h0.9M538.0 493.6h0.9M539.9 501.5h0.9M622.0 468.2h0.9M656.1 501.5h0.9M612.3 464.9h0.9M530.0 502.7h0.9M552.1 466.6h0.9M756.1 435.7h0.9M655.0 481.5h0.9M581.6 474.3h0.9M674.1 501.8h0.9M625.2 478.5h0.9M560.2 482.8h0.9M559.3 520.2h0.9M663.2 452.6h0.9M526.2 497.5h0.9M544.1 527.0h0.9M641.9 447.4h0.9M541.0 508.8h0.9M555.2 490.1h0.9M633.6 469.0h0.9M518.6 508.5h0.9M601.5 436.6h0.9M650.9 483.8h0.9M655.0 483.5h0.9M540.2 519.8h0.9M576.9 478.8h0.9M570.5 509.5h0.9M522.3 496.6h0.9M553.2 498.6h0.9M646.0 521.6h0.9M569.0 506.7h0.9M671.8 447.5h0.9M523.9 439.5h0.9M675.7 416.1h0.9M631.0 506.1h0.9M651.1 476.0h0.9M607.4 432.8h0.9M611.0 489.0h0.9M625.2 518.7h0.9M660.2 440.9h0.9M685.7 507.5h0.9M577.1 528.5h0.9M522.1 482.5h0.9M580.6 466.7h0.9M566.6 449.1h0.9M595.8 500.5h0.9M586.0 526.5h0.9M574.9 525.3h0.9M613.3 476.5h0.9M610.1 453.6h0.9M654.0 467.5h0.9M541.0 482.9h0.9M551.7 459.5h0.9M514.7 513.0h0.9M595.1 513.5h0.9M621.1 479.5h0.9M552.0 513.3h0.9M627.1 500.4h0.9M588.1 421.5h0.9M567.9 482.5h0.9M521.1 493.5h0.9M502.9 430.5h0.9M574.2 498.5h0.9M670.5 448.4h0.9M639.5 466.8h0.9M535.9 481.3h0.9M545.4 473.2h0.9M546.7 505.9h0.9M517.2 498.4h0.9M510.0 507.5h0.9M509.0 485.5h0.9M553.1 461.3h0.9M621.3 482.5h0.9M631.0 486.5h0.9M602.1 499.3h0.9M639.1 495.5h0.9M556.0 429.4h0.9M628.1 465.5h0.9M615.0 473.5h0.9M648.1 500.3h0.9M560.1 500.0h0.9M528.0 530.7h0.9M585.9 516.0h0.9M589.4 441.2h0.9M562.1 507.5h0.9M550.0 420.1h0.9M566.4 474.5h0.9M675.7 497.9h0.9M549.6 468.5h0.9M541.0 463.2h0.9M623.0 486.3h0.9M629.6 483.5h0.9M524.8 471.6h0.9M623.1 467.4h0.9M554.2 466.4h0.9M636.1 465.9h0.9M576.9 512.6h0.9M613.0 454.5h0.9M553.4 537.5h0.9M509.1 403.1h0.9M606.2 503.3h0.9M556.9 521.8h0.9M603.1 479.7h0.9M539.3 450.0h0.9M553.0 514.5h0.9M532.0 479.8h0.9M635.0 519.6h0.9M635.0 484.7h0.9M511.4 448.4h0.9M616.7 417.5h0.9M519.0 495.4h0.9M583.1 489.5h0.9M585.5 512.7h0.9M588.1 458.8h0.9M577.8 455.5h0.9M658.2 458.0h0.9M556.0 492.2h0.9M582.9 499.5h0.9M596.2 426.1h0.9M586.0 393.3h0.9M613.3 445.0h0.9M632.2 505.5h0.9M531.1 518.5h0.9M598.0 501.0h0.9M559.7 437.0h0.9M635.3 453.8h0.9M644.3 524.7h0.9M611.1 508.1h0.9M518.0 500.3h0.9M541.7 523.7h0.9M550.4 494.1h0.9M661.1 443.1h0.9M635.7 491.6h0.9M595.9 406.3h0.9M521.4 506.5h0.9M512.0 477.7h0.9M544.8 512.5h0.9M532.8 454.8h0.9M546.0 526.8h0.9M639.4 448.9h0.9M585.0 504.2h0.9M577.0 505.5h0.9M560.2 472.5h0.9M614.7 465.5h0.9M669.4 436.4h0.9M536.7 522.3h0.9M633.5 495.3h0.9M613.1 499.3h0.9M551.5 510.4h0.9M649.0 419.8h0.9M556.5 486.5h0.9M597.8 478.3h0.9M630.1 512.6h0.9M725.0 489.5h0.9M610.7 498.6h0.9M560.1 509.5h0.9M534.6 484.0h0.9M648.1 507.0h0.9M642.5 502.0h0.9M597.1 493.5h0.9M556.2 534.5h0.9M573.4 499.5h0.9M635.3 502.0h0.9M615.1 502.5h0.9M667.2 460.5h0.9M623.0 478.7h0.9M595.3 523.9h0.9M562.0 504.4h0.9M523.1 482.7h0.9M577.8 477.8h0.9M599.8 505.0h0.9M599.1 514.3h0.9M567.1 416.6h0.9M605.1 490.2h0.9M626.9 468.8h0.9M605.0 452.6h0.9M694.4 438.4h0.9M597.7 436.4h0.9M502.6 482.4h0.9M604.0 490.5h0.9M567.0 486.0h0.9M539.1 535.3h0.9M549.7 457.4h0.9M607.0 480.5h0.9M579.4 497.2h0.9M580.1 480.3h0.9M626.1 477.5h0.9M622.8 459.0h0.9M541.5 473.4h0.9M610.8 513.5h0.9M599.8 513.4h0.9M542.0 496.7h0.9M533.2 473.8h0.9M647.2 486.8h0.9M610.2 506.9h0.9M613.6 490.5h0.9M614.1 441.6h0.9M630.7 477.5h0.9M608.1 483.4h0.9M588.4 487.8h0.9M686.8 492.0h0.9M619.0 509.1h0.9M692.1 483.6h0.9M611.9 500.5h0.9M552.0 464.4h0.9M620.8 495.9h0.9M582.1 440.5h0.9M624.0 472.1h0.9M649.7 485.9h0.9M656.8 470.5h0.9M592.0 487.8h0.9M634.1 477.5h0.9M673.4 490.1h0.9M601.7 462.5h0.9M573.6 505.2h0.9M608.1 479.4h0.9M578.0 509.5h0.9M654.5 464.5h0.9M561.6 464.8h0.9M563.0 442.8h0.9M544.1 508.7h0.9M569.1 502.0h0.9M547.0 442.2h0.9M595.7 486.8h0.9M565.4 467.6h0.9M580.9 418.5h0.9M576.8 436.3h0.9M620.0 449.3h0.9M544.9 526.1h0.9M622.2 462.5h0.9M570.2 469.1h0.9M559.1 495.0h0.9M668.1 513.5h0.9M523.0 487.3h0.9M619.7 438.4h0.9M686.1 482.0h0.9M562.8 466.0h0.9M566.7 521.8h0.9M648.8 472.1h0.9M611.0 478.5h0.9M662.0 528.5h0.9M554.1 463.8h0.9M643.9 475.3h0.9M617.1 493.7h0.9M626.1 418.7h0.9M670.3 481.7h0.9M519.0 527.6h0.9M533.1 502.5h0.9M571.1 534.2h0.9M556.8 516.1h0.9M608.3 467.9h0.9M585.2 515.7h0.9M553.1 476.6h0.9M592.9 499.0h0.9M542.1 504.4h0.9M628.4 485.6h0.9M517.7 507.2h0.9M657.5 435.3h0.9M528.9 490.4h0.9M676.1 452.5h0.9M697.3 443.6h0.9M559.2 490.0h0.9M514.5 490.6h0.9M636.1 506.0h0.9M651.0 483.3h0.9M598.9 473.5h0.9M736.9 407.6h0.9M573.8 436.8h0.9M587.3 475.5h0.9M559.6 494.3h0.9M535.1 498.7h0.9M684.6 473.5h0.9M579.9 515.9h0.9M611.2 530.8h0.9M555.3 521.6h0.9M634.0 490.6h0.9M712.7 439.5h0.9M536.0 519.4h0.9M553.3 520.6h0.9M602.0 490.7h0.9M543.5 449.0h0.9M563.9 483.8h0.9M629.1 431.8h0.9M620.7 422.5h0.9M548.1 467.6h0.9M631.0 423.6h0.9M536.1 458.4h0.9M523.2 462.5h0.9M620.0 452.2h0.9M565.7 481.5h0.9M558.1 519.4h0.9M595.0 514.5h0.9M573.0 522.5h0.9M587.1 458.0h0.9M574.7 504.0h0.9M689.0 486.8h0.9M667.9 485.3h0.9M659.1 453.0h0.9M554.9 534.6h0.9M603.9 413.0h0.9M763.8 429.7h0.9M560.0 504.3h0.9M609.1 519.6h0.9M639.1 444.2h0.9M612.0 479.4h0.9M650.3 467.7h0.9M653.2 496.8h0.9M633.2 450.5h0.9M616.4 428.0h0.9M614.0 511.6h0.9M547.8 454.4h0.9M518.5 482.6h0.9M554.5 475.5h0.9M668.1 464.5h0.9M512.0 502.4h0.9M583.8 527.5h0.9M647.3 509.5h0.9M544.0 509.8h0.9M593.1 515.5h0.9M644.6 476.6h0.9M642.2 509.1h0.9M612.0 519.3h0.9M590.9 501.0h0.9M610.0 502.4h0.9M559.3 515.4h0.9M569.1 516.5h0.9M618.3 486.8h0.9M576.7 521.5h0.9M551.3 507.4h0.9M636.0 503.5h0.9M525.8 512.6h0.9M568.9 524.7h0.9M639.4 513.4h0.9M579.4 442.4h0.9M608.0 493.4h0.9M550.3 458.5h0.9M536.2 510.7h0.9M578.5 519.2h0.9M587.4 529.5h0.9M611.4 462.9h0.9M558.3 472.8h0.9M568.2 445.6h0.9M606.0 521.6h0.9M612.3 462.9h0.9M572.6 493.9h0.9M619.4 471.2h0.9M523.7 465.6h0.9M614.2 458.0h0.9M577.8 488.4h0.9M661.5 437.7h0.9M664.0 472.7h0.9M616.0 535.2h0.9M608.2 345.5h0.9M633.0 519.4h0.9M625.7 457.0h0.9M602.9 401.3h0.9M566.9 523.9h0.9M536.0 455.8h0.9M645.9 474.0h0.9M601.1 470.5h0.9M638.2 477.5h0.9M586.8 430.5h0.9M620.1 453.8h0.9M656.7 461.5h0.9M511.1 510.8h0.9M630.8 473.4h0.9M768.1 434.8h0.9M603.3 404.5h0.9M605.3 496.6h0.9M591.2 489.8h0.9M644.9 511.3h0.9M648.3 441.1h0.9M684.0 457.6h0.9M675.1 452.8h0.9M650.2 476.3h0.9M594.0 456.4h0.9M658.7 480.6h0.9M555.5 492.1h0.9M555.3 483.2h0.9M600.1 518.6h0.9M608.7 492.7h0.9M514.7 456.5h0.9M650.4 461.4h0.9M598.0 484.6h0.9M591.9 516.6h0.9M578.0 430.3h0.9M642.1 495.1h0.9M588.1 500.6h0.9M574.5 466.3h0.9M614.1 492.3h0.9M599.4 451.5h0.9M559.0 466.5h0.9M566.0 486.1h0.9M649.8 422.5h0.9M605.2 482.4h0.9M623.1 473.5h0.9M529.2 504.3h0.9M583.8 503.2h0.9M612.1 497.7h0.9M561.0 504.5h0.9M609.0 529.4h0.9M679.1 492.5h0.9M651.6 478.0h0.9M689.6 484.9h0.9M626.6 493.6h0.9M565.3 513.3h0.9M597.0 514.5h0.9M613.2 504.5h0.9M538.0 493.5h0.9M614.9 497.5h0.9M624.1 488.2h0.9M599.4 512.9h0.9M553.1 414.6h0.9M619.6 507.8h0.9M526.6 486.9h0.9M625.0 464.7h0.9M577.8 476.3h0.9M589.8 464.5h0.9M649.0 413.6h0.9M624.2 477.5h0.9M590.1 447.4h0.9M644.2 450.9h0.9M605.2 471.5h0.9M622.1 491.4h0.9M614.3 499.3h0.9M630.5 449.8h0.9M645.9 516.5h0.9M604.9 519.6h0.9M620.7 435.5h0.9M528.5 468.0h0.9M514.1 420.6h0.9M613.1 486.7h0.9M596.0 430.9h0.9M521.2 457.6h0.9M657.2 547.2h0.9M595.8 506.6h0.9M594.3 473.5h0.9M582.1 419.8h0.9M543.1 474.5h0.9M647.2 489.9h0.9M561.0 429.9h0.9M631.0 505.1h0.9M652.9 436.4h0.9M567.1 505.4h0.9M639.1 510.5h0.9M615.0 430.7h0.9M655.0 460.7h0.9M587.1 458.1h0.9M515.1 496.5h0.9M624.1 520.5h0.9M590.0 470.5h0.9M649.5 490.4h0.9M664.5 510.3h0.9M584.8 479.1h0.9M609.7 473.5h0.9M656.9 475.4h0.9M509.5 522.4h0.9M508.5 509.5h0.9M663.7 499.8h0.9M633.1 449.4h0.9M630.0 503.3h0.9M533.1 460.5h0.9M563.9 434.5h0.9M654.1 471.9h0.9M526.7 497.5h0.9M615.1 420.3h0.9M602.5 433.9h0.9M622.4 514.5h0.9M671.0 471.7h0.9M572.0 448.4h0.9M618.1 534.4h0.9M520.0 530.4h0.9M615.4 415.0h0.9M545.0 431.3h0.9M596.1 475.9h0.9M609.5 452.4h0.9M638.1 477.5h0.9M622.2 474.5h0.9M562.1 510.6h0.9M547.5 490.5h0.9M616.8 495.3h0.9M572.0 500.0h0.9M516.1 483.5h0.9M667.0 495.1h0.9M576.3 510.4h0.9M564.4 518.3h0.9M558.7 503.4h0.9M618.1 383.5h0.9M619.7 520.5h0.9M596.4 473.3h0.9M589.6 502.3h0.9M575.3 438.4h0.9M642.0 514.2h0.9M555.2 512.6h0.9M657.7 476.7h0.9M640.1 453.5h0.9M631.8 519.5h0.9M547.2 427.5h0.9M597.0 506.4h0.9M663.9 524.5h0.9M587.9 455.5h0.9M602.1 461.4h0.9M679.4 505.4h0.9M578.7 511.5h0.9M634.7 484.5h0.9M612.7 442.5h0.9M715.8 445.2h0.9M608.2 440.4h0.9M552.1 510.9h0.9M672.8 463.5h0.9M555.0 500.0h0.9M612.0 440.1h0.9M638.6 510.5h0.9M627.9 428.9h0.9M609.2 502.4h0.9M627.6 439.6h0.9M580.3 503.5h0.9M675.0 455.3h0.9M614.1 476.3h0.9M577.0 488.5h0.9M605.9 496.2h0.9M671.5 514.5h0.9M630.1 489.5h0.9M623.7 463.5h0.9M561.3 527.4h0.9M566.0 463.3h0.9M620.4 470.9h0.9M630.8 499.5h0.9M643.1 486.3h0.9M559.3 488.5h0.9M654.0 517.7h0.9M534.4 529.4h0.9M683.1 474.4h0.9M559.6 486.9h0.9M568.4 456.8h0.9M657.1 479.4h0.9M513.5 450.4h0.9M624.9 473.4h0.9M675.1 457.5h0.9M658.9 428.4h0.9M533.1 482.5h0.9M630.8 489.9h0.9M607.0 493.1h0.9M605.3 496.2h0.9M572.8 428.6h0.9M578.7 443.5h0.9M560.4 517.7h0.9M546.2 483.2h0.9M638.3 467.5h0.9M656.3 474.5h0.9M553.0 412.5h0.9M526.1 512.4h0.9M681.0 462.2h0.9M686.2 454.5h0.9M572.1 464.4h0.9M589.8 518.7h0.9M554.1 494.7h0.9M647.0 507.6h0.9M559.3 518.1h0.9M549.1 495.3h0.9M545.1 515.5h0.9M658.8 447.2h0.9M587.1 418.6h0.9M645.5 453.0h0.9M612.7 476.4h0.9M585.8 490.2h0.9M537.0 471.1h0.9M636.7 498.5h0.9M555.0 512.5h0.9M613.1 517.3h0.9M519.0 450.7h0.9M552.1 449.5h0.9M616.1 455.0h0.9M770.0 432.3h0.9M715.0 480.5h0.9M624.1 447.6h0.9M679.5 433.5h0.9M522.8 452.5h0.9M632.6 471.6h0.9M651.7 459.8h0.9M643.1 490.3h0.9M514.8 403.6h0.9M601.4 491.5h0.9M641.9 485.4h0.9M603.4 532.1h0.9M608.1 487.2h0.9M649.6 441.5h0.9M603.1 495.5h0.9M656.0 520.1h0.9M508.9 479.9h0.9M624.6 497.4h0.9M525.1 499.5h0.9M559.8 486.2h0.9M614.8 495.6h0.9M535.8 420.6h0.9M611.1 447.4h0.9M533.7 460.5h0.9M507.4 511.8h0.9M611.7 480.5h0.9M636.3 492.4h0.9M622.3 444.6h0.9M648.1 459.4h0.9M651.2 431.1h0.9M541.5 485.6h0.9M668.8 448.0h0.9M584.6 501.3h0.9M629.3 508.5h0.9M523.2 452.6h0.9M595.0 502.5h0.9M560.8 488.4h0.9M675.2 481.4h0.9M603.7 523.5h0.9M530.1 501.5h0.9M530.1 512.5h0.9M542.9 465.5h0.9M533.5 487.5h0.9M654.1 483.4h0.9M524.3 486.4h0.9M608.0 422.5h0.9M592.0 497.5h0.9M634.9 415.6h0.9M532.0 494.0h0.9M641.0 419.3h0.9M611.1 516.4h0.9M638.3 480.3h0.9M545.7 459.0h0.9M521.9 440.8h0.9M643.2 517.0h0.9M582.0 435.6h0.9M587.6 502.4h0.9M579.0 500.8h0.9M546.5 513.6h0.9M536.6 457.4h0.9M589.0 403.4h0.9M590.0 516.7h0.9M594.8 498.4h0.9M660.0 502.8h0.9M594.2 474.5h0.9M703.1 458.5h0.9M582.7 511.6h0.9M637.6 470.7h0.9M551.1 456.9h0.9M554.9 480.4h0.9M608.3 474.8h0.9M586.1 461.3h0.9M629.8 468.4h0.9M606.3 519.4h0.9M544.0 462.4h0.9M647.0 502.5h0.9M642.7 499.7h0.9M616.9 492.5h0.9M567.2 526.0h0.9M543.9 505.2h0.9M608.1 446.5h0.9M583.1 470.6h0.9M642.9 502.5h0.9M608.5 449.6h0.9M529.0 519.3h0.9M576.7 473.5h0.9M588.3 504.3h0.9M522.3 501.5h0.9M557.1 518.5h0.9M587.7 504.6h0.9M585.1 505.7h0.9M577.2 509.4h0.9M613.1 459.0h0.9M562.8 519.7h0.9M569.4 495.5h0.9M665.0 501.2h0.9M543.7 531.5h0.9M537.5 437.5h0.9M637.2 424.3h0.9M577.3 503.9h0.9M613.6 433.5h0.9M531.2 422.6h0.9M559.8 506.4h0.9M537.3 507.3h0.9M674.4 494.9h0.9M665.0 439.7h0.9M578.3 502.4h0.9M628.9 486.5h0.9M589.9 421.7h0.9M640.1 482.4h0.9M584.0 504.9h0.9M559.0 499.2h0.9M604.9 504.5h0.9M544.7 470.9h0.9M588.1 481.7h0.9M608.1 422.9h0.9M591.1 450.3h0.9M605.1 425.0h0.9M557.9 488.7h0.9M585.1 503.9h0.9M661.2 472.5h0.9M609.1 462.3h0.9M595.6 458.4h0.9M636.7 454.3h0.9M631.1 479.4h0.9M536.1 415.0h0.9M635.1 523.2h0.9M599.3 422.6h0.9M649.8 478.3h0.9M602.1 514.9h0.9M639.4 514.6h0.9M572.9 514.4h0.9M608.8 483.5h0.9M610.9 493.2h0.9M634.4 453.6h0.9M592.1 483.9h0.9M596.2 505.5h0.9M557.1 488.5h0.9M536.8 488.2h0.9M640.0 488.7h0.9M545.9 530.0h0.9M592.9 509.5h0.9M557.2 499.5h0.9M645.8 433.8h0.9M591.7 506.6h0.9M630.1 486.5h0.9M559.8 449.3h0.9M616.2 524.9h0.9M588.1 503.2h0.9M553.0 453.5h0.9M643.0 455.5h0.9M583.5 510.5h0.9M596.0 516.6h0.9M616.1 458.4h0.9M653.4 490.6h0.9M571.1 477.5h0.9M658.0 512.0h0.9M618.1 498.1h0.9M627.0 487.5h0.9M612.6 513.9h0.9M545.0 500.5h0.9M532.1 477.5h0.9M558.7 502.5h0.9M582.3 447.6h0.9M652.0 528.5h0.9M538.3 502.9h0.9M684.1 471.5h0.9M595.4 515.4h0.9M590.9 476.4h0.9M615.3 439.5h0.9M562.0 468.5h0.9M631.9 438.5h0.9M638.5 518.3h0.9M590.4 498.3h0.9M668.1 472.9h0.9M557.6 473.6h0.9M577.9 482.2h0.9M540.1 481.2h0.9M722.9 465.5h0.9M652.0 379.5h0.9M545.1 454.1h0.9M635.8 468.1h0.9M633.9 452.4h0.9M620.6 500.5h0.9M631.0 488.0h0.9M604.6 517.5h0.9M663.0 510.5h0.9M527.3 506.5h0.9M564.3 508.6h0.9M584.0 499.6h0.9M578.0 408.4h0.9M511.8 510.8h0.9M644.2 506.5h0.9M603.1 466.5h0.9M591.0 506.5h0.9M659.0 480.2h0.9M666.3 497.2h0.9M564.1 477.5h0.9M558.1 516.5h0.9M605.1 512.6h0.9M625.0 513.8h0.9M604.0 516.3h0.9M552.9 451.0h0.9M598.9 512.4h0.9M526.5 477.9h0.9M563.9 514.2h0.9M651.1 452.6h0.9M594.1 465.4h0.9M559.0 509.3h0.9M688.0 495.5h0.9M541.7 480.1h0.9M608.1 501.0h0.9M609.8 501.5h0.9M616.6 508.0h0.9M643.3 537.2h0.9M592.0 424.7h0.9M639.0 509.9h0.9M585.8 496.5h0.9M587.4 421.5h0.9M552.0 454.5h0.9M557.4 527.9h0.9M582.1 517.9h0.9M649.0 509.0h0.9M620.3 485.0h0.9M573.3 515.1h0.9M505.7 427.4h0.9M542.8 445.8h0.9M611.1 463.1h0.9M558.3 468.7h0.9M588.2 458.4h0.9M581.7 458.6h0.9M537.0 427.5h0.9M671.7 458.2h0.9M595.2 508.5h0.9M616.1 388.4h0.9M599.8 504.5h0.9M563.2 503.4h0.9M619.3 496.1h0.9M662.2 490.5h0.9M591.0 506.4h0.9M626.6 485.9h0.9M604.0 482.5h0.9M559.0 449.0h0.9M629.1 446.9h0.9M597.2 507.6h0.9M606.5 451.8h0.9M667.2 467.5h0.9M593.0 406.5h0.9M550.1 495.5h0.9M566.3 482.3h0.9M563.6 443.9h0.9M562.0 517.5h0.9M708.0 473.8h0.9M574.1 430.6h0.9M607.7 488.7h0.9M574.3 518.3h0.9M558.9 474.9h0.9M641.4 463.8h0.9M526.1 449.1h0.9M571.1 447.7h0.9M619.8 495.8h0.9M600.9 463.2h0.9M561.3 502.5h0.9M547.2 463.7h0.9M618.8 486.6h0.9M654.0 526.5h0.9M677.0 489.6h0.9M594.9 459.3h0.9M587.0 538.5h0.9M533.0 489.5h0.9M580.9 457.4h0.9M639.2 482.0h0.9M504.8 470.0h0.9M578.6 440.7h0.9M639.0 473.2h0.9M645.8 505.6h0.9M656.4 494.5h0.9M619.5 492.6h0.9M571.7 520.5h0.9M660.1 496.5h0.9M635.3 513.8h0.9M565.6 518.6h0.9M633.6 471.5h0.9M644.0 495.5h0.9M512.8 510.6h0.9M599.3 434.4h0.9M563.0 468.4h0.9M594.9 517.5h0.9M594.1 454.1h0.9M526.4 490.4h0.9M553.0 488.3h0.9M635.4 460.5h0.9M512.9 371.5h0.9M594.2 511.5h0.9M565.0 501.4h0.9M535.0 507.3h0.9M606.5 498.8h0.9M640.5 513.9h0.9M554.9 506.2h0.9M679.2 469.5h0.9M619.0 473.7h0.9M649.0 444.5h0.9M634.2 515.5h0.9M600.9 424.9h0.9M652.1 515.5h0.9M547.1 410.6h0.9M658.3 478.1h0.9M515.8 473.0h0.9M556.1 454.8h0.9M584.0 494.3h0.9M537.3 463.5h0.9M581.9 502.5h0.9M605.2 457.9h0.9M609.8 489.5h0.9M579.1 471.5h0.9M604.0 486.9h0.9M537.6 514.9h0.9M638.1 542.4h0.9M582.9 515.5h0.9M593.8 449.5h0.9M565.8 512.5h0.9M646.1 481.7h0.9M581.1 500.3h0.9M550.0 479.9h0.9M514.4 487.5h0.9M569.0 478.5h0.9M668.1 485.2h0.9M599.2 494.6h0.9M601.9 487.5h0.9M543.7 479.7h0.9M565.6 474.5h0.9M591.5 459.8h0.9M625.0 419.4h0.9M576.3 507.3h0.9M561.0 500.5h0.9M583.0 479.5h0.9M572.9 502.1h0.9M649.1 469.5h0.9M652.8 519.4h0.9M615.7 491.5h0.9M546.0 473.7h0.9M587.0 527.5h0.9M642.3 470.6h0.9M606.3 480.8h0.9M597.8 455.8h0.9M642.0 473.5h0.9M640.1 488.3h0.9M544.0 492.7h0.9M584.4 460.0h0.9M518.0 395.5h0.9M649.2 434.2h0.9M538.3 501.7h0.9M568.3 425.6h0.9M614.6 449.6h0.9M568.0 494.9h0.9M589.5 445.1h0.9M545.6 529.5h0.9M616.1 408.3h0.9M665.9 414.9h0.9M565.8 497.6h0.9M628.2 418.3h0.9M668.0 433.2h0.9M525.9 489.5h0.9M538.0 507.6h0.9M631.0 452.6h0.9M634.8 443.5h0.9M702.9 470.4h0.9M657.0 489.6h0.9M599.0 447.4h0.9M522.2 491.5h0.9M624.9 452.2h0.9M544.9 462.5h0.9M646.1 470.8h0.9M585.7 508.3h0.9M622.2 475.7h0.9M589.8 462.8h0.9M587.2 447.9h0.9M576.0 475.2h0.9M559.0 513.6h0.9M596.4 433.5h0.9M587.9 492.5h0.9M622.0 502.1h0.9M600.5 511.6h0.9M527.3 475.3h0.9M693.9 507.4h0.9M575.6 469.3h0.9M650.2 493.3h0.9M592.2 540.5h0.9M596.4 459.6h0.9M614.4 499.5h0.9M587.8 479.1h0.9M607.7 486.5h0.9M622.9 525.3h0.9M624.6 478.4h0.9M577.3 495.7h0.9M673.8 444.8h0.9M662.6 466.5h0.9M665.0 527.5h0.9M629.3 522.4h0.9M657.4 464.7h0.9M545.2 445.5h0.9M535.6 514.5h0.9M643.8 465.7h0.9M652.8 442.8h0.9M672.0 466.5h0.9M536.0 460.4h0.9M619.4 524.6h0.9M565.1 504.7h0.9M569.6 491.7h0.9M617.4 469.5h0.9M618.0 417.6h0.9M527.1 486.3h0.9M577.1 502.6h0.9M685.2 483.2h0.9M514.0 386.5h0.9M590.1 507.6h0.9M560.0 483.8h0.9M573.2 469.6h0.9M666.2 492.7h0.9M644.3 504.4h0.9M629.7 490.8h0.9M600.1 502.5h0.9M528.6 526.3h0.9M581.1 492.7h0.9M582.0 512.5h0.9M534.8 487.5h0.9M573.1 519.5h0.9M603.6 482.6h0.9M664.0 472.2h0.9M538.8 502.9h0.9M649.0 506.4h0.9M580.3 525.1h0.9M528.8 429.3h0.9M570.4 436.1h0.9M560.8 496.4h0.9M640.9 505.9h0.9M607.1 483.5h0.9M684.1 462.6h0.9M553.8 531.5h0.9M626.0 458.7h0.9M628.3 521.5h0.9M618.4 470.4h0.9M543.1 474.5h0.9M633.9 514.6h0.9M554.2 447.2h0.9M609.4 493.6h0.9M645.2 511.5h0.9M654.3 498.9h0.9M631.1 487.3h0.9M640.1 497.4h0.9M573.9 490.6h0.9M560.3 399.1h0.9M594.2 484.6h0.9M593.5 526.5h0.9M607.7 441.5h0.9M675.0 480.4h0.9M541.1 446.8h0.9M601.7 529.3h0.9M657.1 521.8h0.9M604.0 514.6h0.9M695.2 404.4h0.9M512.6 506.6h0.9M709.6 463.5h0.9M622.9 482.4h0.9M592.1 472.5h0.9M681.0 512.8h0.9M564.1 481.5h0.9M606.6 485.4h0.9M658.0 422.5h0.9M611.2 477.3h0.9M582.9 463.9h0.9M568.7 483.8h0.9M576.5 480.1h0.9M589.1 494.6h0.9M559.0 451.6h0.9M622.0 490.0h0.9M563.1 467.4h0.9M644.1 497.5h0.9M563.3 484.5h0.9M571.0 528.7h0.9M658.8 501.9h0.9M596.3 507.0h0.9M632.6 512.9h0.9M622.9 498.8h0.9M542.0 513.9h0.9M547.2 503.4h0.9M603.8 433.8h0.9M592.1 515.5h0.9M602.1 487.5h0.9M592.2 514.6h0.9M658.2 439.3h0.9M547.1 499.5h0.9M562.0 518.3h0.9M574.1 496.5h0.9M691.1 435.8h0.9M570.3 496.2h0.9M632.5 507.5h0.9M596.0 516.6h0.9M531.0 389.5h0.9M595.7 489.6h0.9M670.4 435.3h0.9M566.1 470.5h0.9M554.6 500.6h0.9M699.2 473.2h0.9M587.0 510.5h0.9M605.1 496.8h0.9M605.9 480.3h0.9M644.1 514.5h0.9M514.1 467.2h0.9M668.8 442.3h0.9M579.3 468.3h0.9M632.3 439.4h0.9M574.0 494.5h0.9M628.1 502.3h0.9M623.0 467.5h0.9M554.2 516.7h0.9M640.1 518.6h0.9M625.4 510.5h0.9M547.1 498.2h0.9M658.0 520.6h0.9M668.6 529.7h0.9M545.1 468.6h0.9M551.3 521.1h0.9M688.1 501.1h0.9M626.0 462.5h0.9M620.7 501.3h0.9M616.0 471.5h0.9M571.2 463.6h0.9M656.0 476.3h0.9M568.4 487.3h0.9M702.9 443.1h0.9M626.0 501.6h0.9M598.0 524.4h0.9M558.6 482.4h0.9M551.0 502.5h0.9M509.2 497.5h0.9M576.0 437.5h0.9M650.0 481.4h0.9M609.9 470.2h0.9M531.9 457.8h0.9M551.3 387.5h0.9M592.5 436.5h0.9M541.1 427.7h0.9M565.0 527.7h0.9M600.2 381.5h0.9M609.0 426.5h0.9M616.1 436.6h0.9M619.1 484.7h0.9M619.1 436.5h0.9M642.1 501.5h0.9M628.2 413.6h0.9M649.5 490.9h0.9M590.9 504.2h0.9M577.5 527.5h0.9M692.4 501.9h0.9M569.3 503.6h0.9M594.1 418.4h0.9M577.1 531.2h0.9M676.1 492.6h0.9M600.1 515.5h0.9M592.0 515.6h0.9M518.1 481.3h0.9M577.0 503.4h0.9M514.9 496.0h0.9M589.1 478.5h0.9M645.9 441.5h0.9M630.6 475.1h0.9M526.7 507.8h0.9M554.9 522.4h0.9M526.2 494.8h0.9M634.8 531.0h0.9M527.5 498.5h0.9M606.3 438.4h0.9M617.9 475.0h0.9M645.8 425.5h0.9M577.1 424.5h0.9M635.2 489.5h0.9M601.2 483.6h0.9M598.5 461.9h0.9M629.7 519.7h0.9M578.1 540.5h0.9M612.1 492.7h0.9M653.9 499.5h0.9M663.1 494.5h0.9M509.0 466.5h0.9M565.1 505.2h0.9M554.2 527.3h0.9M643.6 487.6h0.9M569.5 477.4h0.9M627.1 468.2h0.9M510.1 499.9h0.9M617.0 474.5h0.9M610.8 472.4h0.9M558.2 487.4h0.9M701.9 464.3h0.9M644.2 475.0h0.9M641.0 479.5h0.9M653.1 466.7h0.9M684.9 463.8h0.9M629.2 499.4h0.9M626.8 411.9h0.9M609.9 495.4h0.9M563.1 466.5h0.9M645.7 452.4h0.9M573.1 504.6h0.9M616.1 494.6h0.9M570.4 500.2h0.9M569.5 500.4h0.9M621.9 490.5h0.9M704.7 467.5h0.9M551.1 518.5h0.9M666.7 517.8h0.9M551.9 479.7h0.9M585.1 451.4h0.9M555.4 496.5h0.9M539.2 494.2h0.9M516.1 455.5h0.9M628.7 518.5h0.9M656.8 486.3h0.9M625.7 438.7h0.9M628.7 487.7h0.9M616.7 472.5h0.9M578.9 477.5h0.9M603.1 478.5h0.9M514.9 504.5h0.9M608.4 485.5h0.9M690.1 437.3h0.9M554.5 461.3h0.9M523.0 457.6h0.9M584.2 500.4h0.9M536.3 517.5h0.9M734.3 417.5h0.9M636.0 523.0h0.9M557.6 450.5h0.9M545.9 483.5h0.9M662.1 524.5h0.9M534.0 455.5h0.9M621.9 503.6h0.9M507.5 505.8h0.9M588.0 505.1h0.9M566.9 486.9h0.9M617.8 405.5h0.9M558.1 478.6h0.9M564.6 521.4h0.9M603.8 511.2h0.9M557.4 485.0h0.9M668.5 482.5h0.9M525.0 426.4h0.9M522.3 487.5h0.9M643.0 516.5h0.9M576.9 422.8h0.9M666.8 474.5h0.9M535.7 488.4h0.9M582.6 482.3h0.9M590.1 494.5h0.9M586.0 505.7h0.9M659.2 497.6h0.9M551.5 457.5h0.9M551.9 495.5h0.9M586.2 395.8h0.9M508.6 502.1h0.9M506.5 489.2h0.9M647.0 475.4h0.9M536.3 346.3h0.9M556.0 520.5h0.9M585.5 491.5h0.9M571.7 416.5h0.9M636.7 468.6h0.9M644.4 480.3h0.9M629.7 520.6h0.9M529.0 404.9h0.9M513.4 541.9h0.9M556.1 445.0h0.9M603.8 511.0h0.9M548.8 462.1h0.9M531.8 471.7h0.9M582.9 521.7h0.9M657.8 509.6h0.9M539.0 505.5h0.9M605.1 377.2h0.9M539.1 536.3h0.9M605.0 491.6h0.9M639.9 454.8h0.9M527.9 510.4h0.9M611.6 402.9h0.9M541.9 502.7h0.9M530.1 525.4h0.9M631.4 474.3h0.9M623.8 491.3h0.9M529.1 510.5h0.9M535.8 529.8h0.9M539.7 433.4h0.9M559.0 422.4h0.9M551.1 485.6h0.9M639.6 500.5h0.9M552.2 493.2h0.9M530.3 423.5h0.9M632.2 466.5h0.9M594.3 448.2h0.9M580.0 465.5h0.9M579.0 473.9h0.9M507.1 524.0h0.9M601.9 447.5h0.9M535.1 470.8h0.9M594.2 461.7h0.9M524.3 483.2h0.9M544.9 488.5h0.9M612.2 407.5h0.9M602.1 496.3h0.9M568.0 499.1h0.9M579.6 533.1h0.9M609.0 493.6h0.9M611.2 493.7h0.9M609.3 479.0h0.9M560.1 503.4h0.9M645.2 493.7h0.9M662.2 482.4h0.9M623.0 493.5h0.9M664.0 461.8h0.9M583.1 468.4h0.9M573.0 483.5h0.9M593.0 439.4h0.9M570.6 499.8h0.9M640.7 484.8h0.9M649.0 510.8h0.9M569.4 512.6h0.9M651.1 468.0h0.9M629.5 497.6h0.9M542.1 497.5h0.9M573.1 530.5h0.9M533.0 503.5h0.9M620.0 510.5h0.9M597.0 522.5h0.9M614.0 448.4h0.9M504.2 469.5h0.9M633.8 462.4h0.9M621.5 451.5h0.9M524.0 409.5h0.9M622.6 482.1h0.9M575.0 426.6h0.9M653.1 513.5h0.9M564.6 493.5h0.9M601.0 485.7h0.9M562.0 434.6h0.9M651.3 494.9h0.9M586.0 507.6h0.9M557.5 441.5h0.9M516.9 524.3h0.9M630.1 477.5h0.9M636.7 458.5h0.9M672.2 411.5h0.9M589.0 510.8h0.9M646.7 473.3h0.9M609.9 420.5h0.9M613.8 485.3h0.9M634.9 500.3h0.9M585.1 503.5h0.9M528.9 445.1h0.9M593.0 499.4h0.9M575.1 487.5h0.9M594.1 451.6h0.9M525.9 511.5h0.9M652.0 502.5h0.9M616.0 514.5h0.9M661.0 467.7h0.9M609.7 489.4h0.9M591.6 456.8h0.9M661.0 435.4h0.9M550.3 519.6h0.9M604.1 517.2h0.9M639.1 444.4h0.9M576.4 404.5h0.9M640.4 512.1h0.9M519.5 461.2h0.9M577.4 470.5h0.9M714.0 439.5h0.9M572.9 510.4h0.9M555.7 500.5h0.9M601.3 433.4h0.9M599.0 482.0h0.9M646.9 444.5h0.9M574.2 492.5h0.9M627.1 501.5h0.9M628.5 385.4h0.9M592.1 542.9h0.9M580.1 490.4h0.9M543.0 494.8h0.9M601.0 454.5h0.9M618.9 419.5h0.9M621.4 450.4h0.9M572.1 513.5h0.9M626.7 479.9h0.9M564.0 496.6h0.9M621.1 483.7h0.9M554.5 523.5h0.9M591.1 506.5h0.9M689.1 484.5h0.9M556.6 470.5h0.9M593.0 460.2h0.9M604.1 469.7h0.9M528.0 497.2h0.9M577.0 528.1h0.9M572.9 466.4h0.9M621.9 509.5h0.9M630.0 444.7h0.9M614.2 529.4h0.9M600.3 495.9h0.9M637.6 442.5h0.9M654.3 480.4h0.9M645.2 492.1h0.9M545.0 478.6h0.9M630.3 510.3h0.9M631.9 434.5h0.9M571.2 493.5h0.9M630.1 394.4h0.9M535.3 501.4h0.9M593.4 518.6h0.9M629.1 525.3h0.9M506.3 502.4h0.9M660.1 528.5h0.9M535.4 498.2h0.9M504.1 505.5h0.9M584.8 499.6h0.9M520.1 529.1h0.9M612.1 463.2h0.9M618.0 445.5h0.9M594.0 479.5h0.9M613.0 475.5h0.9M533.1 453.1h0.9M526.9 525.4h0.9M505.9 439.3h0.9M622.0 523.5h0.9M653.8 494.5h0.9M533.1 398.8h0.9M599.1 444.5h0.9M644.9 490.6h0.9M526.8 474.5h0.9M625.1 517.3h0.9M630.0 507.7h0.9M545.3 458.5h0.9M622.1 515.5h0.9M552.0 457.4h0.9M636.3 500.5h0.9M712.6 465.9h0.9M605.1 477.5h0.9M599.0 531.5h0.9M574.2 507.5h0.9M648.7 488.5h0.9M625.3 493.5h0.9M629.2 474.0h0.9M506.8 483.7h0.9M605.1 514.5h0.9M556.1 448.8h0.9M587.2 430.7h0.9M586.7 483.5h0.9M658.4 432.5h0.9M525.0 478.9h0.9M519.3 447.8h0.9M610.1 472.2h0.9M647.0 478.4h0.9M626.7 504.3h0.9M587.3 471.5h0.9M537.0 504.4h0.9M540.4 449.8h0.9M524.1 486.5h0.9M719.9 443.5h0.9M641.6 457.0h0.9M645.0 475.7h0.9M583.2 540.1h0.9M526.5 486.6h0.9M576.1 494.4h0.9M648.5 477.5h0.9M558.9 484.2h0.9M537.0 485.3h0.9M642.9 514.2h0.9M543.1 459.4h0.9M671.7 523.3h0.9M549.1 462.5h0.9M553.1 501.7h0.9M642.1 493.5h0.9M599.4 442.1h0.9M567.8 492.1h0.9M597.5 432.0h0.9M553.3 517.4h0.9M545.1 471.7h0.9M559.0 489.8h0.9M610.1 446.5h0.9M619.0 470.6h0.9M552.4 494.8h0.9M540.1 486.7h0.9M593.1 500.1h0.9M556.0 460.1h0.9M608.1 498.5h0.9M562.9 471.3h0.9M524.1 491.5h0.9M541.8 522.2h0.9M622.8 454.7h0.9M655.1 496.5h0.9M633.9 503.2h0.9M535.3 491.0h0.9M647.0 450.9h0.9M516.1 494.1h0.9M628.0 495.0h0.9M603.5 464.4h0.9M519.0 491.5h0.9M559.4 519.4h0.9M606.0 482.7h0.9M514.0 504.2h0.9M629.3 411.3h0.9M541.1 498.3h0.9M559.1 457.8h0.9M632.1 469.4h0.9M512.6 498.8h0.9M641.8 509.1h0.9M609.8 505.5h0.9M581.1 523.5h0.9M522.9 471.6h0.9M564.0 512.2h0.9M570.0 473.5h0.9M578.7 501.8h0.9M502.0 475.5h0.9M639.7 471.1h0.9M556.5 453.5h0.9M515.1 517.9h0.9M577.1 506.5h0.9M617.2 452.4h0.9M591.9 471.0h0.9M582.0 469.3h0.9M536.8 459.5h0.9M548.0 535.5h0.9M555.1 460.9h0.9M685.6 485.6h0.9M627.5 505.5h0.9M540.1 497.6h0.9M631.0 523.5h0.9M567.6 510.6h0.9M658.8 444.5h0.9M521.3 478.3h0.9M617.1 507.6h0.9M687.2 486.6h0.9M584.9 513.6h0.9M649.7 383.9h0.9M575.7 430.6h0.9M601.0 435.5h0.9M594.6 461.8h0.9M608.0 468.5h0.9M666.0 531.6h0.9M662.0 481.1h0.9M570.1 528.4h0.9M669.3 480.8h0.9M579.4 525.5h0.9M506.9 485.9h0.9M595.1 535.6h0.9" stroke="#000" stroke-width="0.9" fill="none"/>
<path d="M519.09 596.3v-2.6M519.09 344.2v2.6M531.14 596.3v-2.6M531.14 344.2v2.6M539.68 596.3v-2.6M539.68 344.2v2.6M546.31 596.3v-2.6M546.31 344.2v2.6M551.73 596.3v-2.6M551.73 344.2v2.6M556.3 596.3v-2.6M556.3 344.2v2.6M560.27 596.3v-2.6M560.27 344.2v2.6M563.77 596.3v-2.6M563.77 344.2v2.6M566.9 596.3v-5.2M566.9 344.2v5.2M587.49 596.3v-2.6M587.49 344.2v2.6M599.54 596.3v-2.6M599.54 344.2v2.6M608.08 596.3v-2.6M608.08 344.2v2.6M614.71 596.3v-2.6M614.71 344.2v2.6M620.13 596.3v-2.6M620.13 344.2v2.6M624.7 596.3v-2.6M624.7 344.2v2.6M628.67 596.3v-2.6M628.67 344.2v2.6M632.17 596.3v-2.6M632.17 344.2v2.6M635.3 596.3v-5.2M635.3 344.2v5.2M655.89 596.3v-2.6M655.89 344.2v2.6M667.94 596.3v-2.6M667.94 344.2v2.6M676.48 596.3v-2.6M676.48 344.2v2.6M683.11 596.3v-2.6M683.11 344.2v2.6M688.53 596.3v-2.6M688.53 344.2v2.6M693.1 596.3v-2.6M693.1 344.2v2.6M697.07 596.3v-2.6M697.07 344.2v2.6M700.57 596.3v-2.6M700.57 344.2v2.6M703.7 596.3v-5.2M703.7 344.2v5.2M724.29 596.3v-2.6M724.29 344.2v2.6M736.34 596.3v-2.6M736.34 344.2v2.6M744.88 596.3v-2.6M744.88 344.2v2.6M751.51 596.3v-2.6M751.51 344.2v2.6M756.93 596.3v-2.6M756.93 344.2v2.6M761.5 596.3v-2.6M761.5 344.2v2.6M765.47 596.3v-2.6M765.47 344.2v2.6M768.97 596.3v-2.6M768.97 344.2v2.6M772.1 596.3v-5.2M772.1 344.2v5.2M792.69 596.3v-2.6M792.69 344.2v2.6M804.74 596.3v-2.6M804.74 344.2v2.6M498.5 587.9h3.2M805.5 587.9h-3.2M498.5 579.49h3.2M805.5 579.49h-3.2M498.5 571.09h3.2M805.5 571.09h-3.2M498.5 562.69h3.2M805.5 562.69h-3.2M498.5 554.28h6.2M805.5 554.28h-6.2M498.5 545.88h3.2M805.5 545.88h-3.2M498.5 537.48h3.2M805.5 537.48h-3.2M498.5 529.07h3.2M805.5 529.07h-3.2M498.5 520.67h3.2M805.5 520.67h-3.2M498.5 512.27h6.2M805.5 512.27h-6.2M498.5 503.86h3.2M805.5 503.86h-3.2M498.5 495.46h3.2M805.5 495.46h-3.2M498.5 487.06h3.2M805.5 487.06h-3.2M498.5 478.65h3.2M805.5 478.65h-3.2M498.5 470.25h6.2M805.5 470.25h-6.2M498.5 461.85h3.2M805.5 461.85h-3.2M498.5 453.44h3.2M805.5 453.44h-3.2M498.5 445.04h3.2M805.5 445.04h-3.2M498.5 436.64h3.2M805.5 436.64h-3.2M498.5 428.23h6.2M805.5 428.23h-6.2M498.5 419.83h3.2M805.5 419.83h-3.2M498.5 411.43h3.2M805.5 411.43h-3.2M498.5 403.02h3.2M805.5 403.02h-3.2M498.5 394.62h3.2M805.5 394.62h-3.2M498.5 386.22h6.2M805.5 386.22h-6.2M498.5 377.81h3.2M805.5 377.81h-3.2M498.5 369.41h3.2M805.5 369.41h-3.2M498.5 361.01h3.2M805.5 361.01h-3.2M498.5 352.6h3.2M805.5 352.6h-3.2" stroke="#000" stroke-width="0.7" fill="none"/>
<path d="M498.5 554.28H805.5" stroke="#000" stroke-width="1" fill="none"/>
<path d="M515.9 483.2L548.3 484.6L581.5 485.6L614.9 479.2L648.3 479.6L679.6 473L716.3 456.2L747 427.6" stroke="#ff0000" stroke-width="2.3" fill="none" stroke-linejoin="round"/>
<path d="M515.9 446.4V519.6M548.3 449.5V519.6M581.5 453.1V519.6M614.9 444.1V515.1M648.3 443.5V516.2M679.6 442.1V504.2M716.3 424.4V489.4M747 402V452.7" stroke="#ff0000" stroke-width="2.15" fill="none"/>
<path d="M515.9 558.2L548.3 558.2L581.5 558.2L614.9 558.2L648.3 558.6L679.6 559.2L716.3 564L747 556.3" stroke="#ff0000" stroke-width="2.5" fill="none" stroke-linecap="round" stroke-linejoin="round" stroke-dasharray="0.01 6.59" stroke-dashoffset="1.1"/>
<path d="M515.9 546.6V570.7M548.3 544.7V571.7M581.5 546.2V570.2M614.9 545.6V572.3M648.3 545.6V572.7M679.6 546.2V570.7M716.3 548V580.4M747 539.8V573.6" stroke="#ff0000" stroke-width="2.15" fill="none"/>
<path d="M522 511.3L554.1 511.2L587.5 510.7L621 505.5L654.4 504.9L685.4 498.7L722.5 484.2L752.9 458.5" stroke="#0000ff" stroke-width="2.3" fill="none" stroke-linejoin="round"/>
<path d="M522 492.1V531.5M554.1 489.3V532.1M587.5 490V531.7M621 482.3V528.3M654.4 480.3V529.5M685.4 476.3V521.5M722.5 458.1V510.6M752.9 439.6V476.3" stroke="#0000ff" stroke-width="2.15" fill="none"/>
<path d="M522 556.6L554.1 556.6L587.5 556.6L621 556.6L654.4 556.6L685.4 556.6L722.5 558.2L752.9 555.3" stroke="#0000ff" stroke-width="2.5" fill="none" stroke-linecap="round" stroke-linejoin="round" stroke-dasharray="0.01 6.59" stroke-dashoffset="1.1"/>
<path d="M522 553.4V559.7M554.1 553V560M587.5 553V560M621 551.8V560.7M654.4 551.4V561.5M685.4 552.4V560.7M722.5 552.4V565.5M752.9 547.6V563.6" stroke="#0000ff" stroke-width="2.15" fill="none"/>
<path d="M519.4 539.8L551.5 539.8L584.6 539.8L617.9 539.8L651.3 540.2L682.5 539.8L719.4 538.9L750 538.9" stroke="#000000" stroke-width="2.3" fill="none" stroke-linejoin="round"/>
<path d="M519.4 538.2V541.4M551.5 538.2V541.4M584.6 538.2V541.4M617.9 538.2V541.4M651.3 538.6V541.8M682.5 538.2V541.4M719.4 537.3V540.5M750 537.3V540.5" stroke="#000000" stroke-width="2.15" fill="none"/>
<path d="M519.4 554.9L551.5 554.9L584.6 554.9L617.9 554.9L651.3 554.9L682.5 554.9L719.4 554.9L750 554.9" stroke="#000000" stroke-width="2.5" fill="none" stroke-linecap="round" stroke-linejoin="round" stroke-dasharray="0.01 6.59" stroke-dashoffset="1.1"/>
<path d="M519.4 553.3V556.5M551.5 553.3V556.5M584.6 553.3V556.5M617.9 553.3V556.5M651.3 553.3V556.5M682.5 553.3V556.5M719.4 553.3V556.5M750 553.3V556.5" stroke="#000000" stroke-width="2.15" fill="none"/>
<rect x="498.5" y="344.2" width="307" height="252.1" fill="none" stroke="#000" stroke-width="0.85"/>
<text x="492.5" y="596" text-anchor="end">-500</text>
<text x="492.5" y="560.88" text-anchor="end">0</text>
<text x="492.5" y="518.87" text-anchor="end">500</text>
<text x="492.5" y="476.85" text-anchor="end">1000</text>
<text x="492.5" y="434.83" text-anchor="end">1500</text>
<text x="492.5" y="392.82" text-anchor="end">2000</text>
<text x="492.5" y="355.6" text-anchor="end">2500</text>
<text x="498.5" y="620.8" text-anchor="middle">0.0001</text>
<text x="566.9" y="620.8" text-anchor="middle">0.0010</text>
<text x="635.3" y="620.8" text-anchor="middle">0.0100</text>
<text x="703.7" y="620.8" text-anchor="middle">0.1000</text>
<text x="772.1" y="620.8" text-anchor="middle">1.0000</text>
<text x="651.5" y="642.8" text-anchor="middle">X-ray flux (J m<tspan font-size="12.338px" dy="-9.5">-2</tspan><tspan dy="9.5">)</tspan></text>
<text transform="translate(434.2 470.25) rotate(-90)" text-anchor="middle" xml:space="preserve" style="font-size:20.2px"><tspan dy="0">HEL indices (10</tspan><tspan font-size="12.524px" dy="-9.6">-12</tspan><tspan dy="9.6">&#160;s</tspan><tspan font-size="12.524px" dy="-9.6">-2</tspan><tspan dy="9.6">)</tspan></text>
</g>
</svg></body></html>
